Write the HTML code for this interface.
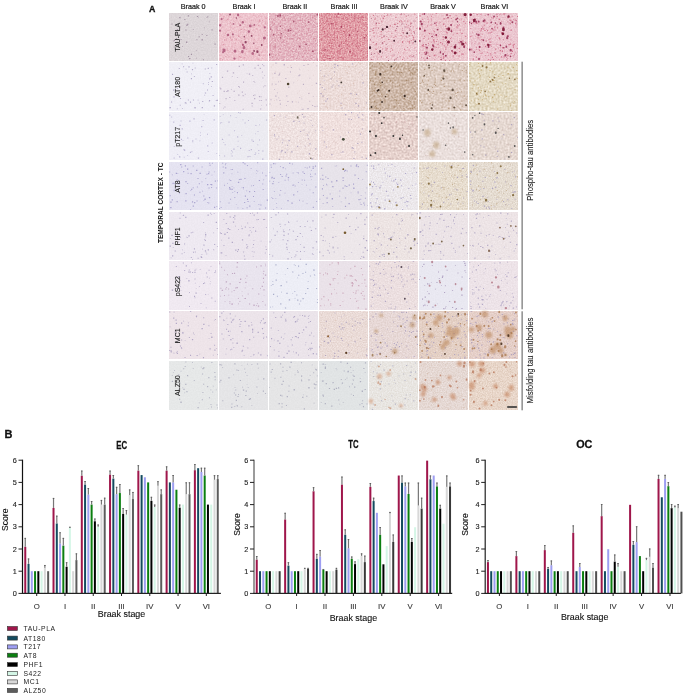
<!DOCTYPE html>
<html><head><meta charset="utf-8"><title>Figure</title>
<style>
html,body{margin:0;padding:0;background:#fff;}
body{width:685px;height:694px;overflow:hidden;}
svg{display:block;font-family:"Liberation Sans", Arial, sans-serif;}
</style></head>
<body>
<svg width="685" height="694" viewBox="0 0 685 694">
<defs><filter id="bl"><feGaussianBlur stdDeviation="0.9"/></filter><filter id="bs"><feGaussianBlur stdDeviation="0.45"/></filter><filter id="f00" x="0" y="0" width="1" height="1" color-interpolation-filters="sRGB"><feTurbulence type="fractalNoise" baseFrequency="0.7" numOctaves="2" seed="332" result="t"/><feColorMatrix in="t" type="matrix" values="0.080 0 0 0 0.460 0.080 0 0 0 0.460 0.080 0 0 0 0.460 0 0 0 0 1" result="n"/><feComposite in="SourceGraphic" in2="n" operator="arithmetic" k1="0" k2="1" k3="1" k4="-0.5"/></filter><filter id="f01" x="0" y="0" width="1" height="1" color-interpolation-filters="sRGB"><feTurbulence type="fractalNoise" baseFrequency="0.6" numOctaves="2" seed="979" result="t"/><feColorMatrix in="t" type="matrix" values="0.100 0 0 0 0.450 0.240 0 0 0 0.380 0.200 0 0 0 0.400 0 0 0 0 1" result="n"/><feComposite in="SourceGraphic" in2="n" operator="arithmetic" k1="0" k2="1" k3="1" k4="-0.5"/></filter><filter id="f02" x="0" y="0" width="1" height="1" color-interpolation-filters="sRGB"><feTurbulence type="fractalNoise" baseFrequency="0.6" numOctaves="2" seed="4" result="t"/><feColorMatrix in="t" type="matrix" values="0.180 0 0 0 0.410 0.440 0 0 0 0.280 0.340 0 0 0 0.330 0 0 0 0 1" result="n"/><feComposite in="SourceGraphic" in2="n" operator="arithmetic" k1="0" k2="1" k3="1" k4="-0.5"/></filter><filter id="f03" x="0" y="0" width="1" height="1" color-interpolation-filters="sRGB"><feTurbulence type="fractalNoise" baseFrequency="0.7" numOctaves="2" seed="636" result="t"/><feColorMatrix in="t" type="matrix" values="0.200 0 0 0 0.400 0.520 0 0 0 0.240 0.400 0 0 0 0.300 0 0 0 0 1" result="n"/><feComposite in="SourceGraphic" in2="n" operator="arithmetic" k1="0" k2="1" k3="1" k4="-0.5"/></filter><filter id="f04" x="0" y="0" width="1" height="1" color-interpolation-filters="sRGB"><feTurbulence type="fractalNoise" baseFrequency="0.7" numOctaves="2" seed="172" result="t"/><feColorMatrix in="t" type="matrix" values="0.100 0 0 0 0.450 0.240 0 0 0 0.380 0.200 0 0 0 0.400 0 0 0 0 1" result="n"/><feComposite in="SourceGraphic" in2="n" operator="arithmetic" k1="0" k2="1" k3="1" k4="-0.5"/></filter><filter id="f05" x="0" y="0" width="1" height="1" color-interpolation-filters="sRGB"><feTurbulence type="fractalNoise" baseFrequency="0.7" numOctaves="2" seed="249" result="t"/><feColorMatrix in="t" type="matrix" values="0.100 0 0 0 0.450 0.240 0 0 0 0.380 0.200 0 0 0 0.400 0 0 0 0 1" result="n"/><feComposite in="SourceGraphic" in2="n" operator="arithmetic" k1="0" k2="1" k3="1" k4="-0.5"/></filter><filter id="f06" x="0" y="0" width="1" height="1" color-interpolation-filters="sRGB"><feTurbulence type="fractalNoise" baseFrequency="0.7" numOctaves="2" seed="564" result="t"/><feColorMatrix in="t" type="matrix" values="0.100 0 0 0 0.450 0.240 0 0 0 0.380 0.200 0 0 0 0.400 0 0 0 0 1" result="n"/><feComposite in="SourceGraphic" in2="n" operator="arithmetic" k1="0" k2="1" k3="1" k4="-0.5"/></filter><filter id="f10" x="0" y="0" width="1" height="1" color-interpolation-filters="sRGB"><feTurbulence type="fractalNoise" baseFrequency="0.7" numOctaves="2" seed="679" result="t"/><feColorMatrix in="t" type="matrix" values="0.040 0 0 0 0.480 0.040 0 0 0 0.480 0.040 0 0 0 0.480 0 0 0 0 1" result="n"/><feComposite in="SourceGraphic" in2="n" operator="arithmetic" k1="0" k2="1" k3="1" k4="-0.5"/></filter><filter id="f11" x="0" y="0" width="1" height="1" color-interpolation-filters="sRGB"><feTurbulence type="fractalNoise" baseFrequency="0.7" numOctaves="2" seed="512" result="t"/><feColorMatrix in="t" type="matrix" values="0.040 0 0 0 0.480 0.040 0 0 0 0.480 0.040 0 0 0 0.480 0 0 0 0 1" result="n"/><feComposite in="SourceGraphic" in2="n" operator="arithmetic" k1="0" k2="1" k3="1" k4="-0.5"/></filter><filter id="f12" x="0" y="0" width="1" height="1" color-interpolation-filters="sRGB"><feTurbulence type="fractalNoise" baseFrequency="0.7" numOctaves="2" seed="136" result="t"/><feColorMatrix in="t" type="matrix" values="0.040 0 0 0 0.480 0.040 0 0 0 0.480 0.040 0 0 0 0.480 0 0 0 0 1" result="n"/><feComposite in="SourceGraphic" in2="n" operator="arithmetic" k1="0" k2="1" k3="1" k4="-0.5"/></filter><filter id="f13" x="0" y="0" width="1" height="1" color-interpolation-filters="sRGB"><feTurbulence type="fractalNoise" baseFrequency="0.6" numOctaves="2" seed="559" result="t"/><feColorMatrix in="t" type="matrix" values="0.140 0 0 0 0.430 0.180 0 0 0 0.410 0.200 0 0 0 0.400 0 0 0 0 1" result="n"/><feComposite in="SourceGraphic" in2="n" operator="arithmetic" k1="0" k2="1" k3="1" k4="-0.5"/></filter><filter id="f14" x="0" y="0" width="1" height="1" color-interpolation-filters="sRGB"><feTurbulence type="fractalNoise" baseFrequency="0.5" numOctaves="2" seed="369" result="t"/><feColorMatrix in="t" type="matrix" values="0.320 0 0 0 0.340 0.380 0 0 0 0.310 0.460 0 0 0 0.270 0 0 0 0 1" result="n"/><feComposite in="SourceGraphic" in2="n" operator="arithmetic" k1="0" k2="1" k3="1" k4="-0.5"/></filter><filter id="f15" x="0" y="0" width="1" height="1" color-interpolation-filters="sRGB"><feTurbulence type="fractalNoise" baseFrequency="0.5" numOctaves="2" seed="820" result="t"/><feColorMatrix in="t" type="matrix" values="0.260 0 0 0 0.370 0.300 0 0 0 0.350 0.360 0 0 0 0.320 0 0 0 0 1" result="n"/><feComposite in="SourceGraphic" in2="n" operator="arithmetic" k1="0" k2="1" k3="1" k4="-0.5"/></filter><filter id="f16" x="0" y="0" width="1" height="1" color-interpolation-filters="sRGB"><feTurbulence type="fractalNoise" baseFrequency="0.5" numOctaves="2" seed="81" result="t"/><feColorMatrix in="t" type="matrix" values="0.240 0 0 0 0.380 0.280 0 0 0 0.360 0.380 0 0 0 0.310 0 0 0 0 1" result="n"/><feComposite in="SourceGraphic" in2="n" operator="arithmetic" k1="0" k2="1" k3="1" k4="-0.5"/></filter><filter id="f20" x="0" y="0" width="1" height="1" color-interpolation-filters="sRGB"><feTurbulence type="fractalNoise" baseFrequency="0.7" numOctaves="2" seed="706" result="t"/><feColorMatrix in="t" type="matrix" values="0.040 0 0 0 0.480 0.040 0 0 0 0.480 0.040 0 0 0 0.480 0 0 0 0 1" result="n"/><feComposite in="SourceGraphic" in2="n" operator="arithmetic" k1="0" k2="1" k3="1" k4="-0.5"/></filter><filter id="f21" x="0" y="0" width="1" height="1" color-interpolation-filters="sRGB"><feTurbulence type="fractalNoise" baseFrequency="0.7" numOctaves="2" seed="314" result="t"/><feColorMatrix in="t" type="matrix" values="0.040 0 0 0 0.480 0.040 0 0 0 0.480 0.040 0 0 0 0.480 0 0 0 0 1" result="n"/><feComposite in="SourceGraphic" in2="n" operator="arithmetic" k1="0" k2="1" k3="1" k4="-0.5"/></filter><filter id="f22" x="0" y="0" width="1" height="1" color-interpolation-filters="sRGB"><feTurbulence type="fractalNoise" baseFrequency="0.6" numOctaves="2" seed="373" result="t"/><feColorMatrix in="t" type="matrix" values="0.140 0 0 0 0.430 0.180 0 0 0 0.410 0.180 0 0 0 0.410 0 0 0 0 1" result="n"/><feComposite in="SourceGraphic" in2="n" operator="arithmetic" k1="0" k2="1" k3="1" k4="-0.5"/></filter><filter id="f23" x="0" y="0" width="1" height="1" color-interpolation-filters="sRGB"><feTurbulence type="fractalNoise" baseFrequency="0.6" numOctaves="2" seed="777" result="t"/><feColorMatrix in="t" type="matrix" values="0.140 0 0 0 0.430 0.180 0 0 0 0.410 0.180 0 0 0 0.410 0 0 0 0 1" result="n"/><feComposite in="SourceGraphic" in2="n" operator="arithmetic" k1="0" k2="1" k3="1" k4="-0.5"/></filter><filter id="f24" x="0" y="0" width="1" height="1" color-interpolation-filters="sRGB"><feTurbulence type="fractalNoise" baseFrequency="0.5" numOctaves="2" seed="399" result="t"/><feColorMatrix in="t" type="matrix" values="0.280 0 0 0 0.360 0.320 0 0 0 0.340 0.320 0 0 0 0.340 0 0 0 0 1" result="n"/><feComposite in="SourceGraphic" in2="n" operator="arithmetic" k1="0" k2="1" k3="1" k4="-0.5"/></filter><filter id="f25" x="0" y="0" width="1" height="1" color-interpolation-filters="sRGB"><feTurbulence type="fractalNoise" baseFrequency="0.5" numOctaves="2" seed="261" result="t"/><feColorMatrix in="t" type="matrix" values="0.180 0 0 0 0.410 0.200 0 0 0 0.400 0.220 0 0 0 0.390 0 0 0 0 1" result="n"/><feComposite in="SourceGraphic" in2="n" operator="arithmetic" k1="0" k2="1" k3="1" k4="-0.5"/></filter><filter id="f26" x="0" y="0" width="1" height="1" color-interpolation-filters="sRGB"><feTurbulence type="fractalNoise" baseFrequency="0.5" numOctaves="2" seed="276" result="t"/><feColorMatrix in="t" type="matrix" values="0.200 0 0 0 0.400 0.220 0 0 0 0.390 0.240 0 0 0 0.380 0 0 0 0 1" result="n"/><feComposite in="SourceGraphic" in2="n" operator="arithmetic" k1="0" k2="1" k3="1" k4="-0.5"/></filter><filter id="f30" x="0" y="0" width="1" height="1" color-interpolation-filters="sRGB"><feTurbulence type="fractalNoise" baseFrequency="0.7" numOctaves="2" seed="669" result="t"/><feColorMatrix in="t" type="matrix" values="0.040 0 0 0 0.480 0.040 0 0 0 0.480 0.040 0 0 0 0.480 0 0 0 0 1" result="n"/><feComposite in="SourceGraphic" in2="n" operator="arithmetic" k1="0" k2="1" k3="1" k4="-0.5"/></filter><filter id="f31" x="0" y="0" width="1" height="1" color-interpolation-filters="sRGB"><feTurbulence type="fractalNoise" baseFrequency="0.7" numOctaves="2" seed="955" result="t"/><feColorMatrix in="t" type="matrix" values="0.040 0 0 0 0.480 0.040 0 0 0 0.480 0.040 0 0 0 0.480 0 0 0 0 1" result="n"/><feComposite in="SourceGraphic" in2="n" operator="arithmetic" k1="0" k2="1" k3="1" k4="-0.5"/></filter><filter id="f32" x="0" y="0" width="1" height="1" color-interpolation-filters="sRGB"><feTurbulence type="fractalNoise" baseFrequency="0.7" numOctaves="2" seed="119" result="t"/><feColorMatrix in="t" type="matrix" values="0.040 0 0 0 0.480 0.040 0 0 0 0.480 0.040 0 0 0 0.480 0 0 0 0 1" result="n"/><feComposite in="SourceGraphic" in2="n" operator="arithmetic" k1="0" k2="1" k3="1" k4="-0.5"/></filter><filter id="f33" x="0" y="0" width="1" height="1" color-interpolation-filters="sRGB"><feTurbulence type="fractalNoise" baseFrequency="0.7" numOctaves="2" seed="45" result="t"/><feColorMatrix in="t" type="matrix" values="0.040 0 0 0 0.480 0.040 0 0 0 0.480 0.040 0 0 0 0.480 0 0 0 0 1" result="n"/><feComposite in="SourceGraphic" in2="n" operator="arithmetic" k1="0" k2="1" k3="1" k4="-0.5"/></filter><filter id="f34" x="0" y="0" width="1" height="1" color-interpolation-filters="sRGB"><feTurbulence type="fractalNoise" baseFrequency="0.8" numOctaves="2" seed="876" result="t"/><feColorMatrix in="t" type="matrix" values="0.120 0 0 0 0.440 0.140 0 0 0 0.430 0.160 0 0 0 0.420 0 0 0 0 1" result="n"/><feComposite in="SourceGraphic" in2="n" operator="arithmetic" k1="0" k2="1" k3="1" k4="-0.5"/></filter><filter id="f35" x="0" y="0" width="1" height="1" color-interpolation-filters="sRGB"><feTurbulence type="fractalNoise" baseFrequency="0.8" numOctaves="2" seed="131" result="t"/><feColorMatrix in="t" type="matrix" values="0.160 0 0 0 0.420 0.190 0 0 0 0.405 0.240 0 0 0 0.380 0 0 0 0 1" result="n"/><feComposite in="SourceGraphic" in2="n" operator="arithmetic" k1="0" k2="1" k3="1" k4="-0.5"/></filter><filter id="f36" x="0" y="0" width="1" height="1" color-interpolation-filters="sRGB"><feTurbulence type="fractalNoise" baseFrequency="0.8" numOctaves="2" seed="799" result="t"/><feColorMatrix in="t" type="matrix" values="0.160 0 0 0 0.420 0.190 0 0 0 0.405 0.220 0 0 0 0.390 0 0 0 0 1" result="n"/><feComposite in="SourceGraphic" in2="n" operator="arithmetic" k1="0" k2="1" k3="1" k4="-0.5"/></filter><filter id="f40" x="0" y="0" width="1" height="1" color-interpolation-filters="sRGB"><feTurbulence type="fractalNoise" baseFrequency="0.7" numOctaves="2" seed="333" result="t"/><feColorMatrix in="t" type="matrix" values="0.040 0 0 0 0.480 0.040 0 0 0 0.480 0.040 0 0 0 0.480 0 0 0 0 1" result="n"/><feComposite in="SourceGraphic" in2="n" operator="arithmetic" k1="0" k2="1" k3="1" k4="-0.5"/></filter><filter id="f41" x="0" y="0" width="1" height="1" color-interpolation-filters="sRGB"><feTurbulence type="fractalNoise" baseFrequency="0.7" numOctaves="2" seed="990" result="t"/><feColorMatrix in="t" type="matrix" values="0.040 0 0 0 0.480 0.040 0 0 0 0.480 0.040 0 0 0 0.480 0 0 0 0 1" result="n"/><feComposite in="SourceGraphic" in2="n" operator="arithmetic" k1="0" k2="1" k3="1" k4="-0.5"/></filter><filter id="f42" x="0" y="0" width="1" height="1" color-interpolation-filters="sRGB"><feTurbulence type="fractalNoise" baseFrequency="0.7" numOctaves="2" seed="825" result="t"/><feColorMatrix in="t" type="matrix" values="0.040 0 0 0 0.480 0.040 0 0 0 0.480 0.040 0 0 0 0.480 0 0 0 0 1" result="n"/><feComposite in="SourceGraphic" in2="n" operator="arithmetic" k1="0" k2="1" k3="1" k4="-0.5"/></filter><filter id="f43" x="0" y="0" width="1" height="1" color-interpolation-filters="sRGB"><feTurbulence type="fractalNoise" baseFrequency="0.7" numOctaves="2" seed="270" result="t"/><feColorMatrix in="t" type="matrix" values="0.040 0 0 0 0.480 0.040 0 0 0 0.480 0.040 0 0 0 0.480 0 0 0 0 1" result="n"/><feComposite in="SourceGraphic" in2="n" operator="arithmetic" k1="0" k2="1" k3="1" k4="-0.5"/></filter><filter id="f44" x="0" y="0" width="1" height="1" color-interpolation-filters="sRGB"><feTurbulence type="fractalNoise" baseFrequency="0.7" numOctaves="2" seed="883" result="t"/><feColorMatrix in="t" type="matrix" values="0.080 0 0 0 0.460 0.100 0 0 0 0.450 0.100 0 0 0 0.450 0 0 0 0 1" result="n"/><feComposite in="SourceGraphic" in2="n" operator="arithmetic" k1="0" k2="1" k3="1" k4="-0.5"/></filter><filter id="f45" x="0" y="0" width="1" height="1" color-interpolation-filters="sRGB"><feTurbulence type="fractalNoise" baseFrequency="0.7" numOctaves="2" seed="427" result="t"/><feColorMatrix in="t" type="matrix" values="0.060 0 0 0 0.470 0.070 0 0 0 0.465 0.070 0 0 0 0.465 0 0 0 0 1" result="n"/><feComposite in="SourceGraphic" in2="n" operator="arithmetic" k1="0" k2="1" k3="1" k4="-0.5"/></filter><filter id="f46" x="0" y="0" width="1" height="1" color-interpolation-filters="sRGB"><feTurbulence type="fractalNoise" baseFrequency="0.7" numOctaves="2" seed="492" result="t"/><feColorMatrix in="t" type="matrix" values="0.080 0 0 0 0.460 0.090 0 0 0 0.455 0.090 0 0 0 0.455 0 0 0 0 1" result="n"/><feComposite in="SourceGraphic" in2="n" operator="arithmetic" k1="0" k2="1" k3="1" k4="-0.5"/></filter><filter id="f50" x="0" y="0" width="1" height="1" color-interpolation-filters="sRGB"><feTurbulence type="fractalNoise" baseFrequency="0.7" numOctaves="2" seed="714" result="t"/><feColorMatrix in="t" type="matrix" values="0.040 0 0 0 0.480 0.040 0 0 0 0.480 0.040 0 0 0 0.480 0 0 0 0 1" result="n"/><feComposite in="SourceGraphic" in2="n" operator="arithmetic" k1="0" k2="1" k3="1" k4="-0.5"/></filter><filter id="f51" x="0" y="0" width="1" height="1" color-interpolation-filters="sRGB"><feTurbulence type="fractalNoise" baseFrequency="0.7" numOctaves="2" seed="129" result="t"/><feColorMatrix in="t" type="matrix" values="0.040 0 0 0 0.480 0.040 0 0 0 0.480 0.040 0 0 0 0.480 0 0 0 0 1" result="n"/><feComposite in="SourceGraphic" in2="n" operator="arithmetic" k1="0" k2="1" k3="1" k4="-0.5"/></filter><filter id="f52" x="0" y="0" width="1" height="1" color-interpolation-filters="sRGB"><feTurbulence type="fractalNoise" baseFrequency="0.7" numOctaves="2" seed="424" result="t"/><feColorMatrix in="t" type="matrix" values="0.040 0 0 0 0.480 0.040 0 0 0 0.480 0.040 0 0 0 0.480 0 0 0 0 1" result="n"/><feComposite in="SourceGraphic" in2="n" operator="arithmetic" k1="0" k2="1" k3="1" k4="-0.5"/></filter><filter id="f53" x="0" y="0" width="1" height="1" color-interpolation-filters="sRGB"><feTurbulence type="fractalNoise" baseFrequency="0.7" numOctaves="2" seed="347" result="t"/><feColorMatrix in="t" type="matrix" values="0.040 0 0 0 0.480 0.040 0 0 0 0.480 0.040 0 0 0 0.480 0 0 0 0 1" result="n"/><feComposite in="SourceGraphic" in2="n" operator="arithmetic" k1="0" k2="1" k3="1" k4="-0.5"/></filter><filter id="f54" x="0" y="0" width="1" height="1" color-interpolation-filters="sRGB"><feTurbulence type="fractalNoise" baseFrequency="0.7" numOctaves="2" seed="409" result="t"/><feColorMatrix in="t" type="matrix" values="0.100 0 0 0 0.450 0.120 0 0 0 0.440 0.120 0 0 0 0.440 0 0 0 0 1" result="n"/><feComposite in="SourceGraphic" in2="n" operator="arithmetic" k1="0" k2="1" k3="1" k4="-0.5"/></filter><filter id="f55" x="0" y="0" width="1" height="1" color-interpolation-filters="sRGB"><feTurbulence type="fractalNoise" baseFrequency="0.7" numOctaves="2" seed="658" result="t"/><feColorMatrix in="t" type="matrix" values="0.040 0 0 0 0.480 0.040 0 0 0 0.480 0.040 0 0 0 0.480 0 0 0 0 1" result="n"/><feComposite in="SourceGraphic" in2="n" operator="arithmetic" k1="0" k2="1" k3="1" k4="-0.5"/></filter><filter id="f56" x="0" y="0" width="1" height="1" color-interpolation-filters="sRGB"><feTurbulence type="fractalNoise" baseFrequency="0.7" numOctaves="2" seed="166" result="t"/><feColorMatrix in="t" type="matrix" values="0.080 0 0 0 0.460 0.090 0 0 0 0.455 0.090 0 0 0 0.455 0 0 0 0 1" result="n"/><feComposite in="SourceGraphic" in2="n" operator="arithmetic" k1="0" k2="1" k3="1" k4="-0.5"/></filter><filter id="f60" x="0" y="0" width="1" height="1" color-interpolation-filters="sRGB"><feTurbulence type="fractalNoise" baseFrequency="0.7" numOctaves="2" seed="528" result="t"/><feColorMatrix in="t" type="matrix" values="0.040 0 0 0 0.480 0.040 0 0 0 0.480 0.040 0 0 0 0.480 0 0 0 0 1" result="n"/><feComposite in="SourceGraphic" in2="n" operator="arithmetic" k1="0" k2="1" k3="1" k4="-0.5"/></filter><filter id="f61" x="0" y="0" width="1" height="1" color-interpolation-filters="sRGB"><feTurbulence type="fractalNoise" baseFrequency="0.7" numOctaves="2" seed="888" result="t"/><feColorMatrix in="t" type="matrix" values="0.040 0 0 0 0.480 0.040 0 0 0 0.480 0.040 0 0 0 0.480 0 0 0 0 1" result="n"/><feComposite in="SourceGraphic" in2="n" operator="arithmetic" k1="0" k2="1" k3="1" k4="-0.5"/></filter><filter id="f62" x="0" y="0" width="1" height="1" color-interpolation-filters="sRGB"><feTurbulence type="fractalNoise" baseFrequency="0.7" numOctaves="2" seed="406" result="t"/><feColorMatrix in="t" type="matrix" values="0.040 0 0 0 0.480 0.040 0 0 0 0.480 0.040 0 0 0 0.480 0 0 0 0 1" result="n"/><feComposite in="SourceGraphic" in2="n" operator="arithmetic" k1="0" k2="1" k3="1" k4="-0.5"/></filter><filter id="f63" x="0" y="0" width="1" height="1" color-interpolation-filters="sRGB"><feTurbulence type="fractalNoise" baseFrequency="0.8" numOctaves="2" seed="870" result="t"/><feColorMatrix in="t" type="matrix" values="0.120 0 0 0 0.440 0.160 0 0 0 0.420 0.180 0 0 0 0.410 0 0 0 0 1" result="n"/><feComposite in="SourceGraphic" in2="n" operator="arithmetic" k1="0" k2="1" k3="1" k4="-0.5"/></filter><filter id="f64" x="0" y="0" width="1" height="1" color-interpolation-filters="sRGB"><feTurbulence type="fractalNoise" baseFrequency="0.8" numOctaves="2" seed="808" result="t"/><feColorMatrix in="t" type="matrix" values="0.120 0 0 0 0.440 0.150 0 0 0 0.425 0.180 0 0 0 0.410 0 0 0 0 1" result="n"/><feComposite in="SourceGraphic" in2="n" operator="arithmetic" k1="0" k2="1" k3="1" k4="-0.5"/></filter><filter id="f65" x="0" y="0" width="1" height="1" color-interpolation-filters="sRGB"><feTurbulence type="fractalNoise" baseFrequency="0.8" numOctaves="2" seed="987" result="t"/><feColorMatrix in="t" type="matrix" values="0.120 0 0 0 0.440 0.160 0 0 0 0.420 0.200 0 0 0 0.400 0 0 0 0 1" result="n"/><feComposite in="SourceGraphic" in2="n" operator="arithmetic" k1="0" k2="1" k3="1" k4="-0.5"/></filter><filter id="f66" x="0" y="0" width="1" height="1" color-interpolation-filters="sRGB"><feTurbulence type="fractalNoise" baseFrequency="0.8" numOctaves="2" seed="611" result="t"/><feColorMatrix in="t" type="matrix" values="0.120 0 0 0 0.440 0.160 0 0 0 0.420 0.200 0 0 0 0.400 0 0 0 0 1" result="n"/><feComposite in="SourceGraphic" in2="n" operator="arithmetic" k1="0" k2="1" k3="1" k4="-0.5"/></filter><filter id="f70" x="0" y="0" width="1" height="1" color-interpolation-filters="sRGB"><feTurbulence type="fractalNoise" baseFrequency="0.7" numOctaves="2" seed="513" result="t"/><feColorMatrix in="t" type="matrix" values="0.040 0 0 0 0.480 0.040 0 0 0 0.480 0.040 0 0 0 0.480 0 0 0 0 1" result="n"/><feComposite in="SourceGraphic" in2="n" operator="arithmetic" k1="0" k2="1" k3="1" k4="-0.5"/></filter><filter id="f71" x="0" y="0" width="1" height="1" color-interpolation-filters="sRGB"><feTurbulence type="fractalNoise" baseFrequency="0.7" numOctaves="2" seed="92" result="t"/><feColorMatrix in="t" type="matrix" values="0.040 0 0 0 0.480 0.040 0 0 0 0.480 0.040 0 0 0 0.480 0 0 0 0 1" result="n"/><feComposite in="SourceGraphic" in2="n" operator="arithmetic" k1="0" k2="1" k3="1" k4="-0.5"/></filter><filter id="f72" x="0" y="0" width="1" height="1" color-interpolation-filters="sRGB"><feTurbulence type="fractalNoise" baseFrequency="0.7" numOctaves="2" seed="631" result="t"/><feColorMatrix in="t" type="matrix" values="0.040 0 0 0 0.480 0.040 0 0 0 0.480 0.040 0 0 0 0.480 0 0 0 0 1" result="n"/><feComposite in="SourceGraphic" in2="n" operator="arithmetic" k1="0" k2="1" k3="1" k4="-0.5"/></filter><filter id="f73" x="0" y="0" width="1" height="1" color-interpolation-filters="sRGB"><feTurbulence type="fractalNoise" baseFrequency="0.7" numOctaves="2" seed="719" result="t"/><feColorMatrix in="t" type="matrix" values="0.040 0 0 0 0.480 0.040 0 0 0 0.480 0.040 0 0 0 0.480 0 0 0 0 1" result="n"/><feComposite in="SourceGraphic" in2="n" operator="arithmetic" k1="0" k2="1" k3="1" k4="-0.5"/></filter><filter id="f74" x="0" y="0" width="1" height="1" color-interpolation-filters="sRGB"><feTurbulence type="fractalNoise" baseFrequency="0.8" numOctaves="2" seed="993" result="t"/><feColorMatrix in="t" type="matrix" values="0.100 0 0 0 0.450 0.120 0 0 0 0.440 0.160 0 0 0 0.420 0 0 0 0 1" result="n"/><feComposite in="SourceGraphic" in2="n" operator="arithmetic" k1="0" k2="1" k3="1" k4="-0.5"/></filter><filter id="f75" x="0" y="0" width="1" height="1" color-interpolation-filters="sRGB"><feTurbulence type="fractalNoise" baseFrequency="0.8" numOctaves="2" seed="613" result="t"/><feColorMatrix in="t" type="matrix" values="0.120 0 0 0 0.440 0.160 0 0 0 0.420 0.200 0 0 0 0.400 0 0 0 0 1" result="n"/><feComposite in="SourceGraphic" in2="n" operator="arithmetic" k1="0" k2="1" k3="1" k4="-0.5"/></filter><filter id="f76" x="0" y="0" width="1" height="1" color-interpolation-filters="sRGB"><feTurbulence type="fractalNoise" baseFrequency="0.8" numOctaves="2" seed="813" result="t"/><feColorMatrix in="t" type="matrix" values="0.140 0 0 0 0.430 0.180 0 0 0 0.410 0.220 0 0 0 0.390 0 0 0 0 1" result="n"/><feComposite in="SourceGraphic" in2="n" operator="arithmetic" k1="0" k2="1" k3="1" k4="-0.5"/></filter></defs>
<rect x="0" y="0" width="685" height="694" fill="#ffffff"/>
<rect x="169" y="13" width="49" height="48" fill="#ddd6d9" filter="url(#f00)"/><path d="M187.8 15.3h1.3v1.3h-1.3zM173.5 40.3h1.2v1.2h-1.2zM179.3 17.0h1.2v1.2h-1.2zM180.6 38.9h1.0v1.0h-1.0zM196.3 57.8h0.7v0.7h-0.7zM196.9 15.9h1.1v1.1h-1.1zM171.4 23.4h1.1v1.1h-1.1zM175.4 32.7h1.0v1.0h-1.0zM196.4 39.3h1.0v1.0h-1.0zM173.9 39.8h1.1v1.1h-1.1zM173.7 46.6h0.8v0.8h-0.8zM198.7 36.3h1.0v1.0h-1.0zM206.3 34.9h1.0v1.0h-1.0zM186.3 24.6h1.3v1.3h-1.3zM206.6 16.9h0.8v0.8h-0.8zM192.8 29.2h0.9v0.9h-0.9zM198.2 16.4h1.0v1.0h-1.0zM176.9 29.1h1.0v1.0h-1.0zM189.1 58.0h1.3v1.3h-1.3zM195.9 50.3h0.7v0.7h-0.7zM185.3 29.4h1.2v1.2h-1.2zM207.3 16.2h1.0v1.0h-1.0zM182.0 45.9h0.8v0.8h-0.8zM204.3 27.6h0.7v0.7h-0.7zM201.7 33.9h1.0v1.0h-1.0zM211.5 29.3h1.1v1.1h-1.1zM186.0 41.6h1.3v1.3h-1.3zM179.5 26.5h1.0v1.0h-1.0zM188.0 56.0h1.1v1.1h-1.1zM177.0 31.9h1.0v1.0h-1.0zM175.6 33.3h0.9v0.9h-0.9zM202.9 59.3h1.0v1.0h-1.0zM187.2 23.8h1.1v1.1h-1.1zM176.3 44.1h0.7v0.7h-0.7zM209.1 21.6h0.7v0.7h-0.7zM176.0 38.2h0.9v0.9h-0.9zM184.3 18.9h1.1v1.1h-1.1zM214.4 43.6h1.2v1.2h-1.2zM190.9 53.8h1.1v1.1h-1.1zM201.5 39.1h1.3v1.3h-1.3z" fill="#8e7890" opacity="0.7"/><path d="M188.0 35.7h0.8v0.8h-0.8zM178.2 59.5h0.8v0.8h-0.8zM174.3 41.3h0.8v0.8h-0.8zM196.4 38.4h0.7v0.7h-0.7zM198.5 16.3h1.0v1.0h-1.0zM187.1 43.0h0.8v0.8h-0.8z" fill="#f6f2f2" opacity="0.9"/>
<rect x="219" y="13" width="49" height="48" fill="#edc4cd" filter="url(#f01)"/><path d="M236.5 18.8h0.8v0.8h-0.8zM266.5 34.8h1.2v1.2h-1.2zM223.1 17.8h0.9v0.9h-0.9zM231.8 52.1h0.8v0.8h-0.8zM220.1 58.0h0.7v0.7h-0.7zM226.0 38.5h1.0v1.0h-1.0zM244.6 59.4h0.6v0.6h-0.6zM252.3 25.2h1.2v1.2h-1.2zM227.0 49.4h0.9v0.9h-0.9zM256.4 28.5h1.0v1.0h-1.0zM258.2 59.5h0.8v0.8h-0.8zM257.5 51.3h1.2v1.2h-1.2zM229.9 37.3h1.1v1.1h-1.1zM220.4 14.3h0.8v0.8h-0.8zM231.5 45.7h0.8v0.8h-0.8zM240.3 56.8h1.3v1.3h-1.3zM264.6 30.0h1.3v1.3h-1.3zM229.9 22.3h0.8v0.8h-0.8zM249.1 55.5h0.7v0.7h-0.7zM241.9 43.6h1.2v1.2h-1.2zM223.1 43.9h1.2v1.2h-1.2zM256.4 48.1h1.2v1.2h-1.2zM227.6 50.1h0.9v0.9h-0.9zM257.6 58.8h0.8v0.8h-0.8zM238.3 57.6h0.9v0.9h-0.9zM227.1 19.0h1.1v1.1h-1.1zM262.7 51.1h0.7v0.7h-0.7zM258.9 59.4h0.7v0.7h-0.7zM235.8 38.8h1.1v1.1h-1.1zM219.7 58.9h0.7v0.7h-0.7zM244.2 56.8h1.1v1.1h-1.1zM260.9 51.9h0.9v0.9h-0.9zM231.2 26.8h0.7v0.7h-0.7zM247.3 25.3h0.8v0.8h-0.8zM225.3 55.9h0.9v0.9h-0.9zM241.1 40.5h0.8v0.8h-0.8zM239.1 55.9h1.2v1.2h-1.2zM244.6 37.6h1.0v1.0h-1.0zM240.3 21.7h0.6v0.6h-0.6zM257.7 21.2h0.6v0.6h-0.6zM253.9 39.2h0.9v0.9h-0.9zM244.0 39.2h0.8v0.8h-0.8zM224.1 39.3h1.1v1.1h-1.1zM232.4 49.5h0.8v0.8h-0.8zM246.0 48.8h1.0v1.0h-1.0zM240.2 41.6h1.2v1.2h-1.2zM243.6 45.6h1.0v1.0h-1.0zM244.6 35.5h0.9v0.9h-0.9zM252.4 54.0h1.3v1.3h-1.3zM231.4 39.2h1.3v1.3h-1.3zM259.1 19.4h1.3v1.3h-1.3zM240.4 16.4h0.7v0.7h-0.7zM222.5 44.6h0.8v0.8h-0.8zM261.9 20.2h1.1v1.1h-1.1zM250.6 19.7h1.1v1.1h-1.1zM265.2 23.3h1.2v1.2h-1.2zM238.0 35.8h1.3v1.3h-1.3zM258.7 20.5h1.3v1.3h-1.3zM243.8 29.0h0.9v0.9h-0.9zM234.4 47.1h0.7v0.7h-0.7zM245.8 33.9h0.6v0.6h-0.6zM235.0 42.6h0.6v0.6h-0.6zM222.1 59.3h1.0v1.0h-1.0zM265.5 17.9h1.2v1.2h-1.2zM220.9 49.8h0.8v0.8h-0.8zM225.2 32.9h0.8v0.8h-0.8zM258.1 25.1h1.2v1.2h-1.2zM263.4 40.0h0.7v0.7h-0.7zM223.3 15.7h1.1v1.1h-1.1zM239.4 16.4h1.1v1.1h-1.1zM249.3 50.5h1.3v1.3h-1.3zM260.4 16.2h0.7v0.7h-0.7zM240.7 28.9h1.2v1.2h-1.2zM263.5 25.6h1.0v1.0h-1.0zM244.5 24.3h0.7v0.7h-0.7zM226.8 15.4h0.7v0.7h-0.7zM234.1 27.4h0.7v0.7h-0.7zM232.9 36.4h1.1v1.1h-1.1zM235.8 13.9h0.7v0.7h-0.7zM219.7 47.6h0.8v0.8h-0.8z" fill="#d88ca0" opacity="0.8"/><path d="M226.7 34.9a1.2 1.2 0 1 0 2.5 0a1.2 1.2 0 1 0 -2.5 0zM222.5 50.4a1.5 1.5 0 1 0 2.9 0a1.5 1.5 0 1 0 -2.9 0zM241.2 51.6a1.2 1.2 0 1 0 2.3 0a1.2 1.2 0 1 0 -2.3 0zM241.8 44.9a1.1 1.1 0 1 0 2.3 0a1.1 1.1 0 1 0 -2.3 0zM233.5 51.0a1.5 1.5 0 1 0 3.0 0a1.5 1.5 0 1 0 -3.0 0zM247.5 31.6a1.3 1.3 0 1 0 2.6 0a1.3 1.3 0 1 0 -2.6 0zM220.5 19.0a1.1 1.1 0 1 0 2.2 0a1.1 1.1 0 1 0 -2.2 0zM253.4 24.9a0.9 0.9 0 1 0 1.9 0a0.9 0.9 0 1 0 -1.9 0zM222.0 52.2a1.0 1.0 0 1 0 2.0 0a1.0 1.0 0 1 0 -2.0 0zM248.9 25.9a1.4 1.4 0 1 0 2.8 0a1.4 1.4 0 1 0 -2.8 0zM231.9 34.4a1.0 1.0 0 1 0 2.1 0a1.0 1.0 0 1 0 -2.1 0zM239.2 25.3a1.0 1.0 0 1 0 2.0 0a1.0 1.0 0 1 0 -2.0 0zM262.9 38.0a1.5 1.5 0 1 0 3.0 0a1.5 1.5 0 1 0 -3.0 0zM263.8 27.4a1.0 1.0 0 1 0 2.1 0a1.0 1.0 0 1 0 -2.1 0zM219.0 30.7a1.1 1.1 0 1 0 2.2 0a1.1 1.1 0 1 0 -2.2 0zM241.6 22.3a1.2 1.2 0 1 0 2.4 0a1.2 1.2 0 1 0 -2.4 0zM219.0 25.2a1.2 1.2 0 1 0 2.4 0a1.2 1.2 0 1 0 -2.4 0zM237.1 14.9a1.0 1.0 0 1 0 1.9 0a1.0 1.0 0 1 0 -1.9 0zM232.6 23.9a0.9 0.9 0 1 0 1.8 0a0.9 0.9 0 1 0 -1.8 0zM242.7 47.6a1.3 1.3 0 1 0 2.5 0a1.3 1.3 0 1 0 -2.5 0zM251.4 53.4a1.3 1.3 0 1 0 2.6 0a1.3 1.3 0 1 0 -2.6 0zM233.3 58.6a1.1 1.1 0 1 0 2.3 0a1.1 1.1 0 1 0 -2.3 0z" fill="#a04068" opacity="0.7" filter="url(#bs)"/><path d="M253.1 43.3a0.7 0.7 0 1 0 1.5 0a0.7 0.7 0 1 0 -1.5 0zM258.5 55.1a0.7 0.7 0 1 0 1.4 0a0.7 0.7 0 1 0 -1.4 0zM253.2 51.0a0.9 0.9 0 1 0 1.8 0a0.9 0.9 0 1 0 -1.8 0zM243.5 36.8a0.7 0.7 0 1 0 1.5 0a0.7 0.7 0 1 0 -1.5 0zM256.4 51.6a1.0 1.0 0 1 0 1.9 0a1.0 1.0 0 1 0 -1.9 0zM260.8 45.0a0.9 0.9 0 1 0 1.8 0a0.9 0.9 0 1 0 -1.8 0zM229.1 14.5a0.9 0.9 0 1 0 1.8 0a0.9 0.9 0 1 0 -1.8 0zM235.6 17.9a0.7 0.7 0 1 0 1.5 0a0.7 0.7 0 1 0 -1.5 0zM244.7 42.3a1.0 1.0 0 1 0 1.9 0a1.0 1.0 0 1 0 -1.9 0zM250.7 35.9a0.9 0.9 0 1 0 1.8 0a0.9 0.9 0 1 0 -1.8 0z" fill="#7a2448" opacity="0.8"/>
<rect x="269" y="13" width="49" height="48" fill="#e4b6c1" filter="url(#f02)"/><path d="M272.4 57.0h0.8v0.8h-0.8zM273.4 37.7h1.1v1.1h-1.1zM291.7 51.0h1.0v1.0h-1.0zM280.2 48.5h1.1v1.1h-1.1zM300.4 34.8h0.7v0.7h-0.7zM272.7 55.7h1.1v1.1h-1.1zM271.3 42.9h0.7v0.7h-0.7zM298.0 28.7h0.6v0.6h-0.6zM302.3 42.2h1.0v1.0h-1.0zM292.4 36.0h0.6v0.6h-0.6zM273.8 23.2h1.2v1.2h-1.2zM303.1 26.5h0.8v0.8h-0.8zM306.0 59.9h0.8v0.8h-0.8zM284.0 17.0h0.9v0.9h-0.9zM282.9 16.6h0.8v0.8h-0.8zM316.9 59.9h0.9v0.9h-0.9zM313.2 56.9h0.8v0.8h-0.8zM273.4 48.5h0.6v0.6h-0.6zM286.4 41.5h0.7v0.7h-0.7zM282.4 18.3h0.9v0.9h-0.9zM293.0 54.4h0.8v0.8h-0.8zM276.7 57.9h0.8v0.8h-0.8zM288.5 47.2h1.0v1.0h-1.0zM287.1 18.7h0.8v0.8h-0.8zM284.7 29.0h0.7v0.7h-0.7zM314.3 22.2h0.8v0.8h-0.8zM304.9 25.0h0.5v0.5h-0.5zM287.9 54.3h0.5v0.5h-0.5zM313.8 48.9h0.6v0.6h-0.6zM282.4 15.4h1.1v1.1h-1.1zM299.5 20.0h1.0v1.0h-1.0zM289.9 27.8h1.2v1.2h-1.2zM306.7 33.1h1.0v1.0h-1.0zM305.9 32.0h0.5v0.5h-0.5zM295.5 22.5h1.1v1.1h-1.1zM314.2 32.5h0.6v0.6h-0.6zM275.7 53.9h0.9v0.9h-0.9zM312.9 38.9h0.8v0.8h-0.8zM289.1 26.3h0.6v0.6h-0.6zM304.7 43.9h0.7v0.7h-0.7zM280.5 35.8h0.8v0.8h-0.8zM274.8 43.3h1.0v1.0h-1.0zM293.3 51.5h0.6v0.6h-0.6zM290.8 28.7h0.9v0.9h-0.9zM289.5 38.7h1.0v1.0h-1.0zM277.4 39.3h0.7v0.7h-0.7zM286.8 51.3h0.7v0.7h-0.7zM270.0 54.2h0.6v0.6h-0.6zM305.0 22.9h0.8v0.8h-0.8zM305.3 36.6h0.7v0.7h-0.7zM286.3 45.3h0.9v0.9h-0.9zM307.0 53.0h0.9v0.9h-0.9zM312.4 31.2h0.6v0.6h-0.6zM289.7 27.7h1.0v1.0h-1.0zM315.4 19.0h1.1v1.1h-1.1zM305.8 51.0h0.8v0.8h-0.8zM292.4 16.4h1.2v1.2h-1.2zM313.4 37.7h1.2v1.2h-1.2zM290.6 49.9h0.8v0.8h-0.8zM276.4 59.0h0.7v0.7h-0.7zM309.0 46.2h0.6v0.6h-0.6zM311.9 17.0h1.1v1.1h-1.1zM269.1 18.9h1.0v1.0h-1.0zM270.8 46.7h0.9v0.9h-0.9zM299.0 37.7h1.2v1.2h-1.2zM305.8 17.7h0.8v0.8h-0.8zM314.6 22.1h0.7v0.7h-0.7zM307.2 13.1h0.7v0.7h-0.7zM316.9 26.1h0.9v0.9h-0.9zM309.5 24.5h0.7v0.7h-0.7zM295.3 14.4h0.9v0.9h-0.9zM300.3 15.6h0.8v0.8h-0.8zM311.8 43.7h0.6v0.6h-0.6zM280.0 33.1h0.6v0.6h-0.6zM292.8 45.9h0.8v0.8h-0.8zM286.4 31.6h1.0v1.0h-1.0zM283.2 53.1h0.5v0.5h-0.5zM293.0 22.5h0.5v0.5h-0.5zM278.3 34.8h1.0v1.0h-1.0zM312.0 18.2h0.7v0.7h-0.7zM298.3 55.2h0.9v0.9h-0.9zM312.8 15.7h0.8v0.8h-0.8zM313.3 15.6h0.9v0.9h-0.9zM297.9 32.7h0.5v0.5h-0.5zM277.8 34.1h1.0v1.0h-1.0zM284.1 18.3h1.0v1.0h-1.0zM277.0 22.0h0.6v0.6h-0.6zM294.2 35.0h1.0v1.0h-1.0zM304.0 52.7h0.7v0.7h-0.7zM290.2 18.1h1.2v1.2h-1.2zM272.9 32.9h0.6v0.6h-0.6zM295.9 48.6h1.1v1.1h-1.1zM306.1 27.6h0.8v0.8h-0.8zM273.2 46.1h1.1v1.1h-1.1zM295.2 34.1h0.6v0.6h-0.6zM304.6 35.4h0.7v0.7h-0.7zM280.9 42.4h0.9v0.9h-0.9zM287.1 34.9h0.8v0.8h-0.8zM272.0 22.2h1.1v1.1h-1.1zM298.3 30.2h0.5v0.5h-0.5zM315.0 15.1h0.7v0.7h-0.7zM302.1 56.4h1.0v1.0h-1.0zM303.8 41.2h0.7v0.7h-0.7zM314.4 16.1h1.1v1.1h-1.1zM274.1 46.6h1.1v1.1h-1.1zM306.4 50.3h0.8v0.8h-0.8zM308.0 19.2h1.1v1.1h-1.1zM269.4 56.9h0.8v0.8h-0.8zM302.4 20.2h0.7v0.7h-0.7zM310.6 34.8h0.7v0.7h-0.7zM297.6 37.0h1.0v1.0h-1.0zM276.7 32.3h0.8v0.8h-0.8zM292.1 38.6h1.0v1.0h-1.0zM289.6 18.0h0.6v0.6h-0.6zM299.3 22.9h0.6v0.6h-0.6zM316.6 58.9h0.8v0.8h-0.8zM275.4 34.8h0.6v0.6h-0.6zM280.2 38.2h1.1v1.1h-1.1zM305.4 49.6h1.0v1.0h-1.0zM282.5 25.7h0.7v0.7h-0.7z" fill="#cf8496" opacity="0.8"/><path d="M280.8 33.7a0.7 0.7 0 1 0 1.4 0a0.7 0.7 0 1 0 -1.4 0zM279.7 26.3a0.7 0.7 0 1 0 1.4 0a0.7 0.7 0 1 0 -1.4 0zM277.1 16.0a0.9 0.9 0 1 0 1.8 0a0.9 0.9 0 1 0 -1.8 0zM280.1 37.8a0.7 0.7 0 1 0 1.4 0a0.7 0.7 0 1 0 -1.4 0zM273.0 34.8a0.8 0.8 0 1 0 1.6 0a0.8 0.8 0 1 0 -1.6 0zM269.0 54.7a0.7 0.7 0 1 0 1.3 0a0.7 0.7 0 1 0 -1.3 0zM289.9 30.6a0.7 0.7 0 1 0 1.4 0a0.7 0.7 0 1 0 -1.4 0zM279.3 15.4a0.9 0.9 0 1 0 1.7 0a0.9 0.9 0 1 0 -1.7 0zM307.9 22.1a0.8 0.8 0 1 0 1.6 0a0.8 0.8 0 1 0 -1.6 0zM293.1 21.4a0.7 0.7 0 1 0 1.3 0a0.7 0.7 0 1 0 -1.3 0zM305.4 44.2a0.8 0.8 0 1 0 1.6 0a0.8 0.8 0 1 0 -1.6 0zM299.1 46.6a0.7 0.7 0 1 0 1.3 0a0.7 0.7 0 1 0 -1.3 0zM270.1 29.0a0.7 0.7 0 1 0 1.5 0a0.7 0.7 0 1 0 -1.5 0zM316.6 14.8a0.7 0.7 0 1 0 1.3 0a0.7 0.7 0 1 0 -1.3 0zM312.0 51.2a0.8 0.8 0 1 0 1.7 0a0.8 0.8 0 1 0 -1.7 0zM287.7 30.4a0.9 0.9 0 1 0 1.7 0a0.9 0.9 0 1 0 -1.7 0z" fill="#963658" opacity="0.8"/>
<rect x="319" y="13" width="49" height="48" fill="#e19ea7" filter="url(#f03)"/><path d="M328.8 50.6h0.7v0.7h-0.7zM322.0 17.8h0.9v0.9h-0.9zM345.5 43.2h0.8v0.8h-0.8zM326.9 46.0h0.6v0.6h-0.6zM332.6 27.5h0.8v0.8h-0.8zM333.9 39.5h1.3v1.3h-1.3zM339.1 53.8h0.8v0.8h-0.8zM336.4 22.2h1.3v1.3h-1.3zM328.8 13.3h1.1v1.1h-1.1zM339.2 51.4h1.2v1.2h-1.2zM361.5 34.7h0.8v0.8h-0.8zM319.7 39.1h0.6v0.6h-0.6zM362.7 17.2h1.0v1.0h-1.0zM336.8 36.7h1.0v1.0h-1.0zM332.7 37.7h0.6v0.6h-0.6zM324.2 35.9h1.2v1.2h-1.2zM365.3 22.2h1.1v1.1h-1.1zM364.6 59.2h0.6v0.6h-0.6zM321.6 56.6h0.9v0.9h-0.9zM362.6 42.3h0.8v0.8h-0.8zM326.7 49.8h1.2v1.2h-1.2zM338.5 53.1h0.7v0.7h-0.7zM327.8 23.2h1.2v1.2h-1.2zM344.0 31.1h0.8v0.8h-0.8zM331.0 47.4h0.6v0.6h-0.6zM321.0 39.3h1.2v1.2h-1.2zM320.8 52.3h1.1v1.1h-1.1zM348.0 39.1h0.6v0.6h-0.6zM333.7 32.7h1.0v1.0h-1.0zM339.4 44.0h1.0v1.0h-1.0zM340.1 14.1h0.9v0.9h-0.9zM342.5 24.1h1.0v1.0h-1.0zM356.4 34.5h1.1v1.1h-1.1zM341.9 18.1h0.6v0.6h-0.6zM339.8 17.3h0.6v0.6h-0.6zM343.6 14.9h0.9v0.9h-0.9zM322.9 47.5h1.0v1.0h-1.0zM343.5 15.5h1.1v1.1h-1.1zM337.2 57.8h0.9v0.9h-0.9zM360.5 60.2h0.6v0.6h-0.6zM358.0 22.1h1.1v1.1h-1.1zM342.5 57.7h1.3v1.3h-1.3zM326.9 49.9h1.2v1.2h-1.2zM322.1 29.4h1.2v1.2h-1.2zM326.6 55.0h1.1v1.1h-1.1zM358.4 19.8h0.7v0.7h-0.7zM363.2 22.8h0.9v0.9h-0.9zM343.4 28.1h0.7v0.7h-0.7zM327.8 20.7h0.5v0.5h-0.5zM351.5 54.9h1.2v1.2h-1.2zM357.0 18.5h0.6v0.6h-0.6zM349.6 29.9h0.9v0.9h-0.9zM345.5 40.1h1.2v1.2h-1.2zM324.0 59.5h1.2v1.2h-1.2zM337.9 50.5h1.0v1.0h-1.0zM366.8 40.3h0.7v0.7h-0.7zM355.9 33.9h0.8v0.8h-0.8zM355.0 15.3h0.6v0.6h-0.6zM331.1 42.9h1.2v1.2h-1.2zM347.0 44.0h1.3v1.3h-1.3zM319.1 14.6h0.8v0.8h-0.8zM348.8 33.5h0.6v0.6h-0.6zM362.1 19.2h0.9v0.9h-0.9zM350.6 14.1h0.7v0.7h-0.7zM336.2 18.1h0.5v0.5h-0.5zM329.8 40.6h0.8v0.8h-0.8zM328.8 42.3h1.0v1.0h-1.0zM325.5 57.1h0.9v0.9h-0.9zM326.2 17.5h0.7v0.7h-0.7zM360.8 49.8h1.0v1.0h-1.0zM331.7 13.5h0.8v0.8h-0.8zM346.0 29.5h1.0v1.0h-1.0zM340.3 57.0h1.0v1.0h-1.0zM330.9 55.4h1.1v1.1h-1.1zM344.8 32.3h0.5v0.5h-0.5zM321.8 49.8h0.7v0.7h-0.7zM345.7 57.7h0.5v0.5h-0.5zM328.7 41.8h0.6v0.6h-0.6zM349.9 51.3h0.9v0.9h-0.9zM334.0 27.2h0.6v0.6h-0.6zM362.1 50.2h0.5v0.5h-0.5zM319.3 52.6h1.1v1.1h-1.1zM341.3 47.8h1.1v1.1h-1.1zM329.9 18.0h0.9v0.9h-0.9zM320.9 28.9h0.7v0.7h-0.7zM352.3 52.6h1.1v1.1h-1.1zM331.7 39.0h1.1v1.1h-1.1zM357.0 37.7h0.8v0.8h-0.8zM350.0 58.6h0.7v0.7h-0.7zM361.5 13.7h0.7v0.7h-0.7zM330.4 48.2h0.7v0.7h-0.7zM354.6 28.3h1.3v1.3h-1.3zM334.7 24.2h1.2v1.2h-1.2zM349.1 45.4h1.2v1.2h-1.2zM366.0 35.1h1.0v1.0h-1.0zM352.4 53.2h1.2v1.2h-1.2zM353.9 39.9h0.8v0.8h-0.8zM329.2 42.4h0.7v0.7h-0.7zM363.1 19.9h0.6v0.6h-0.6zM324.2 57.1h0.5v0.5h-0.5zM325.8 14.4h0.8v0.8h-0.8zM352.6 43.1h0.5v0.5h-0.5zM354.3 16.1h1.1v1.1h-1.1zM336.5 51.4h1.0v1.0h-1.0zM361.6 16.1h1.2v1.2h-1.2zM362.7 57.2h1.2v1.2h-1.2zM329.0 18.3h0.6v0.6h-0.6zM360.1 51.5h0.5v0.5h-0.5zM358.6 42.7h1.0v1.0h-1.0zM323.8 17.6h0.7v0.7h-0.7zM328.8 28.0h1.1v1.1h-1.1zM320.0 25.1h0.8v0.8h-0.8zM353.6 30.4h0.7v0.7h-0.7zM365.5 36.8h0.8v0.8h-0.8zM348.6 14.5h1.2v1.2h-1.2zM340.0 49.5h0.8v0.8h-0.8zM353.0 38.4h0.8v0.8h-0.8zM360.7 17.3h0.7v0.7h-0.7zM327.2 13.1h1.2v1.2h-1.2zM355.8 59.3h0.7v0.7h-0.7zM342.8 36.3h0.5v0.5h-0.5zM327.8 36.2h1.1v1.1h-1.1zM359.1 25.3h0.8v0.8h-0.8zM332.5 23.0h1.3v1.3h-1.3zM342.9 18.2h1.1v1.1h-1.1zM322.9 50.0h1.0v1.0h-1.0zM356.7 42.5h1.1v1.1h-1.1zM338.3 31.6h0.8v0.8h-0.8zM323.1 54.6h1.2v1.2h-1.2zM329.0 25.5h0.5v0.5h-0.5zM342.9 30.7h1.2v1.2h-1.2zM330.2 34.6h1.2v1.2h-1.2zM355.3 48.4h0.9v0.9h-0.9zM335.7 28.3h1.0v1.0h-1.0zM359.8 44.4h0.6v0.6h-0.6zM327.1 33.6h1.1v1.1h-1.1zM346.7 18.9h1.1v1.1h-1.1zM361.6 24.2h0.9v0.9h-0.9zM333.6 46.3h0.7v0.7h-0.7zM326.4 20.3h1.2v1.2h-1.2zM334.8 37.7h0.7v0.7h-0.7zM334.9 22.0h0.6v0.6h-0.6zM353.8 17.8h1.3v1.3h-1.3zM323.9 31.0h1.3v1.3h-1.3zM356.9 47.3h1.3v1.3h-1.3zM328.4 43.1h0.8v0.8h-0.8zM329.0 31.4h0.6v0.6h-0.6zM338.3 50.6h0.5v0.5h-0.5zM343.0 42.7h1.1v1.1h-1.1zM325.8 41.5h0.9v0.9h-0.9zM354.7 55.8h0.8v0.8h-0.8zM346.6 48.3h0.8v0.8h-0.8zM330.0 47.1h0.8v0.8h-0.8zM356.0 45.8h1.2v1.2h-1.2zM351.5 43.0h1.2v1.2h-1.2zM334.1 42.6h0.9v0.9h-0.9zM339.3 50.1h0.6v0.6h-0.6zM349.2 24.7h1.1v1.1h-1.1zM340.9 42.3h0.8v0.8h-0.8zM351.5 56.9h0.8v0.8h-0.8zM350.6 49.8h0.6v0.6h-0.6zM342.6 59.0h0.8v0.8h-0.8zM345.3 20.6h0.5v0.5h-0.5zM364.0 37.3h1.1v1.1h-1.1zM346.8 38.7h0.6v0.6h-0.6zM343.5 43.0h1.1v1.1h-1.1zM344.0 32.2h1.2v1.2h-1.2zM329.0 45.0h1.3v1.3h-1.3zM355.8 18.8h0.8v0.8h-0.8zM336.0 15.6h1.3v1.3h-1.3z" fill="#c65c72" opacity="0.8"/><path d="M337.6 13.7a0.7 0.7 0 1 0 1.3 0a0.7 0.7 0 1 0 -1.3 0zM338.6 46.0a0.7 0.7 0 1 0 1.4 0a0.7 0.7 0 1 0 -1.4 0zM331.1 23.6a0.7 0.7 0 1 0 1.3 0a0.7 0.7 0 1 0 -1.3 0zM363.5 37.8a0.7 0.7 0 1 0 1.5 0a0.7 0.7 0 1 0 -1.5 0zM357.1 31.5a0.6 0.6 0 1 0 1.3 0a0.6 0.6 0 1 0 -1.3 0zM324.6 49.7a0.6 0.6 0 1 0 1.3 0a0.6 0.6 0 1 0 -1.3 0zM348.7 35.1a0.8 0.8 0 1 0 1.5 0a0.8 0.8 0 1 0 -1.5 0zM329.2 58.5a0.7 0.7 0 1 0 1.4 0a0.7 0.7 0 1 0 -1.4 0zM349.2 51.7a0.7 0.7 0 1 0 1.3 0a0.7 0.7 0 1 0 -1.3 0zM340.7 26.9a0.8 0.8 0 1 0 1.5 0a0.8 0.8 0 1 0 -1.5 0z" fill="#a03050" opacity="0.8"/><path d="M325.0 52.4h0.8v0.8h-0.8zM360.1 25.7h0.7v0.7h-0.7zM331.2 33.2h0.7v0.7h-0.7zM319.1 47.2h0.6v0.6h-0.6zM330.8 27.3h0.6v0.6h-0.6zM339.7 43.1h0.7v0.7h-0.7zM336.5 56.8h0.8v0.8h-0.8zM321.7 52.0h0.9v0.9h-0.9zM356.7 19.6h1.0v1.0h-1.0zM349.4 13.7h0.9v0.9h-0.9zM365.2 44.2h0.5v0.5h-0.5zM323.9 19.8h0.6v0.6h-0.6zM356.6 29.4h0.6v0.6h-0.6zM362.8 50.5h0.6v0.6h-0.6z" fill="#f3dce0" opacity="0.8"/>
<rect x="369" y="13" width="49" height="48" fill="#edccd2" filter="url(#f04)"/><path d="M402.0 59.0h1.0v1.0h-1.0zM412.6 39.0h0.7v0.7h-0.7zM383.3 36.2h1.0v1.0h-1.0zM372.8 52.7h0.7v0.7h-0.7zM374.6 18.6h1.0v1.0h-1.0zM408.8 35.3h0.9v0.9h-0.9zM392.3 55.6h0.9v0.9h-0.9zM380.8 20.7h1.0v1.0h-1.0zM404.3 20.5h1.0v1.0h-1.0zM402.5 36.5h0.8v0.8h-0.8zM391.5 33.1h0.8v0.8h-0.8zM401.3 21.4h1.2v1.2h-1.2zM400.2 14.0h0.8v0.8h-0.8zM404.6 60.3h0.6v0.6h-0.6zM373.5 35.7h1.1v1.1h-1.1zM375.9 23.0h1.1v1.1h-1.1zM375.1 17.5h0.8v0.8h-0.8zM385.4 49.6h1.0v1.0h-1.0zM412.9 26.4h0.9v0.9h-0.9zM381.1 15.5h0.8v0.8h-0.8zM386.1 36.3h0.8v0.8h-0.8zM416.4 54.2h0.8v0.8h-0.8zM378.8 36.2h0.8v0.8h-0.8zM378.3 46.8h0.7v0.7h-0.7zM416.0 17.1h0.7v0.7h-0.7zM388.1 38.9h1.2v1.2h-1.2zM396.6 31.8h0.8v0.8h-0.8zM371.2 51.9h0.7v0.7h-0.7zM405.9 15.8h0.9v0.9h-0.9zM395.1 30.7h0.9v0.9h-0.9zM401.5 45.6h0.7v0.7h-0.7zM373.0 14.9h1.1v1.1h-1.1zM399.0 21.2h1.0v1.0h-1.0zM410.7 32.8h1.0v1.0h-1.0zM414.0 13.6h0.7v0.7h-0.7zM375.6 27.5h1.1v1.1h-1.1zM410.4 21.7h1.0v1.0h-1.0zM370.0 39.8h0.6v0.6h-0.6zM412.9 36.4h0.9v0.9h-0.9zM408.7 49.4h0.9v0.9h-0.9zM402.5 32.1h0.9v0.9h-0.9zM401.9 41.1h0.6v0.6h-0.6zM400.5 20.3h1.2v1.2h-1.2zM395.3 16.9h1.1v1.1h-1.1zM412.1 42.5h0.9v0.9h-0.9zM369.4 44.6h0.9v0.9h-0.9zM410.0 23.2h1.2v1.2h-1.2zM391.8 26.0h0.7v0.7h-0.7zM390.7 48.0h0.9v0.9h-0.9zM386.5 48.0h1.2v1.2h-1.2zM375.9 48.7h1.0v1.0h-1.0zM395.9 36.5h0.8v0.8h-0.8zM411.7 55.9h1.0v1.0h-1.0zM370.5 15.9h0.6v0.6h-0.6zM401.9 42.0h1.1v1.1h-1.1zM384.1 41.3h0.8v0.8h-0.8zM408.9 41.5h1.2v1.2h-1.2zM414.7 47.4h0.8v0.8h-0.8zM377.0 58.5h0.9v0.9h-0.9zM415.1 20.8h0.7v0.7h-0.7zM391.9 49.5h1.1v1.1h-1.1zM382.1 48.6h0.9v0.9h-0.9zM382.5 42.4h0.8v0.8h-0.8zM407.5 41.2h1.0v1.0h-1.0zM403.7 13.7h1.1v1.1h-1.1zM409.2 40.7h0.7v0.7h-0.7zM380.8 31.1h1.2v1.2h-1.2zM406.2 24.1h0.8v0.8h-0.8zM402.1 28.2h0.9v0.9h-0.9zM376.6 56.5h0.8v0.8h-0.8zM406.5 26.5h1.1v1.1h-1.1zM412.0 60.0h0.7v0.7h-0.7zM416.1 50.7h0.7v0.7h-0.7zM406.4 36.5h0.9v0.9h-0.9zM395.0 35.8h0.9v0.9h-0.9zM406.9 47.1h0.8v0.8h-0.8zM383.8 15.7h1.2v1.2h-1.2zM403.1 56.7h0.8v0.8h-0.8zM369.5 31.1h1.0v1.0h-1.0zM394.8 29.7h0.9v0.9h-0.9zM388.3 37.7h0.6v0.6h-0.6zM409.2 28.2h0.8v0.8h-0.8zM378.7 23.0h0.9v0.9h-0.9zM408.0 26.7h0.7v0.7h-0.7zM386.2 49.7h0.9v0.9h-0.9zM380.8 56.3h1.1v1.1h-1.1zM410.7 30.5h0.9v0.9h-0.9zM372.9 27.9h0.9v0.9h-0.9zM382.6 41.8h0.6v0.6h-0.6zM378.9 54.2h0.7v0.7h-0.7zM397.2 23.1h0.9v0.9h-0.9zM382.4 17.5h1.2v1.2h-1.2zM397.5 41.7h0.9v0.9h-0.9zM409.8 29.0h0.7v0.7h-0.7zM387.1 14.3h1.2v1.2h-1.2zM386.9 46.4h0.6v0.6h-0.6zM409.7 55.2h0.9v0.9h-0.9zM399.6 56.2h1.1v1.1h-1.1zM373.3 28.0h1.0v1.0h-1.0zM373.3 56.5h0.7v0.7h-0.7zM377.8 53.0h0.9v0.9h-0.9zM380.3 47.0h0.8v0.8h-0.8zM414.5 57.5h0.7v0.7h-0.7zM395.7 14.3h0.6v0.6h-0.6zM381.3 37.0h1.2v1.2h-1.2zM405.5 35.7h1.0v1.0h-1.0zM384.4 13.3h0.7v0.7h-0.7zM405.1 40.9h0.7v0.7h-0.7zM400.4 35.2h0.9v0.9h-0.9zM387.8 30.7h0.8v0.8h-0.8zM390.3 51.1h0.8v0.8h-0.8zM411.7 34.9h1.1v1.1h-1.1zM407.2 20.4h1.1v1.1h-1.1zM372.7 42.0h1.1v1.1h-1.1zM405.1 49.7h0.8v0.8h-0.8zM413.3 31.0h1.2v1.2h-1.2zM372.6 59.1h0.6v0.6h-0.6zM380.3 18.5h0.8v0.8h-0.8zM385.0 47.7h0.8v0.8h-0.8zM390.8 55.1h0.7v0.7h-0.7zM376.2 32.7h0.9v0.9h-0.9zM370.2 40.0h0.7v0.7h-0.7zM407.8 25.3h0.8v0.8h-0.8zM391.0 35.8h0.7v0.7h-0.7zM393.8 42.9h0.7v0.7h-0.7zM413.3 39.3h1.1v1.1h-1.1zM374.7 48.4h1.1v1.1h-1.1zM389.7 25.2h1.2v1.2h-1.2zM380.5 31.4h0.7v0.7h-0.7zM376.8 52.2h0.8v0.8h-0.8zM375.9 43.0h1.2v1.2h-1.2zM393.4 37.1h0.9v0.9h-0.9zM407.0 57.5h0.9v0.9h-0.9zM386.4 14.9h0.8v0.8h-0.8zM382.3 21.5h0.8v0.8h-0.8zM394.0 23.8h1.1v1.1h-1.1zM398.0 52.2h0.7v0.7h-0.7zM404.0 48.7h1.1v1.1h-1.1zM375.6 44.7h0.7v0.7h-0.7zM378.2 27.5h1.0v1.0h-1.0zM402.5 37.6h0.6v0.6h-0.6zM412.9 37.3h1.1v1.1h-1.1zM382.6 43.2h0.8v0.8h-0.8zM373.3 32.2h1.2v1.2h-1.2zM375.4 44.2h1.1v1.1h-1.1zM396.2 59.6h0.7v0.7h-0.7zM403.0 40.2h0.6v0.6h-0.6zM386.1 56.7h1.1v1.1h-1.1zM372.4 29.7h1.2v1.2h-1.2zM409.1 56.1h0.7v0.7h-0.7zM410.6 40.0h1.1v1.1h-1.1zM383.0 18.0h1.1v1.1h-1.1zM390.4 14.2h1.0v1.0h-1.0zM375.4 24.4h1.1v1.1h-1.1zM398.9 20.9h0.7v0.7h-0.7zM395.8 58.1h0.8v0.8h-0.8zM413.8 48.0h0.6v0.6h-0.6zM409.4 43.1h0.8v0.8h-0.8zM380.5 33.9h0.9v0.9h-0.9zM373.5 21.4h0.8v0.8h-0.8zM391.4 40.7h0.8v0.8h-0.8zM374.3 18.7h1.1v1.1h-1.1zM394.9 23.7h1.1v1.1h-1.1zM401.3 34.8h0.7v0.7h-0.7zM414.7 13.9h0.8v0.8h-0.8zM402.3 41.1h1.0v1.0h-1.0zM370.7 58.7h1.0v1.0h-1.0zM386.6 32.0h0.6v0.6h-0.6zM403.3 52.5h1.1v1.1h-1.1zM416.4 28.1h0.9v0.9h-0.9z" fill="#c86078" opacity="0.75"/><path d="M396.1 28.3h0.8v0.8h-0.8zM401.9 29.7h0.7v0.7h-0.7zM400.9 13.5h0.9v0.9h-0.9zM378.1 28.4h0.6v0.6h-0.6zM401.3 23.7h0.7v0.7h-0.7zM388.2 60.1h0.8v0.8h-0.8zM371.3 59.3h0.8v0.8h-0.8zM370.9 53.7h1.0v1.0h-1.0zM413.2 42.4h0.8v0.8h-0.8zM407.8 14.7h0.9v0.9h-0.9zM374.9 13.6h0.6v0.6h-0.6zM370.9 18.3h0.7v0.7h-0.7zM377.1 15.9h0.7v0.7h-0.7zM413.2 55.4h1.0v1.0h-1.0zM397.5 57.1h0.6v0.6h-0.6zM393.7 54.8h0.8v0.8h-0.8zM396.7 25.9h1.0v1.0h-1.0zM404.6 26.5h0.9v0.9h-0.9zM402.5 23.5h0.8v0.8h-0.8zM395.5 30.3h0.8v0.8h-0.8zM383.6 35.5h1.0v1.0h-1.0zM370.5 28.7h0.9v0.9h-0.9zM395.4 58.9h0.7v0.7h-0.7zM413.6 20.7h0.8v0.8h-0.8zM384.6 28.3h1.0v1.0h-1.0zM411.4 23.2h0.7v0.7h-0.7zM370.1 39.1h0.6v0.6h-0.6zM385.8 44.0h0.8v0.8h-0.8zM409.2 29.7h0.8v0.8h-0.8zM394.1 59.6h0.9v0.9h-0.9zM414.0 32.6h0.9v0.9h-0.9zM375.8 22.5h0.9v0.9h-0.9zM382.3 52.6h0.8v0.8h-0.8zM410.4 56.7h0.6v0.6h-0.6zM381.9 42.6h1.0v1.0h-1.0zM402.9 32.5h0.9v0.9h-0.9zM388.8 39.0h0.6v0.6h-0.6zM388.2 60.0h0.6v0.6h-0.6zM410.1 26.2h0.7v0.7h-0.7zM374.3 53.2h0.8v0.8h-0.8z" fill="#8a3050" opacity="0.8"/><path d="M381.6 29.4a1.1 1.1 0 1 0 2.2 0a1.1 1.1 0 1 0 -2.2 0zM393.2 40.8a0.9 0.9 0 1 0 1.9 0a0.9 0.9 0 1 0 -1.9 0zM369.0 47.7a1.1 1.1 0 1 0 2.1 0a1.1 1.1 0 1 0 -2.1 0zM385.8 26.9a1.2 1.2 0 1 0 2.4 0a1.2 1.2 0 1 0 -2.4 0zM406.2 33.3a1.0 1.0 0 1 0 2.0 0a1.0 1.0 0 1 0 -2.0 0zM379.1 51.4a1.0 1.0 0 1 0 1.9 0a1.0 1.0 0 1 0 -1.9 0zM414.3 41.4a0.9 0.9 0 1 0 1.9 0a0.9 0.9 0 1 0 -1.9 0z" fill="#401828" opacity="0.9"/>
<rect x="419" y="13" width="49" height="48" fill="#ebc7ce" filter="url(#f05)"/><path d="M428.8 32.9h1.3v1.3h-1.3zM419.5 15.2h1.2v1.2h-1.2zM442.9 56.3h1.0v1.0h-1.0zM444.8 59.8h1.1v1.1h-1.1zM443.8 45.2h1.0v1.0h-1.0zM436.2 41.0h0.9v0.9h-0.9zM464.6 44.9h0.8v0.8h-0.8zM423.8 30.6h1.0v1.0h-1.0zM446.0 40.0h0.9v0.9h-0.9zM465.1 35.8h1.2v1.2h-1.2zM449.0 59.9h0.9v0.9h-0.9zM444.5 51.5h0.8v0.8h-0.8zM434.4 59.3h0.7v0.7h-0.7zM443.5 18.2h1.2v1.2h-1.2zM452.0 51.4h1.2v1.2h-1.2zM461.4 32.7h1.3v1.3h-1.3zM433.0 37.2h0.7v0.7h-0.7zM428.0 21.6h1.0v1.0h-1.0zM447.9 29.6h1.0v1.0h-1.0zM449.4 15.0h1.3v1.3h-1.3zM456.9 27.5h0.9v0.9h-0.9zM419.2 27.3h1.1v1.1h-1.1zM447.0 44.3h1.2v1.2h-1.2zM443.0 39.1h0.7v0.7h-0.7zM450.2 38.1h0.8v0.8h-0.8zM446.4 32.2h1.3v1.3h-1.3zM426.6 48.9h0.7v0.7h-0.7zM423.8 21.1h0.7v0.7h-0.7zM458.5 41.8h1.0v1.0h-1.0zM422.0 13.6h1.2v1.2h-1.2zM434.5 46.5h1.1v1.1h-1.1zM427.2 25.6h0.8v0.8h-0.8zM462.7 40.6h0.7v0.7h-0.7zM440.7 31.2h0.8v0.8h-0.8zM462.1 40.6h0.6v0.6h-0.6zM440.0 42.0h1.3v1.3h-1.3zM421.1 57.0h0.8v0.8h-0.8zM434.0 55.1h1.2v1.2h-1.2zM433.5 41.2h1.2v1.2h-1.2zM442.7 57.4h1.3v1.3h-1.3zM437.8 46.9h0.8v0.8h-0.8zM433.9 54.4h0.8v0.8h-0.8zM457.1 24.5h0.9v0.9h-0.9zM436.3 21.8h0.7v0.7h-0.7zM432.9 39.2h1.3v1.3h-1.3zM444.8 31.2h0.7v0.7h-0.7zM422.1 18.8h0.9v0.9h-0.9zM435.8 24.5h1.2v1.2h-1.2zM432.7 24.2h0.7v0.7h-0.7zM451.1 29.2h0.6v0.6h-0.6zM453.1 17.4h0.7v0.7h-0.7zM459.3 19.0h0.8v0.8h-0.8zM459.2 50.9h0.9v0.9h-0.9zM436.0 47.2h0.7v0.7h-0.7zM465.1 22.8h0.9v0.9h-0.9zM443.1 23.6h1.3v1.3h-1.3zM425.3 46.3h0.9v0.9h-0.9zM462.4 40.7h0.8v0.8h-0.8zM430.9 41.7h0.9v0.9h-0.9zM461.1 18.8h0.7v0.7h-0.7zM445.1 25.7h1.0v1.0h-1.0zM437.4 43.8h1.1v1.1h-1.1zM433.9 31.3h1.0v1.0h-1.0zM427.6 53.3h0.7v0.7h-0.7zM450.9 18.1h0.8v0.8h-0.8zM436.4 36.5h1.0v1.0h-1.0zM422.2 27.7h0.8v0.8h-0.8zM425.1 46.9h0.8v0.8h-0.8zM438.4 55.9h0.8v0.8h-0.8zM461.2 53.4h1.1v1.1h-1.1zM432.4 14.4h0.7v0.7h-0.7zM450.8 29.5h1.1v1.1h-1.1zM450.7 45.9h0.9v0.9h-0.9zM459.8 29.6h0.8v0.8h-0.8zM427.7 18.4h1.0v1.0h-1.0zM454.1 46.3h1.2v1.2h-1.2zM420.9 20.7h0.6v0.6h-0.6zM433.6 31.0h0.7v0.7h-0.7zM434.0 43.2h0.6v0.6h-0.6zM459.5 40.0h0.7v0.7h-0.7zM431.2 33.4h1.1v1.1h-1.1zM435.7 13.0h1.1v1.1h-1.1zM456.1 26.4h1.2v1.2h-1.2zM460.3 41.8h0.6v0.6h-0.6zM430.8 18.3h0.6v0.6h-0.6zM429.1 55.8h1.2v1.2h-1.2zM423.1 45.6h1.1v1.1h-1.1zM455.0 52.1h0.9v0.9h-0.9zM423.3 57.7h0.8v0.8h-0.8zM463.7 45.6h0.9v0.9h-0.9zM458.7 42.4h1.1v1.1h-1.1zM421.6 45.9h0.9v0.9h-0.9zM443.6 56.7h0.9v0.9h-0.9zM455.8 15.1h0.7v0.7h-0.7zM457.6 25.3h1.1v1.1h-1.1zM465.5 43.0h1.0v1.0h-1.0zM431.0 15.8h1.0v1.0h-1.0zM438.8 22.5h0.9v0.9h-0.9zM425.6 46.4h0.8v0.8h-0.8zM430.4 24.3h1.1v1.1h-1.1zM440.4 57.0h1.0v1.0h-1.0zM433.4 54.7h0.8v0.8h-0.8zM446.2 28.8h0.7v0.7h-0.7zM445.2 48.6h1.2v1.2h-1.2zM451.2 41.3h0.7v0.7h-0.7zM455.8 52.1h0.9v0.9h-0.9zM433.0 30.1h0.7v0.7h-0.7zM421.9 26.3h0.7v0.7h-0.7zM452.9 34.2h0.7v0.7h-0.7zM434.7 35.2h0.7v0.7h-0.7zM427.1 16.4h0.9v0.9h-0.9zM467.0 48.6h0.6v0.6h-0.6zM453.7 59.4h0.7v0.7h-0.7zM424.2 36.0h1.0v1.0h-1.0zM428.1 38.6h0.9v0.9h-0.9zM463.5 43.5h0.6v0.6h-0.6zM463.9 43.6h1.0v1.0h-1.0zM430.9 19.5h0.8v0.8h-0.8zM456.5 52.8h0.6v0.6h-0.6zM428.0 43.1h0.8v0.8h-0.8zM463.3 20.9h1.2v1.2h-1.2zM458.7 47.8h1.1v1.1h-1.1zM427.9 51.9h0.8v0.8h-0.8zM436.8 39.0h0.8v0.8h-0.8zM459.0 24.3h0.9v0.9h-0.9zM446.4 42.8h0.6v0.6h-0.6zM452.7 55.4h1.2v1.2h-1.2zM442.6 36.3h1.3v1.3h-1.3zM433.5 40.5h0.7v0.7h-0.7zM452.3 20.7h0.7v0.7h-0.7zM465.6 17.2h0.9v0.9h-0.9zM440.3 22.0h0.6v0.6h-0.6zM419.1 52.4h1.1v1.1h-1.1zM456.6 32.9h1.2v1.2h-1.2zM450.9 37.3h0.8v0.8h-0.8zM435.3 33.7h0.9v0.9h-0.9zM458.6 55.4h1.1v1.1h-1.1zM433.3 34.0h0.7v0.7h-0.7zM435.7 22.2h1.0v1.0h-1.0zM434.6 34.8h0.7v0.7h-0.7zM462.4 53.4h1.3v1.3h-1.3zM464.9 42.0h1.3v1.3h-1.3zM421.9 44.7h1.2v1.2h-1.2zM433.3 39.8h1.0v1.0h-1.0zM441.9 43.3h1.3v1.3h-1.3zM435.5 54.8h0.8v0.8h-0.8zM428.1 45.2h0.6v0.6h-0.6zM423.1 44.1h0.9v0.9h-0.9zM447.0 32.6h0.9v0.9h-0.9zM446.1 31.6h1.0v1.0h-1.0zM427.7 55.1h0.7v0.7h-0.7zM424.4 53.5h1.0v1.0h-1.0zM423.6 38.1h0.8v0.8h-0.8zM442.6 39.2h0.8v0.8h-0.8zM446.6 18.3h0.8v0.8h-0.8zM447.3 16.8h1.0v1.0h-1.0zM422.5 33.7h0.9v0.9h-0.9zM445.3 46.4h1.2v1.2h-1.2zM424.5 59.4h1.1v1.1h-1.1zM423.9 51.9h1.1v1.1h-1.1z" fill="#c85a78" opacity="0.75"/><path d="M426.4 58.1a0.8 0.8 0 1 0 1.7 0a0.8 0.8 0 1 0 -1.7 0zM455.2 19.4a0.9 0.9 0 1 0 1.8 0a0.9 0.9 0 1 0 -1.8 0zM420.8 24.1a1.0 1.0 0 1 0 1.9 0a1.0 1.0 0 1 0 -1.9 0zM419.0 40.9a0.8 0.8 0 1 0 1.7 0a0.8 0.8 0 1 0 -1.7 0zM432.6 46.3a0.8 0.8 0 1 0 1.5 0a0.8 0.8 0 1 0 -1.5 0zM460.7 42.1a0.8 0.8 0 1 0 1.7 0a0.8 0.8 0 1 0 -1.7 0zM444.8 55.7a1.0 1.0 0 1 0 2.0 0a1.0 1.0 0 1 0 -2.0 0zM426.0 47.7a1.0 1.0 0 1 0 2.0 0a1.0 1.0 0 1 0 -2.0 0zM454.8 45.0a0.8 0.8 0 1 0 1.6 0a0.8 0.8 0 1 0 -1.6 0zM423.9 30.4a1.0 1.0 0 1 0 2.0 0a1.0 1.0 0 1 0 -2.0 0zM463.2 46.7a1.0 1.0 0 1 0 1.9 0a1.0 1.0 0 1 0 -1.9 0zM447.4 17.7a0.7 0.7 0 1 0 1.4 0a0.7 0.7 0 1 0 -1.4 0zM456.5 18.3a0.9 0.9 0 1 0 1.8 0a0.9 0.9 0 1 0 -1.8 0zM450.1 24.9a1.0 1.0 0 1 0 2.0 0a1.0 1.0 0 1 0 -2.0 0zM439.7 52.4a0.8 0.8 0 1 0 1.5 0a0.8 0.8 0 1 0 -1.5 0zM423.5 14.0a0.9 0.9 0 1 0 1.8 0a0.9 0.9 0 1 0 -1.8 0zM456.8 21.7a0.7 0.7 0 1 0 1.5 0a0.7 0.7 0 1 0 -1.5 0zM432.0 45.2a0.9 0.9 0 1 0 1.8 0a0.9 0.9 0 1 0 -1.8 0zM425.1 54.1a0.8 0.8 0 1 0 1.7 0a0.8 0.8 0 1 0 -1.7 0zM451.1 50.8a0.9 0.9 0 1 0 1.8 0a0.9 0.9 0 1 0 -1.8 0zM419.0 28.9a1.0 1.0 0 1 0 2.1 0a1.0 1.0 0 1 0 -2.1 0zM442.4 54.1a0.8 0.8 0 1 0 1.5 0a0.8 0.8 0 1 0 -1.5 0zM419.7 21.5a1.0 1.0 0 1 0 2.0 0a1.0 1.0 0 1 0 -2.0 0zM450.4 31.3a1.0 1.0 0 1 0 2.0 0a1.0 1.0 0 1 0 -2.0 0zM425.7 52.6a0.9 0.9 0 1 0 1.7 0a0.9 0.9 0 1 0 -1.7 0zM460.0 41.7a0.8 0.8 0 1 0 1.7 0a0.8 0.8 0 1 0 -1.7 0zM434.1 23.2a0.7 0.7 0 1 0 1.5 0a0.7 0.7 0 1 0 -1.5 0zM446.0 15.0a1.0 1.0 0 1 0 2.0 0a1.0 1.0 0 1 0 -2.0 0zM435.6 35.0a0.8 0.8 0 1 0 1.5 0a0.8 0.8 0 1 0 -1.5 0zM436.6 29.6a0.9 0.9 0 1 0 1.8 0a0.9 0.9 0 1 0 -1.8 0zM446.2 28.8a0.7 0.7 0 1 0 1.4 0a0.7 0.7 0 1 0 -1.4 0zM440.4 59.5a0.7 0.7 0 1 0 1.4 0a0.7 0.7 0 1 0 -1.4 0zM425.3 44.6a0.7 0.7 0 1 0 1.4 0a0.7 0.7 0 1 0 -1.4 0zM431.3 36.5a0.8 0.8 0 1 0 1.6 0a0.8 0.8 0 1 0 -1.6 0z" fill="#902048" opacity="0.8" filter="url(#bs)"/><path d="M444.6 37.4a1.2 1.2 0 1 0 2.5 0a1.2 1.2 0 1 0 -2.5 0zM463.5 14.6a1.6 1.6 0 1 0 3.2 0a1.6 1.6 0 1 0 -3.2 0zM453.7 53.0a1.4 1.4 0 1 0 2.8 0a1.4 1.4 0 1 0 -2.8 0zM447.0 42.0a1.5 1.5 0 1 0 3.0 0a1.5 1.5 0 1 0 -3.0 0zM431.0 49.6a1.3 1.3 0 1 0 2.6 0a1.3 1.3 0 1 0 -2.6 0zM461.1 44.0a1.5 1.5 0 1 0 3.1 0a1.5 1.5 0 1 0 -3.1 0zM453.7 47.1a1.3 1.3 0 1 0 2.5 0a1.3 1.3 0 1 0 -2.5 0zM447.4 29.1a1.4 1.4 0 1 0 2.7 0a1.4 1.4 0 1 0 -2.7 0z" fill="#7a1030" opacity="0.9"/>
<rect x="469" y="13" width="49" height="48" fill="#ebc7d0" filter="url(#f06)"/><path d="M485.0 46.0h1.1v1.1h-1.1zM511.4 49.7h1.1v1.1h-1.1zM512.0 51.1h1.0v1.0h-1.0zM476.2 22.6h1.3v1.3h-1.3zM501.1 31.9h1.2v1.2h-1.2zM506.2 56.8h0.9v0.9h-0.9zM475.9 46.8h1.0v1.0h-1.0zM496.6 44.1h0.8v0.8h-0.8zM472.5 21.9h1.3v1.3h-1.3zM496.9 27.2h1.2v1.2h-1.2zM491.5 58.8h0.8v0.8h-0.8zM503.6 56.3h1.1v1.1h-1.1zM484.3 21.2h1.2v1.2h-1.2zM495.1 48.5h1.2v1.2h-1.2zM480.4 13.9h1.0v1.0h-1.0zM490.7 55.3h0.6v0.6h-0.6zM493.2 17.7h0.8v0.8h-0.8zM471.7 19.1h0.8v0.8h-0.8zM472.6 51.7h0.6v0.6h-0.6zM503.5 13.2h1.0v1.0h-1.0zM500.0 13.7h0.8v0.8h-0.8zM470.3 28.2h0.8v0.8h-0.8zM470.3 35.8h1.2v1.2h-1.2zM507.4 21.2h1.0v1.0h-1.0zM507.1 17.1h1.2v1.2h-1.2zM506.2 59.4h1.0v1.0h-1.0zM514.2 54.2h0.9v0.9h-0.9zM484.3 44.0h0.6v0.6h-0.6zM489.0 46.5h0.8v0.8h-0.8zM476.5 13.9h1.2v1.2h-1.2zM494.5 52.7h0.7v0.7h-0.7zM486.4 29.2h0.9v0.9h-0.9zM510.5 20.2h1.1v1.1h-1.1zM496.4 23.7h1.3v1.3h-1.3zM508.0 35.4h1.0v1.0h-1.0zM500.3 43.9h0.6v0.6h-0.6zM502.9 39.3h1.0v1.0h-1.0zM494.5 25.9h0.9v0.9h-0.9zM495.9 17.7h0.8v0.8h-0.8zM515.7 20.1h1.2v1.2h-1.2zM488.2 59.0h1.0v1.0h-1.0zM498.8 18.7h1.3v1.3h-1.3zM478.8 49.6h1.0v1.0h-1.0zM498.2 47.8h0.8v0.8h-0.8zM510.6 53.0h1.2v1.2h-1.2zM494.3 29.4h1.1v1.1h-1.1zM490.2 53.3h1.1v1.1h-1.1zM513.0 55.6h0.7v0.7h-0.7zM479.2 50.2h0.9v0.9h-0.9zM500.9 13.7h0.6v0.6h-0.6zM512.7 44.6h1.2v1.2h-1.2zM480.0 30.7h0.8v0.8h-0.8zM486.9 43.7h1.2v1.2h-1.2zM470.5 14.0h1.2v1.2h-1.2zM480.6 29.6h1.1v1.1h-1.1zM489.5 26.1h0.8v0.8h-0.8zM492.8 58.9h1.2v1.2h-1.2zM491.8 56.7h1.2v1.2h-1.2zM514.7 19.4h1.1v1.1h-1.1zM473.3 13.2h0.8v0.8h-0.8zM480.9 28.0h1.2v1.2h-1.2zM514.9 23.0h1.0v1.0h-1.0zM506.8 53.3h0.6v0.6h-0.6zM471.2 49.3h1.1v1.1h-1.1zM489.9 19.6h0.9v0.9h-0.9zM501.7 50.6h1.3v1.3h-1.3zM513.1 19.3h0.7v0.7h-0.7zM493.2 29.6h0.8v0.8h-0.8zM491.2 31.6h1.1v1.1h-1.1zM499.9 44.3h0.9v0.9h-0.9zM485.2 55.2h0.9v0.9h-0.9zM478.7 42.5h1.0v1.0h-1.0zM475.5 41.2h0.6v0.6h-0.6zM502.5 47.2h1.0v1.0h-1.0zM512.2 16.1h0.6v0.6h-0.6zM515.3 58.9h0.7v0.7h-0.7zM469.1 23.5h1.0v1.0h-1.0zM499.4 38.7h1.0v1.0h-1.0zM494.3 52.2h1.3v1.3h-1.3zM472.7 58.4h1.3v1.3h-1.3zM515.5 23.5h1.2v1.2h-1.2zM503.0 13.7h0.7v0.7h-0.7zM515.6 22.3h0.8v0.8h-0.8zM507.2 58.1h0.6v0.6h-0.6zM484.7 15.0h0.8v0.8h-0.8zM482.6 28.6h0.9v0.9h-0.9zM516.8 48.1h0.9v0.9h-0.9zM489.3 38.5h0.8v0.8h-0.8zM476.3 48.9h0.9v0.9h-0.9zM507.4 55.0h1.2v1.2h-1.2zM480.5 36.5h1.0v1.0h-1.0zM502.1 47.1h1.3v1.3h-1.3zM508.4 44.0h1.3v1.3h-1.3zM499.0 14.6h0.7v0.7h-0.7zM488.4 39.2h1.1v1.1h-1.1zM490.2 44.3h1.1v1.1h-1.1zM496.8 35.3h0.9v0.9h-0.9zM491.6 29.1h1.1v1.1h-1.1zM487.2 51.8h1.0v1.0h-1.0zM510.6 29.6h1.2v1.2h-1.2zM516.2 25.6h0.6v0.6h-0.6zM508.6 16.4h1.1v1.1h-1.1zM500.8 56.3h1.2v1.2h-1.2zM481.6 52.4h1.1v1.1h-1.1zM485.6 40.6h1.2v1.2h-1.2zM517.0 16.1h1.0v1.0h-1.0zM486.4 22.6h1.1v1.1h-1.1zM486.7 44.9h0.7v0.7h-0.7zM501.0 21.4h0.7v0.7h-0.7zM509.9 43.5h1.3v1.3h-1.3zM484.4 29.9h1.2v1.2h-1.2zM489.5 32.2h1.2v1.2h-1.2zM487.0 30.1h1.1v1.1h-1.1zM494.1 27.2h1.1v1.1h-1.1zM482.2 26.6h1.1v1.1h-1.1zM474.4 42.9h0.9v0.9h-0.9zM477.4 37.3h1.1v1.1h-1.1zM475.3 36.2h0.6v0.6h-0.6zM498.9 37.6h1.1v1.1h-1.1zM481.1 39.1h1.2v1.2h-1.2zM481.6 41.0h0.6v0.6h-0.6zM495.2 56.3h0.8v0.8h-0.8zM481.8 33.7h0.8v0.8h-0.8zM492.7 17.2h1.0v1.0h-1.0zM515.3 26.7h0.7v0.7h-0.7zM513.0 46.6h1.1v1.1h-1.1zM471.0 48.5h0.9v0.9h-0.9zM489.6 41.4h1.3v1.3h-1.3zM480.5 53.1h0.8v0.8h-0.8zM498.9 59.3h0.7v0.7h-0.7zM496.7 16.0h1.2v1.2h-1.2zM510.5 16.8h0.7v0.7h-0.7zM487.9 32.5h0.9v0.9h-0.9zM499.7 50.0h1.3v1.3h-1.3zM496.2 57.3h0.7v0.7h-0.7zM489.9 59.7h1.1v1.1h-1.1zM472.1 31.8h0.7v0.7h-0.7zM505.4 13.4h0.7v0.7h-0.7zM478.7 38.6h0.8v0.8h-0.8zM483.0 28.4h1.2v1.2h-1.2zM491.1 17.2h0.9v0.9h-0.9zM496.3 13.7h1.2v1.2h-1.2zM509.8 23.1h0.9v0.9h-0.9zM508.6 22.4h0.9v0.9h-0.9zM510.6 39.0h0.8v0.8h-0.8zM509.4 19.6h1.1v1.1h-1.1zM471.4 42.5h0.9v0.9h-0.9zM478.2 59.3h0.8v0.8h-0.8zM495.0 37.6h0.7v0.7h-0.7zM487.5 44.4h0.7v0.7h-0.7zM488.0 54.8h0.8v0.8h-0.8zM483.7 24.7h1.1v1.1h-1.1zM490.0 38.4h0.9v0.9h-0.9zM475.3 22.8h0.8v0.8h-0.8zM513.7 43.8h1.1v1.1h-1.1zM475.8 56.6h1.1v1.1h-1.1zM491.0 46.3h0.8v0.8h-0.8zM504.0 13.4h1.1v1.1h-1.1zM515.0 52.0h0.6v0.6h-0.6zM479.6 33.8h0.6v0.6h-0.6z" fill="#c85a78" opacity="0.75"/><path d="M478.3 58.8a0.8 0.8 0 1 0 1.5 0a0.8 0.8 0 1 0 -1.5 0zM487.5 47.0a0.9 0.9 0 1 0 1.8 0a0.9 0.9 0 1 0 -1.8 0zM478.0 21.5a0.8 0.8 0 1 0 1.5 0a0.8 0.8 0 1 0 -1.5 0zM473.9 19.4a1.0 1.0 0 1 0 2.0 0a1.0 1.0 0 1 0 -2.0 0zM506.7 36.2a1.0 1.0 0 1 0 2.0 0a1.0 1.0 0 1 0 -2.0 0zM503.1 47.8a0.7 0.7 0 1 0 1.4 0a0.7 0.7 0 1 0 -1.4 0zM478.9 46.9a0.8 0.8 0 1 0 1.5 0a0.8 0.8 0 1 0 -1.5 0zM506.3 37.9a1.0 1.0 0 1 0 1.9 0a1.0 1.0 0 1 0 -1.9 0zM505.6 46.7a0.8 0.8 0 1 0 1.5 0a0.8 0.8 0 1 0 -1.5 0zM490.4 22.4a0.9 0.9 0 1 0 1.8 0a0.9 0.9 0 1 0 -1.8 0zM470.7 23.5a0.7 0.7 0 1 0 1.5 0a0.7 0.7 0 1 0 -1.5 0zM501.6 33.6a1.0 1.0 0 1 0 2.0 0a1.0 1.0 0 1 0 -2.0 0zM509.7 56.3a0.8 0.8 0 1 0 1.7 0a0.8 0.8 0 1 0 -1.7 0zM476.0 34.0a0.7 0.7 0 1 0 1.5 0a0.7 0.7 0 1 0 -1.5 0zM509.7 50.2a1.0 1.0 0 1 0 1.9 0a1.0 1.0 0 1 0 -1.9 0zM502.4 27.5a0.9 0.9 0 1 0 1.9 0a0.9 0.9 0 1 0 -1.9 0zM494.6 23.1a0.8 0.8 0 1 0 1.6 0a0.8 0.8 0 1 0 -1.6 0zM499.6 23.7a1.0 1.0 0 1 0 2.1 0a1.0 1.0 0 1 0 -2.1 0zM483.5 20.3a1.0 1.0 0 1 0 2.1 0a1.0 1.0 0 1 0 -2.1 0zM499.6 45.6a0.8 0.8 0 1 0 1.6 0a0.8 0.8 0 1 0 -1.6 0zM475.4 21.7a0.8 0.8 0 1 0 1.5 0a0.8 0.8 0 1 0 -1.5 0zM487.4 14.8a0.8 0.8 0 1 0 1.6 0a0.8 0.8 0 1 0 -1.6 0zM499.7 22.9a0.8 0.8 0 1 0 1.6 0a0.8 0.8 0 1 0 -1.6 0zM493.1 16.4a0.9 0.9 0 1 0 1.9 0a0.9 0.9 0 1 0 -1.9 0zM469.0 49.6a0.9 0.9 0 1 0 1.7 0a0.9 0.9 0 1 0 -1.7 0zM511.4 22.3a1.0 1.0 0 1 0 2.0 0a1.0 1.0 0 1 0 -2.0 0zM482.7 40.4a0.8 0.8 0 1 0 1.6 0a0.8 0.8 0 1 0 -1.6 0zM477.6 35.0a1.0 1.0 0 1 0 1.9 0a1.0 1.0 0 1 0 -1.9 0zM504.5 55.2a1.0 1.0 0 1 0 1.9 0a1.0 1.0 0 1 0 -1.9 0zM482.4 40.1a0.9 0.9 0 1 0 1.8 0a0.9 0.9 0 1 0 -1.8 0zM469.0 22.2a0.7 0.7 0 1 0 1.5 0a0.7 0.7 0 1 0 -1.5 0zM482.7 21.1a0.8 0.8 0 1 0 1.5 0a0.8 0.8 0 1 0 -1.5 0zM491.2 28.5a0.8 0.8 0 1 0 1.6 0a0.8 0.8 0 1 0 -1.6 0zM473.4 52.1a0.8 0.8 0 1 0 1.7 0a0.8 0.8 0 1 0 -1.7 0z" fill="#902048" opacity="0.8" filter="url(#bs)"/><path d="M501.5 33.8a1.4 1.4 0 1 0 2.8 0a1.4 1.4 0 1 0 -2.8 0zM472.9 20.4a1.4 1.4 0 1 0 2.7 0a1.4 1.4 0 1 0 -2.7 0zM469.5 14.8a1.2 1.2 0 1 0 2.4 0a1.2 1.2 0 1 0 -2.4 0zM487.1 45.1a1.3 1.3 0 1 0 2.6 0a1.3 1.3 0 1 0 -2.6 0zM507.3 16.5a1.2 1.2 0 1 0 2.4 0a1.2 1.2 0 1 0 -2.4 0zM502.1 29.5a1.4 1.4 0 1 0 2.7 0a1.4 1.4 0 1 0 -2.7 0z" fill="#7a1030" opacity="0.9"/>
<rect x="169" y="62" width="49" height="49" fill="#f0eff6" filter="url(#f10)"/><path d="M184.8 102.2h1.3v1.3h-1.3zM191.9 69.1h1.2v1.2h-1.2zM211.4 67.6h0.8v0.8h-0.8zM194.7 67.6h1.0v1.0h-1.0zM176.9 87.7h1.0v1.0h-1.0zM186.6 71.5h1.0v1.0h-1.0zM178.8 68.1h0.9v0.9h-0.9zM211.0 86.2h0.8v0.8h-0.8zM169.7 107.1h1.2v1.2h-1.2zM207.0 89.4h1.0v1.0h-1.0zM180.0 97.9h1.1v1.1h-1.1zM181.7 63.5h0.8v0.8h-0.8zM193.9 76.0h0.9v0.9h-0.9zM173.0 89.6h1.2v1.2h-1.2zM197.7 99.8h0.8v0.8h-0.8zM172.0 73.8h1.1v1.1h-1.1zM216.1 64.0h1.1v1.1h-1.1zM202.2 101.0h1.1v1.1h-1.1zM208.0 84.2h0.9v0.9h-0.9zM169.5 106.9h1.3v1.3h-1.3zM188.6 66.2h0.9v0.9h-0.9zM204.3 94.7h0.8v0.8h-0.8zM185.6 68.8h0.8v0.8h-0.8zM179.6 78.0h0.8v0.8h-0.8zM216.6 99.8h1.3v1.3h-1.3zM192.9 99.4h1.0v1.0h-1.0zM204.9 92.4h1.2v1.2h-1.2zM199.1 102.7h0.8v0.8h-0.8zM173.4 96.3h1.2v1.2h-1.2zM176.8 108.4h0.9v0.9h-0.9zM204.7 68.5h1.1v1.1h-1.1zM213.8 105.3h1.2v1.2h-1.2zM208.8 100.4h1.1v1.1h-1.1zM189.9 101.6h1.1v1.1h-1.1zM210.7 76.3h1.2v1.2h-1.2zM194.4 107.1h1.3v1.3h-1.3zM215.7 100.0h0.8v0.8h-0.8zM209.4 73.2h0.9v0.9h-0.9zM191.1 73.4h0.8v0.8h-0.8zM212.6 94.9h1.0v1.0h-1.0zM187.8 99.5h1.1v1.1h-1.1zM201.7 107.0h1.2v1.2h-1.2zM188.4 66.2h1.2v1.2h-1.2zM209.1 78.3h1.1v1.1h-1.1zM209.1 100.0h1.1v1.1h-1.1zM192.6 62.8h0.7v0.7h-0.7zM208.2 82.2h0.8v0.8h-0.8zM190.9 78.1h1.1v1.1h-1.1zM186.0 102.7h0.8v0.8h-0.8zM183.0 66.2h1.1v1.1h-1.1zM202.8 83.3h0.9v0.9h-0.9zM207.7 67.8h1.1v1.1h-1.1zM171.0 101.4h1.1v1.1h-1.1zM182.1 108.2h0.8v0.8h-0.8zM179.8 104.8h0.9v0.9h-0.9zM211.8 80.9h1.1v1.1h-1.1z" fill="#9a8fb8" opacity="0.7"/>
<rect x="219" y="62" width="49" height="49" fill="#eee8ee" filter="url(#f11)"/><path d="M261.2 100.0h0.9v0.9h-0.9zM260.1 108.4h1.1v1.1h-1.1zM219.4 103.0h0.9v0.9h-0.9zM230.9 89.3h0.8v0.8h-0.8zM254.3 94.4h1.1v1.1h-1.1zM254.0 97.9h1.3v1.3h-1.3zM225.5 98.1h1.1v1.1h-1.1zM239.0 86.8h0.9v0.9h-0.9zM231.8 76.2h0.9v0.9h-0.9zM253.1 95.0h0.9v0.9h-0.9zM257.6 64.8h1.3v1.3h-1.3zM242.6 95.1h1.1v1.1h-1.1zM261.3 104.9h0.7v0.7h-0.7zM237.2 77.0h0.8v0.8h-0.8zM226.3 91.1h1.0v1.0h-1.0zM264.5 85.2h1.0v1.0h-1.0zM264.2 75.1h0.7v0.7h-0.7zM263.2 86.5h0.8v0.8h-0.8zM227.3 90.1h1.3v1.3h-1.3zM248.9 73.5h1.3v1.3h-1.3zM220.2 88.2h1.2v1.2h-1.2zM223.1 107.7h0.9v0.9h-0.9zM242.6 108.7h1.1v1.1h-1.1zM262.4 77.6h0.9v0.9h-0.9zM242.7 64.3h1.2v1.2h-1.2zM261.9 71.6h1.0v1.0h-1.0zM221.9 76.7h1.2v1.2h-1.2zM251.7 105.6h1.0v1.0h-1.0zM265.6 99.3h1.1v1.1h-1.1zM252.3 75.1h0.9v0.9h-0.9zM241.7 91.6h1.2v1.2h-1.2zM238.2 94.5h1.3v1.3h-1.3zM234.4 100.1h0.9v0.9h-0.9zM224.4 106.5h1.0v1.0h-1.0zM243.0 81.6h1.1v1.1h-1.1zM262.0 64.1h0.8v0.8h-0.8zM244.8 93.8h0.9v0.9h-0.9zM238.7 65.7h1.2v1.2h-1.2zM253.5 81.0h0.9v0.9h-0.9zM259.7 67.8h1.2v1.2h-1.2zM219.6 87.6h1.0v1.0h-1.0zM233.6 90.8h1.1v1.1h-1.1zM266.1 104.6h0.9v0.9h-0.9zM223.6 90.8h1.2v1.2h-1.2zM258.9 96.0h1.2v1.2h-1.2zM226.9 70.4h1.3v1.3h-1.3zM254.5 67.6h1.1v1.1h-1.1zM259.4 100.0h0.9v0.9h-0.9zM238.1 85.9h1.2v1.2h-1.2zM260.6 96.3h0.9v0.9h-0.9zM254.5 81.9h0.8v0.8h-0.8zM232.8 72.2h1.3v1.3h-1.3zM263.3 65.2h1.1v1.1h-1.1zM246.7 73.4h0.7v0.7h-0.7zM229.3 97.0h1.0v1.0h-1.0zM251.5 102.8h1.2v1.2h-1.2z" fill="#a898b8" opacity="0.7"/>
<rect x="269" y="62" width="49" height="49" fill="#f0e4e5" filter="url(#f12)"/><path d="M301.4 98.4h0.8v0.8h-0.8zM312.1 105.1h1.0v1.0h-1.0zM308.3 93.0h1.1v1.1h-1.1zM275.3 95.6h1.2v1.2h-1.2zM298.3 75.2h1.1v1.1h-1.1zM298.1 101.8h0.7v0.7h-0.7zM279.3 72.8h0.9v0.9h-0.9zM301.6 109.0h0.8v0.8h-0.8zM286.2 95.4h1.2v1.2h-1.2zM309.5 77.7h0.7v0.7h-0.7zM299.4 68.7h0.7v0.7h-0.7zM271.8 83.5h0.9v0.9h-0.9zM307.7 63.9h1.0v1.0h-1.0zM274.3 72.7h1.2v1.2h-1.2zM285.3 77.9h1.1v1.1h-1.1zM279.4 100.1h1.0v1.0h-1.0zM309.4 101.0h0.8v0.8h-0.8zM270.5 99.3h1.0v1.0h-1.0zM293.4 82.5h0.7v0.7h-0.7zM299.4 97.0h0.7v0.7h-0.7zM288.2 86.6h1.1v1.1h-1.1zM279.8 103.6h1.1v1.1h-1.1zM307.4 107.9h1.3v1.3h-1.3zM316.4 65.4h0.9v0.9h-0.9zM275.4 83.8h1.0v1.0h-1.0zM302.9 83.8h1.1v1.1h-1.1zM278.1 81.4h0.9v0.9h-0.9zM278.3 97.4h0.9v0.9h-0.9zM290.0 71.5h1.0v1.0h-1.0zM278.4 74.7h1.1v1.1h-1.1zM302.6 108.7h1.0v1.0h-1.0zM314.4 106.0h1.1v1.1h-1.1zM303.4 65.0h1.1v1.1h-1.1zM269.6 103.6h0.8v0.8h-0.8zM299.2 74.6h1.1v1.1h-1.1zM276.9 92.4h0.9v0.9h-0.9zM283.6 64.1h1.3v1.3h-1.3zM286.1 105.3h0.8v0.8h-0.8zM290.8 66.9h1.2v1.2h-1.2zM276.4 99.5h0.8v0.8h-0.8zM316.6 105.8h1.0v1.0h-1.0zM291.8 101.3h1.2v1.2h-1.2zM274.2 89.2h0.8v0.8h-0.8zM279.0 74.1h1.0v1.0h-1.0zM312.9 96.3h0.7v0.7h-0.7zM315.8 82.8h1.3v1.3h-1.3zM287.4 100.9h1.1v1.1h-1.1zM275.4 62.6h1.2v1.2h-1.2z" fill="#a898b8" opacity="0.7"/><path d="M297.3 80.3h0.6v0.6h-0.6zM309.3 100.1h0.5v0.5h-0.5zM271.1 104.9h0.7v0.7h-0.7zM272.4 77.6h0.8v0.8h-0.8zM311.7 85.3h0.8v0.8h-0.8zM278.9 73.7h0.8v0.8h-0.8zM287.4 67.0h1.0v1.0h-1.0zM275.1 71.6h0.8v0.8h-0.8zM297.3 92.7h0.7v0.7h-0.7zM290.2 65.3h0.9v0.9h-0.9zM271.6 84.7h0.9v0.9h-0.9zM301.5 96.5h0.7v0.7h-0.7zM300.4 95.5h0.6v0.6h-0.6zM275.8 105.9h0.7v0.7h-0.7zM272.0 73.5h0.8v0.8h-0.8zM280.0 80.8h1.0v1.0h-1.0zM308.6 92.5h0.9v0.9h-0.9zM270.8 66.5h0.9v0.9h-0.9zM307.5 63.8h1.0v1.0h-1.0zM280.7 107.1h0.5v0.5h-0.5zM301.5 107.0h0.6v0.6h-0.6zM313.3 74.7h0.8v0.8h-0.8zM269.9 98.7h0.6v0.6h-0.6zM316.1 96.4h0.6v0.6h-0.6zM308.1 69.9h0.6v0.6h-0.6zM274.1 100.0h0.8v0.8h-0.8zM313.0 62.1h0.9v0.9h-0.9zM295.7 101.5h0.9v0.9h-0.9zM298.9 90.7h0.8v0.8h-0.8zM272.7 64.6h0.9v0.9h-0.9z" fill="#dcc4c4" opacity="0.8"/>
<rect x="319" y="62" width="49" height="49" fill="#ecdcd9" filter="url(#f13)"/><path d="M341.0 94.3h0.9v0.9h-0.9zM329.0 71.0h0.8v0.8h-0.8zM359.4 72.1h0.8v0.8h-0.8zM354.4 94.3h0.9v0.9h-0.9zM348.4 66.1h1.1v1.1h-1.1zM351.7 66.2h0.8v0.8h-0.8zM361.6 109.6h0.6v0.6h-0.6zM332.3 77.0h0.6v0.6h-0.6zM342.9 89.8h0.7v0.7h-0.7zM328.3 65.8h0.7v0.7h-0.7zM352.1 99.2h0.5v0.5h-0.5zM337.6 109.6h0.6v0.6h-0.6zM346.5 72.1h1.1v1.1h-1.1zM355.1 65.8h1.0v1.0h-1.0zM321.9 97.4h0.5v0.5h-0.5zM325.5 105.8h0.9v0.9h-0.9zM321.6 91.7h1.0v1.0h-1.0zM331.3 68.5h0.7v0.7h-0.7zM359.6 63.4h1.0v1.0h-1.0zM326.8 69.9h0.7v0.7h-0.7zM350.4 84.7h1.1v1.1h-1.1zM355.3 98.1h0.9v0.9h-0.9zM357.8 62.6h0.7v0.7h-0.7zM335.4 88.2h0.8v0.8h-0.8zM358.4 62.1h0.7v0.7h-0.7zM330.5 78.5h1.0v1.0h-1.0zM326.8 63.7h0.5v0.5h-0.5zM339.4 78.2h1.0v1.0h-1.0zM324.9 84.2h0.5v0.5h-0.5zM321.6 94.1h0.6v0.6h-0.6zM363.4 107.0h0.6v0.6h-0.6zM356.4 92.4h0.8v0.8h-0.8zM329.5 98.3h0.9v0.9h-0.9zM353.3 82.7h1.0v1.0h-1.0zM364.9 91.6h0.6v0.6h-0.6zM327.0 107.6h0.9v0.9h-0.9zM337.9 78.5h0.7v0.7h-0.7zM323.4 103.5h1.1v1.1h-1.1zM348.7 93.6h0.9v0.9h-0.9zM325.8 65.3h0.9v0.9h-0.9zM338.0 65.8h0.5v0.5h-0.5zM344.7 65.5h0.9v0.9h-0.9zM346.0 97.0h0.5v0.5h-0.5zM343.5 104.2h0.9v0.9h-0.9zM340.6 105.1h1.1v1.1h-1.1zM338.1 95.7h0.7v0.7h-0.7zM366.9 104.5h0.6v0.6h-0.6zM341.1 77.5h1.0v1.0h-1.0zM337.8 100.0h0.6v0.6h-0.6zM329.1 79.0h0.6v0.6h-0.6zM349.2 102.8h0.7v0.7h-0.7zM323.3 99.9h0.5v0.5h-0.5zM334.0 74.7h0.9v0.9h-0.9zM342.3 102.6h0.5v0.5h-0.5zM331.3 66.3h0.5v0.5h-0.5zM322.0 76.2h0.9v0.9h-0.9zM364.0 107.2h0.7v0.7h-0.7zM345.2 70.5h0.7v0.7h-0.7zM354.6 79.9h0.7v0.7h-0.7zM351.1 104.2h0.6v0.6h-0.6z" fill="#d2b2a2" opacity="0.8"/><path d="M326.9 98.3h1.2v1.2h-1.2zM320.4 93.0h1.3v1.3h-1.3zM355.4 102.8h1.2v1.2h-1.2zM362.0 74.7h0.8v0.8h-0.8zM323.8 80.2h0.7v0.7h-0.7zM332.6 84.7h0.9v0.9h-0.9zM324.3 88.7h1.0v1.0h-1.0zM338.4 85.3h1.0v1.0h-1.0zM362.4 82.3h1.3v1.3h-1.3zM328.2 74.8h0.7v0.7h-0.7zM330.5 78.3h1.0v1.0h-1.0zM343.6 85.4h0.7v0.7h-0.7zM348.4 110.2h0.8v0.8h-0.8zM337.0 64.9h1.3v1.3h-1.3zM321.7 87.1h1.0v1.0h-1.0zM334.2 66.9h1.0v1.0h-1.0zM341.5 107.4h1.0v1.0h-1.0zM325.3 100.6h1.2v1.2h-1.2zM323.7 75.4h1.1v1.1h-1.1zM322.3 95.6h1.2v1.2h-1.2zM331.4 86.5h1.0v1.0h-1.0zM357.9 105.3h1.1v1.1h-1.1zM351.9 63.5h1.1v1.1h-1.1zM356.0 93.8h1.1v1.1h-1.1zM336.6 80.7h0.8v0.8h-0.8zM334.4 64.0h1.2v1.2h-1.2zM350.4 93.1h1.2v1.2h-1.2zM319.7 84.0h1.1v1.1h-1.1zM340.5 102.7h1.1v1.1h-1.1zM365.9 102.4h0.9v0.9h-0.9zM334.1 71.6h0.9v0.9h-0.9zM320.2 70.0h0.7v0.7h-0.7z" fill="#9a8fb8" opacity="0.7"/>
<rect x="369" y="62" width="49" height="49" fill="#cfb9aa" filter="url(#f14)"/><path d="M380.1 84.8h1.3v1.3h-1.3zM414.6 85.7h0.9v0.9h-0.9zM398.6 72.3h1.3v1.3h-1.3zM378.7 109.8h1.2v1.2h-1.2zM379.9 108.3h0.9v0.9h-0.9zM388.6 78.6h0.8v0.8h-0.8zM370.1 79.9h1.0v1.0h-1.0zM409.1 62.0h0.6v0.6h-0.6zM381.4 83.8h1.0v1.0h-1.0zM403.2 68.6h0.9v0.9h-0.9zM374.8 108.4h0.7v0.7h-0.7zM375.6 87.3h0.6v0.6h-0.6zM411.6 64.7h1.0v1.0h-1.0zM377.1 90.3h0.7v0.7h-0.7zM388.7 104.8h0.9v0.9h-0.9zM410.3 107.9h1.0v1.0h-1.0zM414.5 81.7h0.7v0.7h-0.7zM413.3 67.0h0.5v0.5h-0.5zM383.0 76.0h0.5v0.5h-0.5zM410.5 82.0h1.3v1.3h-1.3zM409.8 100.8h0.9v0.9h-0.9zM393.6 67.6h1.0v1.0h-1.0zM400.8 90.3h0.7v0.7h-0.7zM412.0 108.1h1.1v1.1h-1.1zM372.7 105.4h0.7v0.7h-0.7zM377.7 95.3h1.0v1.0h-1.0zM380.4 79.7h0.7v0.7h-0.7zM401.6 65.5h0.9v0.9h-0.9zM398.9 84.6h1.1v1.1h-1.1zM407.4 62.5h1.0v1.0h-1.0zM401.6 96.1h0.9v0.9h-0.9zM377.6 108.0h1.0v1.0h-1.0zM380.1 82.6h1.1v1.1h-1.1zM378.9 81.5h1.3v1.3h-1.3zM412.0 73.1h1.3v1.3h-1.3zM386.2 93.8h1.1v1.1h-1.1zM375.1 72.7h1.1v1.1h-1.1zM381.9 63.7h0.7v0.7h-0.7zM388.7 82.4h0.6v0.6h-0.6zM397.2 107.6h0.6v0.6h-0.6zM386.1 95.8h1.0v1.0h-1.0zM377.4 85.2h0.8v0.8h-0.8zM401.8 69.8h0.5v0.5h-0.5zM415.4 99.0h0.8v0.8h-0.8zM399.7 92.4h1.2v1.2h-1.2zM415.3 71.4h1.1v1.1h-1.1zM383.4 74.2h1.1v1.1h-1.1zM397.8 102.6h1.2v1.2h-1.2zM397.1 71.5h1.2v1.2h-1.2zM394.9 97.2h0.5v0.5h-0.5zM372.4 62.2h0.7v0.7h-0.7zM402.7 62.2h0.6v0.6h-0.6zM381.8 96.4h0.7v0.7h-0.7zM369.9 67.4h1.3v1.3h-1.3zM415.3 69.1h1.2v1.2h-1.2zM394.2 77.4h0.8v0.8h-0.8zM392.1 74.5h0.8v0.8h-0.8zM373.1 69.9h0.5v0.5h-0.5zM399.2 95.7h0.6v0.6h-0.6zM407.2 97.2h0.7v0.7h-0.7zM392.7 71.1h0.8v0.8h-0.8zM395.8 64.4h1.2v1.2h-1.2zM402.5 80.6h0.6v0.6h-0.6zM380.0 100.2h1.1v1.1h-1.1zM373.5 90.1h1.1v1.1h-1.1zM403.2 100.9h0.7v0.7h-0.7zM380.1 66.5h1.1v1.1h-1.1zM396.1 68.6h1.0v1.0h-1.0zM397.2 67.2h0.7v0.7h-0.7zM380.6 74.4h1.0v1.0h-1.0zM394.7 96.9h0.8v0.8h-0.8zM404.1 72.7h0.5v0.5h-0.5zM399.9 95.4h0.7v0.7h-0.7zM412.3 71.8h1.0v1.0h-1.0zM401.0 74.6h0.7v0.7h-0.7zM379.9 99.3h0.6v0.6h-0.6zM403.3 107.9h1.2v1.2h-1.2zM383.8 77.1h1.1v1.1h-1.1zM371.7 91.2h1.1v1.1h-1.1zM371.4 86.9h0.6v0.6h-0.6zM414.1 104.4h0.6v0.6h-0.6zM378.5 67.8h0.9v0.9h-0.9zM394.1 79.5h0.9v0.9h-0.9zM394.4 99.2h1.1v1.1h-1.1zM372.4 80.7h0.6v0.6h-0.6zM381.2 94.2h0.9v0.9h-0.9zM384.4 85.0h0.7v0.7h-0.7zM405.9 79.8h1.1v1.1h-1.1zM413.7 107.0h0.9v0.9h-0.9zM374.0 83.9h1.0v1.0h-1.0zM382.4 63.8h1.0v1.0h-1.0zM412.4 68.2h1.3v1.3h-1.3zM398.8 76.4h0.9v0.9h-0.9zM405.4 99.3h0.6v0.6h-0.6zM373.1 81.0h0.8v0.8h-0.8zM415.7 64.5h0.6v0.6h-0.6zM406.1 68.5h0.7v0.7h-0.7zM372.4 69.9h0.6v0.6h-0.6zM409.1 70.1h0.9v0.9h-0.9zM406.0 82.6h0.6v0.6h-0.6zM374.9 73.7h0.8v0.8h-0.8zM374.6 74.4h1.3v1.3h-1.3zM411.7 105.3h1.1v1.1h-1.1zM415.0 91.1h0.9v0.9h-0.9zM391.5 96.6h0.7v0.7h-0.7zM375.2 71.3h1.1v1.1h-1.1zM374.1 100.8h1.3v1.3h-1.3zM381.0 74.3h0.8v0.8h-0.8zM416.7 69.1h0.9v0.9h-0.9zM384.4 70.3h1.2v1.2h-1.2zM385.4 71.0h1.1v1.1h-1.1zM408.6 103.6h0.8v0.8h-0.8zM369.5 98.7h1.0v1.0h-1.0zM412.2 107.7h1.0v1.0h-1.0zM409.9 101.5h0.8v0.8h-0.8zM386.7 80.1h0.7v0.7h-0.7zM387.2 67.3h0.8v0.8h-0.8zM412.9 81.8h0.7v0.7h-0.7zM411.6 98.3h1.0v1.0h-1.0zM413.4 100.8h0.7v0.7h-0.7zM403.7 98.0h1.3v1.3h-1.3zM381.1 93.4h1.2v1.2h-1.2zM409.5 68.4h0.8v0.8h-0.8zM385.2 101.4h0.9v0.9h-0.9zM409.7 102.9h0.8v0.8h-0.8zM375.6 106.8h1.2v1.2h-1.2zM401.4 93.3h1.1v1.1h-1.1zM411.2 88.5h0.5v0.5h-0.5zM385.3 99.7h0.9v0.9h-0.9zM410.6 72.3h1.1v1.1h-1.1zM381.0 66.8h0.8v0.8h-0.8zM370.3 100.4h0.8v0.8h-0.8zM372.4 65.3h0.7v0.7h-0.7zM378.5 84.1h1.1v1.1h-1.1zM407.7 108.0h0.8v0.8h-0.8zM399.5 105.2h0.7v0.7h-0.7zM412.3 97.3h0.9v0.9h-0.9zM411.2 89.7h0.7v0.7h-0.7zM397.4 102.1h0.6v0.6h-0.6zM392.3 82.0h0.9v0.9h-0.9zM400.8 71.9h1.2v1.2h-1.2zM386.5 108.2h0.8v0.8h-0.8zM375.0 105.8h1.1v1.1h-1.1zM397.6 83.0h0.5v0.5h-0.5zM389.6 66.4h1.1v1.1h-1.1zM408.4 99.9h0.9v0.9h-0.9zM379.7 97.9h0.8v0.8h-0.8zM379.5 104.3h1.1v1.1h-1.1zM389.7 80.2h1.3v1.3h-1.3zM413.6 71.7h1.1v1.1h-1.1zM384.9 97.3h0.7v0.7h-0.7zM395.4 86.2h0.6v0.6h-0.6zM375.9 107.9h1.0v1.0h-1.0zM395.8 99.9h1.3v1.3h-1.3zM413.0 88.7h0.6v0.6h-0.6zM410.6 79.3h1.1v1.1h-1.1zM378.9 63.1h1.2v1.2h-1.2zM412.2 105.3h0.9v0.9h-0.9zM393.4 106.5h1.3v1.3h-1.3zM375.9 92.3h0.9v0.9h-0.9z" fill="#a48464" opacity="0.8"/><path d="M388.2 90.7a1.0 1.0 0 1 0 2.0 0a1.0 1.0 0 1 0 -2.0 0zM381.5 82.2a0.8 0.8 0 1 0 1.6 0a0.8 0.8 0 1 0 -1.6 0zM390.5 66.4a0.9 0.9 0 1 0 1.8 0a0.9 0.9 0 1 0 -1.8 0zM384.7 96.6a0.7 0.7 0 1 0 1.4 0a0.7 0.7 0 1 0 -1.4 0zM379.3 74.2a1.0 1.0 0 1 0 1.9 0a1.0 1.0 0 1 0 -1.9 0zM376.5 90.8a0.9 0.9 0 1 0 1.8 0a0.9 0.9 0 1 0 -1.8 0zM377.6 89.9a1.0 1.0 0 1 0 2.0 0a1.0 1.0 0 1 0 -2.0 0zM403.8 96.0a1.0 1.0 0 1 0 1.9 0a1.0 1.0 0 1 0 -1.9 0zM381.1 102.0a0.9 0.9 0 1 0 1.9 0a0.9 0.9 0 1 0 -1.9 0zM370.5 106.9a1.0 1.0 0 1 0 2.0 0a1.0 1.0 0 1 0 -2.0 0z" fill="#2e2018" opacity="0.9"/><path d="M373.2 65.4h0.8v0.8h-0.8zM401.5 68.8h1.1v1.1h-1.1zM399.8 110.1h0.8v0.8h-0.8zM406.0 73.8h0.7v0.7h-0.7zM376.8 81.8h0.6v0.6h-0.6zM383.6 69.8h0.9v0.9h-0.9zM373.1 71.3h0.7v0.7h-0.7zM393.4 70.9h0.7v0.7h-0.7zM390.2 108.9h0.8v0.8h-0.8zM414.5 84.7h0.8v0.8h-0.8zM397.6 69.0h0.6v0.6h-0.6zM372.5 95.9h0.6v0.6h-0.6zM388.3 78.9h1.2v1.2h-1.2zM386.0 95.3h0.8v0.8h-0.8zM376.3 103.7h0.8v0.8h-0.8zM369.3 102.9h0.9v0.9h-0.9zM386.0 92.2h1.0v1.0h-1.0zM388.2 82.7h1.1v1.1h-1.1zM395.8 94.0h0.7v0.7h-0.7zM414.6 69.0h1.0v1.0h-1.0zM410.1 100.2h0.8v0.8h-0.8zM401.6 78.4h0.9v0.9h-0.9zM395.3 81.3h1.2v1.2h-1.2zM374.6 105.4h0.6v0.6h-0.6z" fill="#e2d6d2" opacity="0.8"/>
<rect x="419" y="62" width="49" height="49" fill="#decdc3" filter="url(#f15)"/><path d="M448.5 100.6h1.2v1.2h-1.2zM432.2 87.1h0.8v0.8h-0.8zM445.6 100.4h0.5v0.5h-0.5zM464.3 67.6h0.7v0.7h-0.7zM448.5 89.3h0.7v0.7h-0.7zM419.8 100.3h1.1v1.1h-1.1zM458.3 92.4h0.5v0.5h-0.5zM462.2 76.0h0.5v0.5h-0.5zM464.2 80.2h0.8v0.8h-0.8zM429.2 97.7h0.6v0.6h-0.6zM434.1 72.6h0.6v0.6h-0.6zM424.9 108.8h0.8v0.8h-0.8zM424.1 68.9h1.1v1.1h-1.1zM465.8 99.2h0.9v0.9h-0.9zM459.5 63.9h0.6v0.6h-0.6zM454.2 82.3h0.8v0.8h-0.8zM453.1 70.6h0.9v0.9h-0.9zM433.6 66.1h0.6v0.6h-0.6zM420.9 77.9h0.6v0.6h-0.6zM427.1 84.2h1.0v1.0h-1.0zM428.6 79.3h0.6v0.6h-0.6zM428.5 67.8h1.2v1.2h-1.2zM434.6 81.6h1.1v1.1h-1.1zM442.3 63.2h0.8v0.8h-0.8zM462.2 70.0h1.0v1.0h-1.0zM457.0 92.0h1.1v1.1h-1.1zM440.4 91.9h1.0v1.0h-1.0zM456.5 88.2h1.1v1.1h-1.1zM419.7 83.0h1.1v1.1h-1.1zM449.7 94.0h0.5v0.5h-0.5zM426.1 64.3h0.9v0.9h-0.9zM443.8 85.8h1.1v1.1h-1.1zM426.5 93.0h1.0v1.0h-1.0zM463.4 95.8h0.9v0.9h-0.9zM459.4 79.3h1.2v1.2h-1.2zM428.1 80.3h1.0v1.0h-1.0zM435.0 85.0h1.0v1.0h-1.0zM466.1 69.8h0.9v0.9h-0.9zM428.1 109.6h1.1v1.1h-1.1zM451.1 91.7h0.6v0.6h-0.6zM447.1 77.8h0.5v0.5h-0.5zM445.9 100.5h0.9v0.9h-0.9zM446.7 88.4h0.7v0.7h-0.7zM460.1 109.3h1.2v1.2h-1.2zM458.9 64.2h0.8v0.8h-0.8zM423.0 82.0h0.8v0.8h-0.8zM443.5 96.0h0.7v0.7h-0.7zM447.6 68.5h0.5v0.5h-0.5zM461.3 91.2h0.8v0.8h-0.8zM461.5 101.0h0.8v0.8h-0.8zM440.7 79.8h0.6v0.6h-0.6zM459.4 76.5h0.5v0.5h-0.5zM431.5 99.9h0.5v0.5h-0.5zM443.6 86.2h0.6v0.6h-0.6zM456.0 95.3h0.9v0.9h-0.9zM432.3 92.9h1.0v1.0h-1.0zM452.0 95.7h0.7v0.7h-0.7zM421.2 102.0h1.2v1.2h-1.2zM433.1 90.9h1.1v1.1h-1.1zM454.3 106.9h1.1v1.1h-1.1zM460.1 103.4h0.7v0.7h-0.7zM443.5 83.5h0.7v0.7h-0.7zM423.0 100.4h0.5v0.5h-0.5zM429.3 90.8h1.1v1.1h-1.1zM422.9 75.9h1.1v1.1h-1.1zM448.2 107.8h1.1v1.1h-1.1zM455.4 93.0h1.0v1.0h-1.0zM431.5 69.9h1.1v1.1h-1.1zM429.7 103.0h1.1v1.1h-1.1zM431.5 64.9h0.7v0.7h-0.7zM467.2 76.6h0.6v0.6h-0.6zM422.0 80.3h1.2v1.2h-1.2zM465.5 72.2h0.9v0.9h-0.9zM441.6 77.1h0.8v0.8h-0.8zM437.6 93.6h0.5v0.5h-0.5zM444.5 71.4h0.8v0.8h-0.8zM444.2 67.8h0.7v0.7h-0.7zM461.9 106.2h0.7v0.7h-0.7zM441.5 106.7h1.1v1.1h-1.1zM423.8 85.9h0.9v0.9h-0.9zM434.7 78.4h1.2v1.2h-1.2zM437.4 67.4h0.6v0.6h-0.6zM442.8 75.5h1.2v1.2h-1.2zM446.9 70.6h0.7v0.7h-0.7zM434.2 84.0h1.0v1.0h-1.0zM440.8 79.7h1.2v1.2h-1.2zM464.0 95.4h1.0v1.0h-1.0zM463.8 71.5h0.8v0.8h-0.8zM450.8 70.4h1.2v1.2h-1.2zM428.2 76.2h0.6v0.6h-0.6z" fill="#b09070" opacity="0.8"/><path d="M451.6 89.9a1.1 1.1 0 1 0 2.1 0a1.1 1.1 0 1 0 -2.1 0zM428.1 65.4a0.9 0.9 0 1 0 1.8 0a0.9 0.9 0 1 0 -1.8 0zM449.6 97.9a1.0 1.0 0 1 0 1.9 0a1.0 1.0 0 1 0 -1.9 0zM423.5 75.8a0.8 0.8 0 1 0 1.6 0a0.8 0.8 0 1 0 -1.6 0zM427.5 89.9a0.8 0.8 0 1 0 1.5 0a0.8 0.8 0 1 0 -1.5 0zM430.6 108.3a1.0 1.0 0 1 0 2.1 0a1.0 1.0 0 1 0 -2.1 0zM431.8 105.1a0.7 0.7 0 1 0 1.5 0a0.7 0.7 0 1 0 -1.5 0zM442.4 78.6a1.0 1.0 0 1 0 2.1 0a1.0 1.0 0 1 0 -2.1 0zM443.2 70.6a1.1 1.1 0 1 0 2.1 0a1.1 1.1 0 1 0 -2.1 0zM465.1 105.2a1.0 1.0 0 1 0 2.0 0a1.0 1.0 0 1 0 -2.0 0zM428.3 67.8a0.8 0.8 0 1 0 1.6 0a0.8 0.8 0 1 0 -1.6 0zM453.2 107.5a1.0 1.0 0 1 0 2.0 0a1.0 1.0 0 1 0 -2.0 0z" fill="#504030" opacity="0.85"/><path d="M437.5 109.8h0.8v0.8h-0.8zM447.9 95.8h0.5v0.5h-0.5zM459.1 105.1h0.7v0.7h-0.7zM439.6 104.0h0.8v0.8h-0.8zM420.3 64.6h0.5v0.5h-0.5zM444.7 80.6h0.7v0.7h-0.7zM436.7 68.4h0.7v0.7h-0.7zM436.8 88.1h1.0v1.0h-1.0zM426.3 67.3h0.6v0.6h-0.6zM425.0 76.9h0.9v0.9h-0.9zM423.6 85.9h0.8v0.8h-0.8zM455.2 97.1h0.7v0.7h-0.7zM425.8 106.8h0.6v0.6h-0.6zM462.4 79.3h0.5v0.5h-0.5zM459.2 90.3h0.9v0.9h-0.9zM442.0 64.0h0.7v0.7h-0.7zM466.7 64.4h1.0v1.0h-1.0zM430.5 63.8h1.0v1.0h-1.0zM428.5 74.5h1.0v1.0h-1.0zM455.3 78.3h0.9v0.9h-0.9z" fill="#eee6e2" opacity="0.8"/>
<rect x="469" y="62" width="49" height="49" fill="#e3d9c3" filter="url(#f16)"/><path d="M483.9 86.7h0.8v0.8h-0.8zM480.7 69.4h1.2v1.2h-1.2zM484.7 105.9h0.7v0.7h-0.7zM489.6 70.0h1.0v1.0h-1.0zM474.9 103.1h0.5v0.5h-0.5zM476.5 92.0h1.0v1.0h-1.0zM493.6 78.3h0.5v0.5h-0.5zM505.0 96.7h0.6v0.6h-0.6zM477.1 94.2h0.9v0.9h-0.9zM500.9 66.4h0.8v0.8h-0.8zM469.2 72.7h1.1v1.1h-1.1zM478.6 66.2h0.8v0.8h-0.8zM516.7 78.1h1.0v1.0h-1.0zM501.4 72.8h0.7v0.7h-0.7zM502.2 82.8h0.8v0.8h-0.8zM472.4 88.3h0.6v0.6h-0.6zM513.0 66.8h1.2v1.2h-1.2zM492.5 71.3h0.9v0.9h-0.9zM492.8 100.8h1.0v1.0h-1.0zM514.1 101.3h0.7v0.7h-0.7zM475.8 85.3h0.8v0.8h-0.8zM502.2 95.8h0.6v0.6h-0.6zM516.0 64.2h0.9v0.9h-0.9zM507.4 67.4h1.0v1.0h-1.0zM471.6 90.1h0.7v0.7h-0.7zM485.7 95.4h1.0v1.0h-1.0zM503.4 75.4h0.8v0.8h-0.8zM489.9 62.2h1.2v1.2h-1.2zM504.2 103.9h0.6v0.6h-0.6zM476.5 103.9h0.9v0.9h-0.9zM474.5 80.3h1.0v1.0h-1.0zM469.2 64.0h1.0v1.0h-1.0zM511.2 110.1h0.7v0.7h-0.7zM512.9 99.9h0.7v0.7h-0.7zM497.2 108.4h1.1v1.1h-1.1zM514.5 89.2h1.0v1.0h-1.0zM494.1 85.4h0.6v0.6h-0.6zM487.0 86.6h0.7v0.7h-0.7zM479.7 75.3h0.9v0.9h-0.9zM493.3 82.2h0.9v0.9h-0.9zM477.9 87.5h1.0v1.0h-1.0zM506.2 96.0h0.7v0.7h-0.7zM493.8 73.9h1.0v1.0h-1.0zM493.4 80.0h1.1v1.1h-1.1zM488.4 96.2h0.7v0.7h-0.7zM492.1 97.0h1.1v1.1h-1.1zM490.9 79.3h0.6v0.6h-0.6zM486.4 98.4h0.7v0.7h-0.7zM479.0 73.2h1.0v1.0h-1.0zM500.4 94.4h1.0v1.0h-1.0zM502.3 75.1h0.9v0.9h-0.9zM486.5 63.6h0.5v0.5h-0.5zM494.1 94.1h1.2v1.2h-1.2zM507.5 73.0h1.2v1.2h-1.2zM474.2 100.4h0.7v0.7h-0.7zM492.4 79.7h1.0v1.0h-1.0zM492.5 96.4h0.7v0.7h-0.7zM509.6 103.5h1.1v1.1h-1.1zM489.3 77.1h0.8v0.8h-0.8zM477.8 69.5h1.2v1.2h-1.2zM513.5 103.2h0.7v0.7h-0.7zM510.1 105.0h0.7v0.7h-0.7zM478.3 99.2h0.8v0.8h-0.8zM474.8 105.5h0.8v0.8h-0.8zM488.2 90.7h0.8v0.8h-0.8zM470.0 80.8h0.7v0.7h-0.7zM469.5 79.9h0.8v0.8h-0.8zM485.0 94.6h1.0v1.0h-1.0zM478.1 63.0h0.9v0.9h-0.9zM498.3 76.1h1.0v1.0h-1.0zM510.4 106.0h0.6v0.6h-0.6zM497.3 89.8h0.7v0.7h-0.7zM470.8 77.7h0.7v0.7h-0.7zM497.9 86.5h1.0v1.0h-1.0zM479.3 77.1h0.6v0.6h-0.6zM486.5 105.5h0.8v0.8h-0.8zM516.8 73.6h0.6v0.6h-0.6zM480.7 90.1h1.1v1.1h-1.1zM470.8 100.4h0.8v0.8h-0.8zM481.9 99.2h1.1v1.1h-1.1zM516.5 64.6h0.8v0.8h-0.8zM480.0 92.1h0.8v0.8h-0.8zM509.4 88.3h1.0v1.0h-1.0zM507.6 67.0h0.8v0.8h-0.8zM505.4 83.3h0.7v0.7h-0.7zM473.3 84.1h1.2v1.2h-1.2zM469.1 66.5h0.6v0.6h-0.6zM486.9 83.0h0.6v0.6h-0.6zM482.9 95.8h0.9v0.9h-0.9zM516.3 70.1h0.9v0.9h-0.9z" fill="#c0a060" opacity="0.8"/><path d="M491.7 79.8a0.9 0.9 0 1 0 1.8 0a0.9 0.9 0 1 0 -1.8 0zM478.0 103.8a1.0 1.0 0 1 0 2.0 0a1.0 1.0 0 1 0 -2.0 0zM484.3 91.5a0.8 0.8 0 1 0 1.7 0a0.8 0.8 0 1 0 -1.7 0zM481.7 66.0a0.9 0.9 0 1 0 1.8 0a0.9 0.9 0 1 0 -1.8 0zM485.5 67.4a1.0 1.0 0 1 0 2.1 0a1.0 1.0 0 1 0 -2.1 0zM493.5 77.6a0.9 0.9 0 1 0 1.9 0a0.9 0.9 0 1 0 -1.9 0zM508.7 78.2a0.8 0.8 0 1 0 1.6 0a0.8 0.8 0 1 0 -1.6 0zM514.0 79.3a0.8 0.8 0 1 0 1.7 0a0.8 0.8 0 1 0 -1.7 0zM475.9 93.7a0.8 0.8 0 1 0 1.7 0a0.8 0.8 0 1 0 -1.7 0zM489.4 81.4a0.9 0.9 0 1 0 1.9 0a0.9 0.9 0 1 0 -1.9 0z" fill="#806030" opacity="0.85"/><path d="M507.2 84.1h0.6v0.6h-0.6zM487.0 97.3h0.9v0.9h-0.9zM479.7 108.6h0.5v0.5h-0.5zM501.5 85.9h0.8v0.8h-0.8zM478.5 70.3h0.7v0.7h-0.7zM502.4 74.5h0.8v0.8h-0.8zM475.6 91.5h0.8v0.8h-0.8zM493.7 77.2h0.6v0.6h-0.6zM475.5 85.3h0.8v0.8h-0.8zM475.5 76.9h0.8v0.8h-0.8zM495.3 91.7h0.8v0.8h-0.8zM496.5 72.7h0.9v0.9h-0.9zM509.1 89.4h0.7v0.7h-0.7zM486.5 83.6h0.9v0.9h-0.9zM508.5 93.3h1.0v1.0h-1.0zM498.6 63.6h0.6v0.6h-0.6zM515.7 97.0h1.0v1.0h-1.0zM509.9 70.6h0.6v0.6h-0.6zM494.0 62.8h0.9v0.9h-0.9zM490.1 101.9h0.9v0.9h-0.9z" fill="#f0ece2" opacity="0.8"/>
<rect x="169" y="112" width="49" height="48" fill="#efeef6" filter="url(#f20)"/><path d="M180.5 120.6h1.0v1.0h-1.0zM199.5 140.4h0.9v0.9h-0.9zM187.0 155.0h0.8v0.8h-0.8zM203.7 114.4h0.7v0.7h-0.7zM201.2 126.1h1.1v1.1h-1.1zM173.2 121.6h1.1v1.1h-1.1zM197.8 157.4h1.3v1.3h-1.3zM169.3 114.8h1.0v1.0h-1.0zM183.8 156.7h0.9v0.9h-0.9zM192.2 140.2h1.1v1.1h-1.1zM187.2 137.4h1.2v1.2h-1.2zM207.8 151.0h0.9v0.9h-0.9zM179.5 124.7h1.3v1.3h-1.3zM193.4 118.2h1.3v1.3h-1.3zM171.2 116.5h0.9v0.9h-0.9zM207.0 133.7h1.0v1.0h-1.0zM192.3 141.4h0.9v0.9h-0.9zM207.1 145.2h1.2v1.2h-1.2zM176.7 135.4h0.9v0.9h-0.9zM213.6 119.3h1.2v1.2h-1.2zM189.3 120.6h1.2v1.2h-1.2zM179.0 156.3h1.3v1.3h-1.3zM180.9 138.8h1.1v1.1h-1.1zM181.6 128.3h1.2v1.2h-1.2zM182.6 140.0h0.8v0.8h-0.8zM184.1 149.8h1.2v1.2h-1.2zM183.5 149.1h1.2v1.2h-1.2zM195.6 138.6h0.8v0.8h-0.8zM202.5 119.9h1.2v1.2h-1.2zM173.6 157.5h1.1v1.1h-1.1zM191.4 151.3h1.0v1.0h-1.0zM189.9 151.7h1.1v1.1h-1.1zM177.3 154.3h0.8v0.8h-0.8zM200.0 132.4h0.9v0.9h-0.9zM173.8 146.0h0.9v0.9h-0.9zM176.7 139.4h1.2v1.2h-1.2zM200.1 134.9h0.8v0.8h-0.8zM216.3 153.2h0.8v0.8h-0.8zM211.7 142.4h1.0v1.0h-1.0zM190.0 152.2h0.8v0.8h-0.8z" fill="#a8a0c8" opacity="0.7"/>
<rect x="219" y="112" width="49" height="48" fill="#ecebf1" filter="url(#f21)"/><path d="M247.5 156.1h1.1v1.1h-1.1zM235.7 116.9h0.8v0.8h-0.8zM265.9 119.4h1.2v1.2h-1.2zM231.1 150.3h0.9v0.9h-0.9zM221.9 138.8h1.2v1.2h-1.2zM228.4 121.6h1.2v1.2h-1.2zM259.1 124.4h0.9v0.9h-0.9zM219.0 155.3h0.8v0.8h-0.8zM230.7 153.4h0.8v0.8h-0.8zM255.2 152.6h0.9v0.9h-0.9zM255.2 133.4h0.8v0.8h-0.8zM220.1 122.6h1.0v1.0h-1.0zM234.1 130.3h0.9v0.9h-0.9zM244.6 122.5h1.1v1.1h-1.1zM248.7 150.0h1.0v1.0h-1.0zM251.4 139.4h1.1v1.1h-1.1zM255.4 124.9h1.0v1.0h-1.0zM262.3 150.4h1.2v1.2h-1.2zM221.4 122.2h0.8v0.8h-0.8zM262.1 158.5h1.3v1.3h-1.3zM224.7 144.2h1.0v1.0h-1.0zM239.6 112.4h1.2v1.2h-1.2zM242.5 119.4h0.9v0.9h-0.9zM258.4 153.3h0.8v0.8h-0.8zM249.5 155.9h1.0v1.0h-1.0zM238.0 112.1h0.8v0.8h-0.8zM237.4 145.9h0.9v0.9h-0.9zM230.1 115.2h1.0v1.0h-1.0zM222.8 114.0h0.7v0.7h-0.7zM257.3 144.4h0.9v0.9h-0.9zM223.4 142.3h0.8v0.8h-0.8zM233.3 148.4h1.3v1.3h-1.3zM252.7 140.8h1.2v1.2h-1.2zM254.5 154.0h1.1v1.1h-1.1zM241.4 135.0h0.8v0.8h-0.8zM224.1 155.5h1.0v1.0h-1.0zM228.6 134.6h0.9v0.9h-0.9zM237.1 136.3h1.1v1.1h-1.1zM259.0 139.5h1.0v1.0h-1.0zM231.6 155.4h1.1v1.1h-1.1zM237.8 140.8h0.8v0.8h-0.8zM248.0 120.1h0.9v0.9h-0.9zM232.2 151.6h0.8v0.8h-0.8zM219.8 115.9h0.8v0.8h-0.8zM250.8 149.1h1.1v1.1h-1.1zM240.0 147.7h1.2v1.2h-1.2zM257.6 131.1h0.8v0.8h-0.8zM258.3 150.1h1.0v1.0h-1.0z" fill="#a8a0c8" opacity="0.7"/>
<rect x="269" y="112" width="49" height="48" fill="#efe2e1" filter="url(#f22)"/><path d="M291.8 112.7h0.8v0.8h-0.8zM279.7 115.8h0.8v0.8h-0.8zM278.4 136.5h0.8v0.8h-0.8zM308.6 131.7h0.8v0.8h-0.8zM280.6 151.6h0.9v0.9h-0.9zM304.8 116.6h0.7v0.7h-0.7zM288.5 139.9h1.3v1.3h-1.3zM273.8 115.0h1.2v1.2h-1.2zM297.1 145.8h1.1v1.1h-1.1zM292.9 120.8h0.9v0.9h-0.9zM282.5 139.5h1.0v1.0h-1.0zM282.2 142.3h0.9v0.9h-0.9zM307.7 135.4h0.8v0.8h-0.8zM274.5 136.0h0.8v0.8h-0.8zM303.5 129.6h1.0v1.0h-1.0zM311.9 124.9h0.9v0.9h-0.9zM311.6 158.3h1.3v1.3h-1.3zM281.3 150.1h1.3v1.3h-1.3zM278.8 158.8h1.1v1.1h-1.1zM307.8 138.2h1.1v1.1h-1.1zM310.7 120.3h0.7v0.7h-0.7zM298.7 121.1h0.9v0.9h-0.9zM303.3 116.5h1.0v1.0h-1.0zM274.0 134.3h1.1v1.1h-1.1zM301.9 114.0h1.1v1.1h-1.1zM315.3 130.5h0.8v0.8h-0.8zM287.0 144.8h1.0v1.0h-1.0zM300.1 130.9h1.1v1.1h-1.1zM293.7 120.8h1.0v1.0h-1.0zM315.1 148.3h1.3v1.3h-1.3zM291.2 151.2h1.3v1.3h-1.3zM304.8 145.7h0.8v0.8h-0.8zM308.8 153.1h1.3v1.3h-1.3zM306.9 134.4h0.9v0.9h-0.9zM286.7 149.6h0.9v0.9h-0.9zM309.4 143.3h1.2v1.2h-1.2zM276.5 138.8h0.8v0.8h-0.8zM285.2 116.8h0.8v0.8h-0.8zM303.6 122.6h0.8v0.8h-0.8zM284.7 151.7h1.2v1.2h-1.2z" fill="#9a8fb8" opacity="0.7"/><path d="M281.9 130.7h0.7v0.7h-0.7zM290.1 130.0h0.5v0.5h-0.5zM310.8 129.8h0.5v0.5h-0.5zM315.6 122.9h0.5v0.5h-0.5zM270.2 116.7h0.6v0.6h-0.6zM297.0 135.8h0.9v0.9h-0.9zM282.9 158.0h0.6v0.6h-0.6zM316.8 154.0h0.7v0.7h-0.7zM310.1 113.0h0.6v0.6h-0.6zM308.0 144.8h0.9v0.9h-0.9zM308.2 119.3h0.8v0.8h-0.8zM281.8 130.9h0.8v0.8h-0.8zM303.3 139.2h0.6v0.6h-0.6zM299.2 140.2h0.9v0.9h-0.9zM308.0 138.7h1.0v1.0h-1.0zM313.8 129.6h0.7v0.7h-0.7zM285.1 145.5h0.6v0.6h-0.6zM300.0 143.2h1.0v1.0h-1.0zM306.4 132.9h1.0v1.0h-1.0zM305.7 127.0h0.7v0.7h-0.7zM299.0 150.4h0.6v0.6h-0.6zM302.1 154.3h0.6v0.6h-0.6zM275.6 135.4h0.6v0.6h-0.6zM314.9 159.2h0.7v0.7h-0.7zM307.3 141.9h0.7v0.7h-0.7zM316.0 120.3h0.6v0.6h-0.6zM290.9 112.8h0.5v0.5h-0.5zM288.9 157.1h0.7v0.7h-0.7zM310.0 148.9h0.7v0.7h-0.7zM280.5 126.4h0.8v0.8h-0.8zM288.1 142.5h0.7v0.7h-0.7zM284.6 140.7h0.8v0.8h-0.8zM278.7 127.8h1.0v1.0h-1.0zM273.5 114.6h0.5v0.5h-0.5zM309.4 145.0h0.7v0.7h-0.7zM309.2 139.5h1.0v1.0h-1.0zM269.6 130.1h0.8v0.8h-0.8zM299.0 115.1h0.6v0.6h-0.6zM287.1 135.2h0.8v0.8h-0.8zM273.9 146.6h0.7v0.7h-0.7z" fill="#dcc0c0" opacity="0.8"/><path d="M296.8 117.4a0.9 0.9 0 1 0 1.7 0a0.9 0.9 0 1 0 -1.7 0zM310.0 158.3a0.8 0.8 0 1 0 1.6 0a0.8 0.8 0 1 0 -1.6 0z" fill="#504838" opacity="0.8"/>
<rect x="319" y="112" width="49" height="48" fill="#f0e0de" filter="url(#f23)"/><path d="M348.1 131.8h0.9v0.9h-0.9zM351.0 112.1h1.1v1.1h-1.1zM362.1 128.5h1.0v1.0h-1.0zM324.0 141.6h1.0v1.0h-1.0zM321.5 126.4h1.1v1.1h-1.1zM358.8 130.8h0.8v0.8h-0.8zM357.2 142.9h1.2v1.2h-1.2zM361.4 141.8h1.0v1.0h-1.0zM326.0 146.4h1.0v1.0h-1.0zM362.4 114.1h0.9v0.9h-0.9zM351.1 119.0h0.9v0.9h-0.9zM352.6 147.9h1.1v1.1h-1.1zM362.8 119.8h0.8v0.8h-0.8zM354.3 151.5h0.9v0.9h-0.9zM353.4 157.9h1.1v1.1h-1.1zM348.4 118.6h1.2v1.2h-1.2zM358.2 116.7h1.2v1.2h-1.2zM361.6 156.8h1.0v1.0h-1.0zM340.6 151.9h0.8v0.8h-0.8zM332.8 129.3h1.3v1.3h-1.3zM357.2 114.5h1.0v1.0h-1.0zM359.4 112.0h0.8v0.8h-0.8zM351.6 147.0h1.2v1.2h-1.2zM322.4 129.9h0.9v0.9h-0.9zM344.9 113.9h1.3v1.3h-1.3zM359.8 133.5h1.2v1.2h-1.2zM342.3 151.2h1.2v1.2h-1.2zM361.8 119.3h0.8v0.8h-0.8zM362.4 114.6h0.9v0.9h-0.9zM331.3 154.0h1.2v1.2h-1.2zM340.1 136.6h0.8v0.8h-0.8zM365.8 157.8h1.2v1.2h-1.2z" fill="#9a8fb8" opacity="0.7"/><path d="M328.0 145.5h0.6v0.6h-0.6zM326.0 144.0h0.7v0.7h-0.7zM357.9 140.6h0.7v0.7h-0.7zM348.8 129.6h0.6v0.6h-0.6zM352.6 113.0h0.6v0.6h-0.6zM328.7 126.4h0.9v0.9h-0.9zM334.7 147.2h0.5v0.5h-0.5zM351.6 149.9h1.0v1.0h-1.0zM340.4 116.4h0.8v0.8h-0.8zM327.7 121.8h0.7v0.7h-0.7zM319.3 154.7h1.0v1.0h-1.0zM325.1 133.5h0.7v0.7h-0.7zM364.7 141.7h0.5v0.5h-0.5zM338.2 121.5h0.6v0.6h-0.6zM340.0 128.4h0.8v0.8h-0.8zM336.5 152.2h0.7v0.7h-0.7zM322.2 131.7h0.9v0.9h-0.9zM324.7 132.7h0.6v0.6h-0.6zM328.1 153.4h0.7v0.7h-0.7zM333.6 141.3h0.9v0.9h-0.9zM324.8 115.0h0.5v0.5h-0.5zM339.6 135.4h0.7v0.7h-0.7zM330.2 145.2h0.7v0.7h-0.7zM343.6 121.0h0.8v0.8h-0.8zM361.7 151.7h0.5v0.5h-0.5zM335.5 142.2h1.0v1.0h-1.0zM353.9 116.0h0.8v0.8h-0.8zM326.5 131.4h0.7v0.7h-0.7zM334.7 151.4h0.6v0.6h-0.6zM361.1 148.7h0.6v0.6h-0.6zM348.5 141.3h0.8v0.8h-0.8zM331.3 135.7h0.6v0.6h-0.6zM353.4 149.9h0.5v0.5h-0.5zM344.9 135.5h0.6v0.6h-0.6zM361.0 132.1h0.9v0.9h-0.9zM367.3 146.6h0.5v0.5h-0.5zM351.9 116.4h0.8v0.8h-0.8zM366.8 126.6h0.8v0.8h-0.8zM337.0 143.4h0.6v0.6h-0.6zM340.9 132.4h0.8v0.8h-0.8z" fill="#dcc0bc" opacity="0.8"/>
<rect x="369" y="112" width="49" height="48" fill="#e6d2cd" filter="url(#f24)"/><path d="M372.3 136.6h0.6v0.6h-0.6zM390.5 158.3h0.9v0.9h-0.9zM385.9 131.7h0.8v0.8h-0.8zM414.4 140.0h0.6v0.6h-0.6zM389.5 123.8h0.9v0.9h-0.9zM392.8 133.1h0.7v0.7h-0.7zM395.9 121.7h1.2v1.2h-1.2zM376.7 128.4h0.5v0.5h-0.5zM411.6 123.1h1.0v1.0h-1.0zM390.2 137.2h1.0v1.0h-1.0zM371.0 115.1h0.9v0.9h-0.9zM402.1 129.9h1.0v1.0h-1.0zM408.2 126.1h1.1v1.1h-1.1zM395.8 143.1h0.5v0.5h-0.5zM371.1 135.1h0.7v0.7h-0.7zM404.7 141.7h0.5v0.5h-0.5zM390.5 123.0h0.7v0.7h-0.7zM377.8 150.6h0.6v0.6h-0.6zM403.5 128.4h0.8v0.8h-0.8zM397.6 142.7h1.1v1.1h-1.1zM396.1 121.0h0.8v0.8h-0.8zM401.1 136.9h1.2v1.2h-1.2zM373.8 127.7h0.9v0.9h-0.9zM409.8 112.6h0.7v0.7h-0.7zM410.9 148.9h0.8v0.8h-0.8zM383.5 122.9h1.0v1.0h-1.0zM383.3 146.0h1.0v1.0h-1.0zM405.7 139.1h0.7v0.7h-0.7zM416.2 129.8h1.1v1.1h-1.1zM369.5 153.1h1.2v1.2h-1.2zM395.4 130.4h0.5v0.5h-0.5zM384.1 121.8h1.0v1.0h-1.0zM395.4 147.5h1.0v1.0h-1.0zM370.8 148.4h0.8v0.8h-0.8zM391.8 112.0h0.7v0.7h-0.7zM401.2 148.2h0.7v0.7h-0.7zM390.3 146.5h0.9v0.9h-0.9zM378.9 137.2h1.0v1.0h-1.0zM404.0 121.3h0.9v0.9h-0.9zM385.6 116.5h0.7v0.7h-0.7zM404.2 139.3h0.7v0.7h-0.7zM404.4 117.5h0.6v0.6h-0.6zM376.1 116.5h1.0v1.0h-1.0zM393.9 124.8h0.7v0.7h-0.7zM413.9 125.3h1.1v1.1h-1.1zM402.4 138.4h1.0v1.0h-1.0zM414.9 157.3h0.7v0.7h-0.7zM385.0 127.2h0.5v0.5h-0.5zM389.8 154.5h0.6v0.6h-0.6zM409.5 126.7h0.5v0.5h-0.5zM412.6 124.9h0.5v0.5h-0.5zM374.6 129.4h0.6v0.6h-0.6zM377.7 123.9h0.6v0.6h-0.6zM390.5 126.4h0.9v0.9h-0.9zM406.3 146.1h0.9v0.9h-0.9zM413.3 149.4h0.7v0.7h-0.7zM391.9 127.5h0.9v0.9h-0.9zM411.9 140.8h0.6v0.6h-0.6zM413.8 154.1h0.6v0.6h-0.6zM403.0 123.3h0.5v0.5h-0.5zM409.1 128.5h0.9v0.9h-0.9zM401.0 121.1h0.8v0.8h-0.8zM389.4 158.2h0.9v0.9h-0.9zM403.4 114.0h0.6v0.6h-0.6zM374.7 119.0h0.7v0.7h-0.7zM377.4 149.5h0.9v0.9h-0.9zM399.2 152.8h0.6v0.6h-0.6zM379.5 148.3h0.6v0.6h-0.6zM413.9 127.9h0.8v0.8h-0.8zM415.2 128.2h0.8v0.8h-0.8zM411.6 121.4h1.2v1.2h-1.2zM414.3 117.5h0.9v0.9h-0.9zM406.1 147.1h1.1v1.1h-1.1zM373.8 157.1h0.9v0.9h-0.9zM406.9 146.3h0.6v0.6h-0.6zM402.1 131.4h0.7v0.7h-0.7zM371.1 155.8h1.0v1.0h-1.0zM407.7 134.3h0.8v0.8h-0.8zM383.4 137.6h1.1v1.1h-1.1zM392.7 115.8h0.5v0.5h-0.5zM401.4 131.9h1.1v1.1h-1.1zM414.3 156.8h1.2v1.2h-1.2zM403.1 146.5h0.6v0.6h-0.6zM369.8 155.5h0.9v0.9h-0.9zM397.7 150.4h0.8v0.8h-0.8zM370.4 155.7h0.7v0.7h-0.7zM371.0 118.5h0.7v0.7h-0.7zM404.4 121.8h1.2v1.2h-1.2zM412.4 143.5h0.6v0.6h-0.6zM375.3 131.5h0.9v0.9h-0.9z" fill="#cfaeae" opacity="0.8"/><path d="M369.0 131.5a1.0 1.0 0 1 0 2.1 0a1.0 1.0 0 1 0 -2.1 0zM416.3 116.9a0.7 0.7 0 1 0 1.4 0a0.7 0.7 0 1 0 -1.4 0zM408.0 146.0a1.0 1.0 0 1 0 2.1 0a1.0 1.0 0 1 0 -2.1 0zM401.8 135.3a0.7 0.7 0 1 0 1.4 0a0.7 0.7 0 1 0 -1.4 0zM375.1 136.0a0.9 0.9 0 1 0 1.7 0a0.9 0.9 0 1 0 -1.7 0zM374.3 152.9a1.0 1.0 0 1 0 2.0 0a1.0 1.0 0 1 0 -2.0 0zM380.9 123.2a0.8 0.8 0 1 0 1.7 0a0.8 0.8 0 1 0 -1.7 0zM399.1 138.7a0.9 0.9 0 1 0 1.7 0a0.9 0.9 0 1 0 -1.7 0zM392.3 135.9a1.0 1.0 0 1 0 2.0 0a1.0 1.0 0 1 0 -2.0 0zM378.2 113.0a1.0 1.0 0 1 0 2.1 0a1.0 1.0 0 1 0 -2.1 0zM383.2 117.8a0.8 0.8 0 1 0 1.6 0a0.8 0.8 0 1 0 -1.6 0zM369.8 155.2a0.8 0.8 0 1 0 1.7 0a0.8 0.8 0 1 0 -1.7 0z" fill="#262626" opacity="0.9"/><path d="M411.3 144.9h0.8v0.8h-0.8zM405.4 126.2h1.0v1.0h-1.0zM378.9 138.1h1.0v1.0h-1.0zM406.3 119.9h0.9v0.9h-0.9zM408.8 150.0h0.7v0.7h-0.7zM374.7 121.8h1.2v1.2h-1.2zM404.0 147.4h0.6v0.6h-0.6zM406.5 136.3h1.0v1.0h-1.0zM413.3 142.5h0.9v0.9h-0.9zM397.3 135.2h1.0v1.0h-1.0zM396.5 118.1h1.0v1.0h-1.0zM389.3 132.4h0.8v0.8h-0.8zM386.4 130.4h0.9v0.9h-0.9zM386.9 157.9h0.8v0.8h-0.8zM369.8 146.2h0.6v0.6h-0.6zM390.6 139.9h0.8v0.8h-0.8zM380.5 112.7h0.8v0.8h-0.8zM414.0 125.4h1.1v1.1h-1.1zM384.6 114.8h0.8v0.8h-0.8zM409.0 123.3h1.1v1.1h-1.1z" fill="#f4ecec" opacity="0.8"/>
<rect x="419" y="112" width="49" height="48" fill="#eadfdc" filter="url(#f25)"/><path d="M461.0 154.5h1.0v1.0h-1.0zM424.6 120.8h0.8v0.8h-0.8zM456.9 129.2h1.0v1.0h-1.0zM458.5 145.4h0.7v0.7h-0.7zM462.9 157.5h1.0v1.0h-1.0zM429.4 146.2h0.8v0.8h-0.8zM447.0 149.2h0.8v0.8h-0.8zM455.7 118.1h1.1v1.1h-1.1zM419.4 131.3h0.9v0.9h-0.9zM453.6 159.2h0.8v0.8h-0.8zM440.2 122.2h0.9v0.9h-0.9zM423.3 140.7h1.0v1.0h-1.0zM453.9 136.3h1.0v1.0h-1.0zM453.8 115.1h1.1v1.1h-1.1zM419.9 123.8h1.0v1.0h-1.0zM427.4 135.5h1.1v1.1h-1.1zM440.5 127.1h1.0v1.0h-1.0zM460.8 137.4h0.6v0.6h-0.6zM466.5 124.7h0.6v0.6h-0.6zM451.8 133.0h1.0v1.0h-1.0zM433.1 145.0h0.9v0.9h-0.9zM448.4 139.8h0.6v0.6h-0.6zM461.3 146.3h0.8v0.8h-0.8zM458.6 126.5h0.6v0.6h-0.6zM466.1 119.3h1.0v1.0h-1.0zM421.3 151.1h0.7v0.7h-0.7zM427.5 155.2h0.9v0.9h-0.9zM429.0 158.4h0.7v0.7h-0.7zM425.2 154.9h1.0v1.0h-1.0zM458.2 136.1h1.1v1.1h-1.1zM425.6 142.4h0.9v0.9h-0.9zM455.9 124.4h1.1v1.1h-1.1zM455.0 120.8h0.9v0.9h-0.9zM423.4 117.1h1.1v1.1h-1.1zM443.1 140.3h0.7v0.7h-0.7zM458.5 148.9h1.1v1.1h-1.1zM452.5 114.6h0.9v0.9h-0.9zM446.2 143.0h0.9v0.9h-0.9zM420.1 138.7h0.8v0.8h-0.8zM422.7 141.6h1.0v1.0h-1.0z" fill="#d2bcb6" opacity="0.8"/><path d="M424.2 132.7a3.2 3.2 0 1 0 6.3 0a3.2 3.2 0 1 0 -6.3 0zM451.6 131.5a2.8 2.8 0 1 0 5.7 0a2.8 2.8 0 1 0 -5.7 0zM429.1 153.9a3.1 3.1 0 1 0 6.3 0a3.1 3.1 0 1 0 -6.3 0zM433.2 145.1a3.1 3.1 0 1 0 6.1 0a3.1 3.1 0 1 0 -6.1 0z" fill="#b89a70" opacity="0.5" filter="url(#bl)"/><path d="M444.8 145.3a0.8 0.8 0 1 0 1.6 0a0.8 0.8 0 1 0 -1.6 0zM463.9 152.1a0.8 0.8 0 1 0 1.6 0a0.8 0.8 0 1 0 -1.6 0zM452.4 127.3a0.8 0.8 0 1 0 1.5 0a0.8 0.8 0 1 0 -1.5 0zM447.8 123.1a0.7 0.7 0 1 0 1.3 0a0.7 0.7 0 1 0 -1.3 0zM422.3 130.0a0.8 0.8 0 1 0 1.6 0a0.8 0.8 0 1 0 -1.6 0zM449.7 128.0a0.7 0.7 0 1 0 1.5 0a0.7 0.7 0 1 0 -1.5 0z" fill="#404040" opacity="0.8"/>
<rect x="469" y="112" width="49" height="48" fill="#e6d9d2" filter="url(#f26)"/><path d="M477.0 141.8h0.6v0.6h-0.6zM493.6 120.5h0.9v0.9h-0.9zM474.3 120.2h1.0v1.0h-1.0zM493.8 134.6h0.6v0.6h-0.6zM504.0 154.2h0.8v0.8h-0.8zM471.0 151.2h0.8v0.8h-0.8zM484.4 118.8h0.5v0.5h-0.5zM506.6 118.1h0.9v0.9h-0.9zM510.1 144.6h0.7v0.7h-0.7zM502.2 149.7h0.6v0.6h-0.6zM476.5 143.1h0.7v0.7h-0.7zM475.5 119.8h0.7v0.7h-0.7zM475.1 130.2h0.7v0.7h-0.7zM495.6 131.0h0.8v0.8h-0.8zM473.2 127.5h1.0v1.0h-1.0zM510.4 155.2h1.1v1.1h-1.1zM494.7 149.0h1.0v1.0h-1.0zM474.7 124.0h0.8v0.8h-0.8zM511.4 127.3h0.6v0.6h-0.6zM495.0 116.8h0.7v0.7h-0.7zM507.2 149.5h0.9v0.9h-0.9zM484.2 118.8h1.0v1.0h-1.0zM502.3 129.5h1.0v1.0h-1.0zM476.4 151.3h0.7v0.7h-0.7zM508.2 128.0h0.8v0.8h-0.8zM493.8 147.3h0.7v0.7h-0.7zM485.9 144.6h1.0v1.0h-1.0zM510.6 147.9h0.7v0.7h-0.7zM486.5 124.9h0.8v0.8h-0.8zM507.4 126.3h1.0v1.0h-1.0zM478.5 157.8h0.6v0.6h-0.6zM508.3 137.1h0.5v0.5h-0.5zM495.0 131.4h0.8v0.8h-0.8zM473.3 155.4h0.8v0.8h-0.8zM475.7 143.9h0.6v0.6h-0.6zM507.8 144.6h0.9v0.9h-0.9zM471.5 112.5h1.1v1.1h-1.1zM506.7 119.2h0.6v0.6h-0.6zM506.1 119.4h0.8v0.8h-0.8zM512.4 147.3h0.8v0.8h-0.8zM492.1 125.1h0.7v0.7h-0.7zM506.5 143.9h1.1v1.1h-1.1zM504.4 135.0h0.7v0.7h-0.7zM486.5 153.5h1.0v1.0h-1.0zM490.7 138.5h0.9v0.9h-0.9zM494.4 157.1h1.0v1.0h-1.0zM512.5 145.9h0.5v0.5h-0.5zM510.0 119.0h0.8v0.8h-0.8zM503.5 150.9h0.7v0.7h-0.7zM517.0 142.7h0.7v0.7h-0.7z" fill="#d2bcb6" opacity="0.8"/><path d="M474.3 115.6a0.6 0.6 0 1 0 1.2 0a0.6 0.6 0 1 0 -1.2 0zM483.7 124.3a0.8 0.8 0 1 0 1.5 0a0.8 0.8 0 1 0 -1.5 0zM472.0 154.8a0.7 0.7 0 1 0 1.5 0a0.7 0.7 0 1 0 -1.5 0zM494.9 132.8a0.9 0.9 0 1 0 1.7 0a0.9 0.9 0 1 0 -1.7 0zM497.4 128.4a0.7 0.7 0 1 0 1.4 0a0.7 0.7 0 1 0 -1.4 0zM513.8 146.0a0.9 0.9 0 1 0 1.8 0a0.9 0.9 0 1 0 -1.8 0zM471.8 117.8a0.8 0.8 0 1 0 1.7 0a0.8 0.8 0 1 0 -1.7 0zM474.4 131.9a0.7 0.7 0 1 0 1.4 0a0.7 0.7 0 1 0 -1.4 0zM508.0 156.9a0.9 0.9 0 1 0 1.8 0a0.9 0.9 0 1 0 -1.8 0zM479.0 113.1a0.7 0.7 0 1 0 1.3 0a0.7 0.7 0 1 0 -1.3 0z" fill="#404040" opacity="0.85"/><path d="M471.7 136.9h0.9v0.9h-0.9zM501.4 138.4h0.9v0.9h-0.9zM483.4 146.5h1.1v1.1h-1.1zM503.2 134.1h1.1v1.1h-1.1zM482.7 113.9h1.0v1.0h-1.0zM498.6 120.8h1.0v1.0h-1.0zM511.0 151.9h1.2v1.2h-1.2zM492.3 120.2h1.2v1.2h-1.2zM504.5 158.4h0.9v0.9h-0.9zM469.3 128.7h0.8v0.8h-0.8zM497.7 117.3h0.9v0.9h-0.9zM485.2 154.5h1.2v1.2h-1.2zM483.7 120.3h0.9v0.9h-0.9zM497.1 150.6h1.3v1.3h-1.3zM495.2 146.6h0.7v0.7h-0.7zM513.7 116.9h1.3v1.3h-1.3zM517.0 137.2h0.9v0.9h-0.9zM481.1 113.2h1.3v1.3h-1.3zM481.6 138.2h1.3v1.3h-1.3zM496.8 156.0h0.9v0.9h-0.9zM510.9 124.0h1.3v1.3h-1.3zM469.9 131.5h1.2v1.2h-1.2zM481.2 129.2h1.3v1.3h-1.3zM480.3 145.3h1.0v1.0h-1.0z" fill="#9a8fb8" opacity="0.7"/>
<rect x="169" y="162" width="49" height="48" fill="#e5e3f1" filter="url(#f30)"/><path d="M197.5 177.9h1.0v1.0h-1.0zM181.2 166.6h1.0v1.0h-1.0zM204.4 198.6h1.3v1.3h-1.3zM190.5 173.0h1.2v1.2h-1.2zM203.5 200.2h0.8v0.8h-0.8zM185.2 200.3h1.3v1.3h-1.3zM206.5 173.8h1.0v1.0h-1.0zM196.5 200.4h1.1v1.1h-1.1zM216.3 187.6h0.8v0.8h-0.8zM171.7 199.3h1.2v1.2h-1.2zM185.4 181.1h1.2v1.2h-1.2zM183.1 171.0h1.2v1.2h-1.2zM208.5 187.5h1.1v1.1h-1.1zM190.4 190.0h0.8v0.8h-0.8zM203.3 195.5h1.1v1.1h-1.1zM170.3 201.5h1.3v1.3h-1.3zM171.9 174.4h0.9v0.9h-0.9zM174.1 183.3h0.8v0.8h-0.8zM199.5 172.7h1.3v1.3h-1.3zM173.8 189.6h0.8v0.8h-0.8zM190.0 209.0h0.8v0.8h-0.8zM207.0 184.0h1.3v1.3h-1.3zM187.3 183.1h0.8v0.8h-0.8zM201.6 166.5h1.0v1.0h-1.0zM192.7 165.4h1.0v1.0h-1.0zM207.3 202.2h0.8v0.8h-0.8zM201.6 181.5h0.8v0.8h-0.8zM187.0 168.4h1.3v1.3h-1.3zM192.7 205.5h1.2v1.2h-1.2zM173.6 190.3h0.9v0.9h-0.9zM176.6 179.4h1.2v1.2h-1.2zM208.1 173.1h1.1v1.1h-1.1zM208.3 202.4h1.0v1.0h-1.0zM192.7 187.3h1.0v1.0h-1.0zM175.8 172.7h1.2v1.2h-1.2zM184.8 165.3h1.2v1.2h-1.2zM177.7 183.8h0.8v0.8h-0.8zM211.0 183.9h1.3v1.3h-1.3zM196.9 186.5h0.9v0.9h-0.9zM216.4 206.3h0.8v0.8h-0.8zM205.4 178.3h0.8v0.8h-0.8zM179.1 192.6h0.9v0.9h-0.9zM213.9 171.5h0.8v0.8h-0.8zM214.0 206.7h1.2v1.2h-1.2zM209.5 164.7h1.1v1.1h-1.1zM169.7 195.2h1.1v1.1h-1.1zM170.2 206.9h1.3v1.3h-1.3zM208.9 196.9h1.3v1.3h-1.3zM209.3 162.8h0.9v0.9h-0.9zM198.8 183.2h1.1v1.1h-1.1zM176.6 201.1h1.1v1.1h-1.1zM191.2 188.8h1.1v1.1h-1.1zM210.3 183.9h1.2v1.2h-1.2zM211.9 162.8h0.9v0.9h-0.9zM172.5 182.7h1.2v1.2h-1.2zM194.1 202.1h1.2v1.2h-1.2zM191.9 201.2h1.2v1.2h-1.2zM211.6 174.7h0.8v0.8h-0.8zM211.2 187.0h0.9v0.9h-0.9zM214.8 180.6h1.1v1.1h-1.1zM202.1 190.7h0.8v0.8h-0.8zM193.9 194.5h1.1v1.1h-1.1zM196.1 169.7h1.3v1.3h-1.3zM199.4 191.8h1.0v1.0h-1.0zM177.5 173.0h0.7v0.7h-0.7zM217.1 180.5h0.8v0.8h-0.8zM185.5 193.1h1.2v1.2h-1.2zM208.6 171.4h1.0v1.0h-1.0zM169.3 171.5h0.9v0.9h-0.9zM178.8 183.0h1.3v1.3h-1.3zM180.1 163.9h1.3v1.3h-1.3zM187.7 172.8h0.9v0.9h-0.9z" fill="#9088c0" opacity="0.7"/>
<rect x="219" y="162" width="49" height="48" fill="#e4e2ef" filter="url(#f31)"/><path d="M222.7 166.6h1.0v1.0h-1.0zM224.9 164.3h0.9v0.9h-0.9zM254.0 190.9h1.1v1.1h-1.1zM253.8 201.0h0.8v0.8h-0.8zM229.9 188.5h1.1v1.1h-1.1zM231.9 169.0h0.9v0.9h-0.9zM249.2 205.6h1.2v1.2h-1.2zM231.7 186.0h0.8v0.8h-0.8zM233.6 187.5h0.7v0.7h-0.7zM262.7 189.1h1.0v1.0h-1.0zM247.0 198.8h1.1v1.1h-1.1zM219.0 208.2h0.9v0.9h-0.9zM225.1 167.2h1.2v1.2h-1.2zM250.7 168.2h0.8v0.8h-0.8zM242.9 162.3h0.7v0.7h-0.7zM237.4 171.7h0.9v0.9h-0.9zM231.6 173.5h0.7v0.7h-0.7zM238.9 179.0h0.9v0.9h-0.9zM219.9 201.4h0.9v0.9h-0.9zM242.6 162.1h1.1v1.1h-1.1zM262.4 183.6h0.8v0.8h-0.8zM258.5 204.1h0.8v0.8h-0.8zM243.2 188.5h0.8v0.8h-0.8zM234.4 191.2h0.8v0.8h-0.8zM249.1 191.1h1.1v1.1h-1.1zM222.3 162.8h0.9v0.9h-0.9zM260.3 204.4h1.2v1.2h-1.2zM256.1 170.1h0.7v0.7h-0.7zM228.6 202.5h0.9v0.9h-0.9zM258.8 179.9h1.2v1.2h-1.2zM231.4 188.8h1.3v1.3h-1.3zM230.2 179.9h1.1v1.1h-1.1zM257.4 170.7h0.8v0.8h-0.8zM232.4 192.2h0.8v0.8h-0.8zM244.1 202.0h1.1v1.1h-1.1zM229.0 187.0h1.2v1.2h-1.2zM230.7 168.9h0.8v0.8h-0.8zM235.9 203.9h0.7v0.7h-0.7zM223.2 172.3h1.1v1.1h-1.1zM244.4 163.3h1.1v1.1h-1.1zM246.3 190.4h0.8v0.8h-0.8zM256.3 173.4h0.7v0.7h-0.7zM244.4 178.0h1.1v1.1h-1.1zM237.9 181.8h1.3v1.3h-1.3zM259.3 208.4h1.0v1.0h-1.0zM244.8 195.6h1.2v1.2h-1.2zM265.0 207.5h1.1v1.1h-1.1zM229.4 188.6h1.2v1.2h-1.2zM230.1 198.8h1.0v1.0h-1.0zM253.2 185.1h0.8v0.8h-0.8zM253.0 196.1h1.0v1.0h-1.0zM266.7 199.4h1.3v1.3h-1.3zM251.2 185.4h0.9v0.9h-0.9zM240.3 178.7h1.3v1.3h-1.3zM241.7 187.2h0.7v0.7h-0.7zM224.1 184.8h0.9v0.9h-0.9zM227.3 183.0h0.7v0.7h-0.7zM243.0 187.0h0.9v0.9h-0.9zM225.4 162.9h0.9v0.9h-0.9zM265.5 175.2h1.0v1.0h-1.0zM234.4 197.0h0.9v0.9h-0.9zM257.2 162.2h1.0v1.0h-1.0zM228.9 179.4h0.8v0.8h-0.8zM237.5 207.4h0.9v0.9h-0.9zM246.6 207.3h1.0v1.0h-1.0zM247.5 200.9h1.1v1.1h-1.1zM220.7 207.1h0.9v0.9h-0.9zM246.9 165.1h1.0v1.0h-1.0zM236.9 192.1h1.1v1.1h-1.1zM263.2 179.4h0.9v0.9h-0.9zM262.0 172.5h0.9v0.9h-0.9zM242.4 208.2h0.9v0.9h-0.9z" fill="#9088c0" opacity="0.7"/>
<rect x="269" y="162" width="49" height="48" fill="#e5e3ee" filter="url(#f32)"/><path d="M291.4 202.5h1.3v1.3h-1.3zM293.1 194.2h1.3v1.3h-1.3zM272.4 198.1h0.9v0.9h-0.9zM292.7 172.6h0.8v0.8h-0.8zM311.3 179.4h0.7v0.7h-0.7zM312.6 167.9h1.2v1.2h-1.2zM302.4 171.4h1.2v1.2h-1.2zM297.9 172.6h1.0v1.0h-1.0zM269.3 180.7h0.9v0.9h-0.9zM303.8 173.0h1.1v1.1h-1.1zM282.6 167.0h1.2v1.2h-1.2zM310.0 173.8h0.9v0.9h-0.9zM312.7 192.2h1.1v1.1h-1.1zM312.8 206.8h1.1v1.1h-1.1zM269.5 171.9h0.8v0.8h-0.8zM285.5 175.4h1.2v1.2h-1.2zM271.5 176.8h1.3v1.3h-1.3zM280.1 174.0h1.0v1.0h-1.0zM306.6 203.2h0.8v0.8h-0.8zM280.9 208.0h0.8v0.8h-0.8zM310.9 169.9h0.8v0.8h-0.8zM284.6 179.8h0.9v0.9h-0.9zM276.4 207.0h0.8v0.8h-0.8zM306.1 184.7h0.9v0.9h-0.9zM273.0 209.0h0.7v0.7h-0.7zM304.7 166.9h0.8v0.8h-0.8zM284.6 192.8h0.8v0.8h-0.8zM315.2 186.4h1.2v1.2h-1.2zM302.6 200.7h0.8v0.8h-0.8zM293.5 184.4h0.8v0.8h-0.8zM309.0 166.4h1.1v1.1h-1.1zM273.1 180.9h0.9v0.9h-0.9zM280.3 190.0h0.9v0.9h-0.9zM271.3 177.6h1.0v1.0h-1.0zM299.1 199.8h0.9v0.9h-0.9zM314.7 173.4h1.2v1.2h-1.2zM279.3 194.5h1.0v1.0h-1.0zM275.5 198.3h0.7v0.7h-0.7zM314.9 165.6h1.1v1.1h-1.1zM296.7 171.9h0.8v0.8h-0.8zM273.5 177.7h1.3v1.3h-1.3zM316.3 201.1h0.8v0.8h-0.8zM278.4 181.9h0.8v0.8h-0.8zM270.8 166.7h1.0v1.0h-1.0zM271.4 196.9h0.8v0.8h-0.8zM304.2 179.8h0.9v0.9h-0.9zM291.9 163.5h0.9v0.9h-0.9zM272.3 183.1h1.2v1.2h-1.2zM301.7 183.9h0.7v0.7h-0.7zM298.0 181.9h0.9v0.9h-0.9zM309.6 189.5h0.7v0.7h-0.7zM276.3 203.1h0.7v0.7h-0.7zM294.7 185.5h0.9v0.9h-0.9zM312.6 166.3h1.2v1.2h-1.2zM275.3 163.4h0.8v0.8h-0.8zM287.4 200.0h1.2v1.2h-1.2zM284.9 168.4h0.8v0.8h-0.8zM301.7 179.5h0.9v0.9h-0.9zM297.2 191.3h0.9v0.9h-0.9zM311.7 176.2h0.7v0.7h-0.7zM281.6 176.0h1.1v1.1h-1.1zM280.0 166.2h0.9v0.9h-0.9zM306.7 167.5h1.0v1.0h-1.0zM310.2 176.2h1.0v1.0h-1.0zM292.4 184.7h1.1v1.1h-1.1zM289.2 162.8h1.1v1.1h-1.1zM270.5 164.5h0.9v0.9h-0.9zM287.8 177.0h1.3v1.3h-1.3zM273.1 162.9h1.3v1.3h-1.3zM286.2 173.7h1.0v1.0h-1.0zM287.9 179.6h0.8v0.8h-0.8zM273.9 191.2h0.9v0.9h-0.9z" fill="#9088c0" opacity="0.7"/>
<rect x="319" y="162" width="49" height="48" fill="#e7e3ea" filter="url(#f33)"/><path d="M340.8 201.5h0.7v0.7h-0.7zM321.1 167.8h1.1v1.1h-1.1zM345.0 169.7h1.2v1.2h-1.2zM363.3 202.6h1.1v1.1h-1.1zM357.7 166.1h1.1v1.1h-1.1zM357.9 178.1h1.0v1.0h-1.0zM360.7 195.3h0.8v0.8h-0.8zM322.1 188.4h0.7v0.7h-0.7zM348.5 202.9h1.3v1.3h-1.3zM346.8 170.6h0.8v0.8h-0.8zM326.2 183.8h0.9v0.9h-0.9zM350.7 192.6h0.7v0.7h-0.7zM355.7 165.5h1.2v1.2h-1.2zM344.9 205.8h1.2v1.2h-1.2zM322.9 195.1h1.0v1.0h-1.0zM366.4 187.4h0.8v0.8h-0.8zM342.5 177.3h1.2v1.2h-1.2zM353.0 183.6h1.1v1.1h-1.1zM339.2 195.7h0.9v0.9h-0.9zM326.6 184.8h0.8v0.8h-0.8zM322.2 174.7h1.1v1.1h-1.1zM331.7 198.1h1.3v1.3h-1.3zM323.1 184.9h0.9v0.9h-0.9zM356.1 164.2h1.2v1.2h-1.2zM348.7 184.6h1.1v1.1h-1.1zM344.0 170.6h1.1v1.1h-1.1zM325.2 176.5h1.1v1.1h-1.1zM346.2 185.9h1.2v1.2h-1.2zM342.6 180.0h1.1v1.1h-1.1zM320.1 178.5h1.0v1.0h-1.0zM367.1 204.9h0.7v0.7h-0.7zM326.6 202.1h1.1v1.1h-1.1zM357.7 192.7h0.9v0.9h-0.9zM354.5 174.6h1.1v1.1h-1.1zM344.9 197.4h1.2v1.2h-1.2zM331.2 181.2h1.2v1.2h-1.2zM322.7 203.2h0.9v0.9h-0.9zM342.5 187.6h1.1v1.1h-1.1zM322.3 178.7h1.2v1.2h-1.2zM344.6 185.3h1.1v1.1h-1.1zM329.7 193.6h0.9v0.9h-0.9zM364.1 204.5h0.9v0.9h-0.9zM332.2 186.0h1.3v1.3h-1.3zM336.3 165.5h0.8v0.8h-0.8zM364.9 197.8h1.0v1.0h-1.0zM332.3 205.9h0.9v0.9h-0.9zM359.8 202.5h0.7v0.7h-0.7zM364.9 192.5h0.7v0.7h-0.7zM339.4 190.6h0.9v0.9h-0.9zM360.6 204.1h1.0v1.0h-1.0zM319.4 198.7h0.9v0.9h-0.9zM350.4 165.5h1.1v1.1h-1.1zM362.4 179.2h0.7v0.7h-0.7zM365.7 171.2h1.0v1.0h-1.0zM321.9 188.3h1.1v1.1h-1.1zM326.5 197.6h1.1v1.1h-1.1zM358.4 198.9h1.3v1.3h-1.3zM353.2 187.6h1.3v1.3h-1.3zM357.5 191.4h1.2v1.2h-1.2zM327.5 177.9h1.1v1.1h-1.1zM360.3 198.8h0.9v0.9h-0.9zM366.8 164.8h0.9v0.9h-0.9zM334.8 165.7h0.7v0.7h-0.7zM336.1 180.1h1.3v1.3h-1.3z" fill="#9088c0" opacity="0.7"/>
<rect x="369" y="162" width="49" height="48" fill="#ece8eb" filter="url(#f34)"/><path d="M379.2 204.0h0.7v0.7h-0.7zM408.3 188.0h1.0v1.0h-1.0zM402.1 208.9h1.1v1.1h-1.1zM394.5 166.0h0.8v0.8h-0.8zM371.1 181.2h0.9v0.9h-0.9zM409.9 194.9h1.2v1.2h-1.2zM395.2 201.9h1.3v1.3h-1.3zM374.2 183.8h1.0v1.0h-1.0zM384.6 199.6h1.1v1.1h-1.1zM371.9 186.0h1.2v1.2h-1.2zM406.4 205.3h1.1v1.1h-1.1zM385.7 178.4h0.8v0.8h-0.8zM377.7 205.9h1.2v1.2h-1.2zM379.3 187.1h1.3v1.3h-1.3zM412.2 185.2h0.8v0.8h-0.8zM384.8 172.5h1.1v1.1h-1.1zM386.0 190.9h1.1v1.1h-1.1zM389.1 175.8h1.3v1.3h-1.3zM385.8 190.8h1.0v1.0h-1.0zM405.0 172.9h1.2v1.2h-1.2zM407.2 201.0h1.2v1.2h-1.2zM402.6 197.1h1.0v1.0h-1.0zM373.0 165.4h1.2v1.2h-1.2zM410.6 198.0h1.0v1.0h-1.0zM404.5 201.9h1.0v1.0h-1.0zM413.8 167.5h1.0v1.0h-1.0zM388.3 165.0h0.7v0.7h-0.7zM383.9 208.4h1.2v1.2h-1.2zM370.0 202.3h1.3v1.3h-1.3zM411.7 173.2h0.7v0.7h-0.7zM415.5 183.5h0.9v0.9h-0.9zM389.9 202.4h0.8v0.8h-0.8zM387.1 175.5h0.8v0.8h-0.8zM384.1 168.5h0.9v0.9h-0.9zM401.0 185.2h1.0v1.0h-1.0zM382.5 182.2h0.8v0.8h-0.8zM405.8 200.8h1.0v1.0h-1.0zM371.0 165.5h1.1v1.1h-1.1zM376.5 198.0h1.2v1.2h-1.2zM376.5 206.1h0.7v0.7h-0.7zM400.2 179.6h1.2v1.2h-1.2zM378.3 164.3h1.0v1.0h-1.0zM375.7 186.1h0.8v0.8h-0.8zM394.9 178.8h1.3v1.3h-1.3zM384.4 208.1h1.0v1.0h-1.0zM370.8 194.4h1.1v1.1h-1.1zM387.5 195.3h1.0v1.0h-1.0zM371.1 206.0h1.2v1.2h-1.2zM400.5 197.7h1.2v1.2h-1.2zM371.6 193.2h1.3v1.3h-1.3zM375.4 202.3h1.0v1.0h-1.0zM393.1 180.2h1.3v1.3h-1.3zM379.6 207.2h1.2v1.2h-1.2zM396.0 182.6h0.8v0.8h-0.8zM388.7 199.3h0.8v0.8h-0.8zM415.9 172.0h1.2v1.2h-1.2zM373.0 167.7h1.3v1.3h-1.3zM397.0 183.7h1.2v1.2h-1.2zM391.0 180.5h0.7v0.7h-0.7zM373.0 182.1h1.0v1.0h-1.0zM391.5 164.1h1.0v1.0h-1.0zM393.1 189.6h0.9v0.9h-0.9zM380.4 185.2h1.0v1.0h-1.0zM374.7 168.9h0.7v0.7h-0.7z" fill="#9890c0" opacity="0.7"/><path d="M369.0 184.6a1.0 1.0 0 1 0 2.0 0a1.0 1.0 0 1 0 -2.0 0zM395.7 205.3a1.0 1.0 0 1 0 2.1 0a1.0 1.0 0 1 0 -2.1 0zM388.7 201.2a0.9 0.9 0 1 0 1.8 0a0.9 0.9 0 1 0 -1.8 0zM378.2 207.5a1.0 1.0 0 1 0 2.1 0a1.0 1.0 0 1 0 -2.1 0zM397.0 186.8a0.9 0.9 0 1 0 1.8 0a0.9 0.9 0 1 0 -1.8 0z" fill="#8a7040" opacity="0.85"/>
<rect x="419" y="162" width="49" height="48" fill="#e7ddcf" filter="url(#f35)"/><path d="M461.7 172.7h0.6v0.6h-0.6zM455.5 194.1h0.6v0.6h-0.6zM447.7 188.1h0.8v0.8h-0.8zM443.3 187.3h1.2v1.2h-1.2zM438.8 194.6h0.8v0.8h-0.8zM452.5 206.0h0.6v0.6h-0.6zM445.0 178.6h1.0v1.0h-1.0zM423.5 187.6h0.6v0.6h-0.6zM460.5 170.6h1.1v1.1h-1.1zM457.7 184.5h1.0v1.0h-1.0zM427.9 177.7h1.1v1.1h-1.1zM454.0 183.2h0.9v0.9h-0.9zM460.9 180.5h0.7v0.7h-0.7zM429.8 184.8h0.8v0.8h-0.8zM436.4 193.1h1.0v1.0h-1.0zM419.6 207.4h0.8v0.8h-0.8zM445.4 207.4h0.7v0.7h-0.7zM422.1 171.7h0.6v0.6h-0.6zM460.2 186.5h0.6v0.6h-0.6zM432.2 186.3h0.5v0.5h-0.5zM433.8 204.9h0.6v0.6h-0.6zM430.2 190.2h0.8v0.8h-0.8zM444.2 192.7h0.6v0.6h-0.6zM445.6 176.7h0.6v0.6h-0.6zM448.5 204.7h1.0v1.0h-1.0zM427.8 170.7h0.9v0.9h-0.9zM457.9 164.9h1.0v1.0h-1.0zM432.6 184.1h0.8v0.8h-0.8zM445.8 196.9h1.1v1.1h-1.1zM432.3 191.1h1.0v1.0h-1.0zM441.9 187.1h0.8v0.8h-0.8zM427.1 201.4h1.0v1.0h-1.0zM434.1 202.2h0.6v0.6h-0.6zM436.5 206.6h1.2v1.2h-1.2zM465.3 171.5h0.5v0.5h-0.5zM455.9 169.7h0.5v0.5h-0.5zM419.3 167.8h1.0v1.0h-1.0zM423.1 184.3h0.8v0.8h-0.8zM454.6 185.3h0.7v0.7h-0.7zM459.3 170.0h1.2v1.2h-1.2zM461.8 188.5h1.1v1.1h-1.1zM427.2 177.1h0.9v0.9h-0.9zM428.5 191.1h0.7v0.7h-0.7zM456.1 189.1h0.7v0.7h-0.7zM423.2 201.7h1.1v1.1h-1.1zM449.4 173.2h0.9v0.9h-0.9zM438.5 195.9h1.0v1.0h-1.0zM425.7 176.2h0.9v0.9h-0.9zM419.8 191.7h1.0v1.0h-1.0zM453.4 177.5h0.9v0.9h-0.9zM442.0 197.3h0.8v0.8h-0.8zM443.7 174.3h0.6v0.6h-0.6zM431.5 171.7h0.9v0.9h-0.9zM462.3 179.2h0.7v0.7h-0.7zM454.2 174.6h1.1v1.1h-1.1zM419.4 205.9h0.9v0.9h-0.9zM424.4 186.4h0.9v0.9h-0.9zM451.3 175.6h0.8v0.8h-0.8zM448.8 165.4h1.1v1.1h-1.1zM461.4 176.3h1.1v1.1h-1.1zM460.3 203.5h1.0v1.0h-1.0zM459.5 173.8h0.5v0.5h-0.5zM451.9 183.9h1.1v1.1h-1.1zM457.5 208.6h1.1v1.1h-1.1zM446.4 196.4h1.2v1.2h-1.2zM438.2 185.5h1.0v1.0h-1.0zM429.4 174.3h0.9v0.9h-0.9zM459.5 194.7h1.1v1.1h-1.1zM443.5 188.9h1.0v1.0h-1.0zM419.4 182.9h1.0v1.0h-1.0z" fill="#c2aa8a" opacity="0.8"/><path d="M427.7 183.7a1.1 1.1 0 1 0 2.2 0a1.1 1.1 0 1 0 -2.2 0zM430.4 200.7a0.8 0.8 0 1 0 1.6 0a0.8 0.8 0 1 0 -1.6 0zM456.5 199.5a0.8 0.8 0 1 0 1.6 0a0.8 0.8 0 1 0 -1.6 0zM430.1 205.3a1.1 1.1 0 1 0 2.1 0a1.1 1.1 0 1 0 -2.1 0zM439.6 206.5a0.9 0.9 0 1 0 1.8 0a0.9 0.9 0 1 0 -1.8 0zM450.5 167.2a1.0 1.0 0 1 0 1.9 0a1.0 1.0 0 1 0 -1.9 0z" fill="#7a6030" opacity="0.85"/><path d="M431.8 167.0h0.7v0.7h-0.7zM430.9 206.8h1.2v1.2h-1.2zM428.2 195.3h1.1v1.1h-1.1zM444.4 165.6h0.9v0.9h-0.9zM456.6 189.2h1.2v1.2h-1.2zM435.3 168.0h1.1v1.1h-1.1zM454.6 188.5h0.9v0.9h-0.9zM430.6 184.4h0.8v0.8h-0.8zM421.2 183.3h0.7v0.7h-0.7zM461.9 168.1h0.8v0.8h-0.8zM457.0 176.8h1.1v1.1h-1.1zM466.6 191.0h1.0v1.0h-1.0zM465.9 174.2h0.9v0.9h-0.9zM433.8 181.7h1.3v1.3h-1.3zM450.4 203.6h0.9v0.9h-0.9zM427.7 208.4h1.1v1.1h-1.1zM443.2 201.8h1.1v1.1h-1.1zM447.8 199.1h0.8v0.8h-0.8zM451.2 164.9h1.2v1.2h-1.2zM431.9 190.6h1.0v1.0h-1.0zM440.9 187.3h0.9v0.9h-0.9zM461.7 175.2h1.1v1.1h-1.1zM427.9 167.3h0.9v0.9h-0.9zM462.9 167.9h1.2v1.2h-1.2zM462.5 202.7h0.9v0.9h-0.9zM466.4 176.2h1.3v1.3h-1.3zM431.0 185.7h0.7v0.7h-0.7zM431.2 184.4h0.7v0.7h-0.7zM426.4 167.8h1.1v1.1h-1.1zM423.4 167.8h0.9v0.9h-0.9zM457.6 203.5h0.8v0.8h-0.8zM457.8 201.9h0.7v0.7h-0.7zM433.4 200.5h1.1v1.1h-1.1zM421.2 207.1h0.7v0.7h-0.7zM463.1 197.6h0.8v0.8h-0.8zM423.6 192.6h0.7v0.7h-0.7zM451.1 193.7h0.8v0.8h-0.8zM442.0 172.0h0.8v0.8h-0.8zM449.1 194.3h1.2v1.2h-1.2zM421.9 203.6h1.1v1.1h-1.1z" fill="#9a8fb8" opacity="0.7"/>
<rect x="469" y="162" width="49" height="48" fill="#e5dcd1" filter="url(#f36)"/><path d="M478.9 189.9h1.2v1.2h-1.2zM495.5 174.4h1.0v1.0h-1.0zM507.9 183.7h0.7v0.7h-0.7zM501.0 200.7h0.8v0.8h-0.8zM494.6 195.4h0.6v0.6h-0.6zM472.0 204.5h1.0v1.0h-1.0zM490.9 162.3h1.2v1.2h-1.2zM471.1 182.4h0.5v0.5h-0.5zM488.7 175.5h1.0v1.0h-1.0zM515.4 184.0h0.7v0.7h-0.7zM484.0 187.3h0.7v0.7h-0.7zM484.3 198.3h0.9v0.9h-0.9zM509.2 186.7h0.7v0.7h-0.7zM510.1 194.9h0.6v0.6h-0.6zM497.9 182.7h0.8v0.8h-0.8zM505.7 181.6h0.8v0.8h-0.8zM493.2 179.0h0.8v0.8h-0.8zM475.7 164.6h1.1v1.1h-1.1zM513.1 193.5h0.7v0.7h-0.7zM503.3 193.0h0.8v0.8h-0.8zM484.4 162.3h0.7v0.7h-0.7zM509.2 171.9h0.7v0.7h-0.7zM505.2 204.3h1.0v1.0h-1.0zM488.6 162.1h0.7v0.7h-0.7zM470.0 172.8h1.1v1.1h-1.1zM510.9 192.1h0.6v0.6h-0.6zM498.7 192.3h1.0v1.0h-1.0zM479.9 199.0h1.0v1.0h-1.0zM476.5 173.7h1.2v1.2h-1.2zM510.1 196.3h0.6v0.6h-0.6zM510.2 163.8h0.6v0.6h-0.6zM473.2 169.2h1.2v1.2h-1.2zM501.2 166.1h0.5v0.5h-0.5zM483.5 201.8h0.9v0.9h-0.9zM482.9 204.2h0.5v0.5h-0.5zM470.8 187.8h1.0v1.0h-1.0zM504.7 208.0h0.6v0.6h-0.6zM502.2 199.9h0.8v0.8h-0.8zM474.5 167.9h1.0v1.0h-1.0zM497.4 196.3h1.0v1.0h-1.0zM495.1 206.0h0.6v0.6h-0.6zM481.3 184.5h0.5v0.5h-0.5zM490.9 169.7h0.8v0.8h-0.8zM496.1 203.3h1.1v1.1h-1.1zM489.2 208.5h0.6v0.6h-0.6zM491.0 208.6h1.0v1.0h-1.0zM478.0 185.2h1.2v1.2h-1.2zM508.0 163.4h0.6v0.6h-0.6zM507.2 172.1h1.1v1.1h-1.1zM479.8 186.2h1.0v1.0h-1.0zM479.5 166.7h0.6v0.6h-0.6zM490.7 205.0h1.1v1.1h-1.1zM492.9 166.4h1.0v1.0h-1.0zM470.5 170.6h1.1v1.1h-1.1zM483.6 168.8h1.1v1.1h-1.1zM497.0 190.1h0.9v0.9h-0.9zM475.9 188.8h1.1v1.1h-1.1zM514.1 174.6h0.6v0.6h-0.6zM505.9 190.1h1.0v1.0h-1.0zM516.8 176.3h1.2v1.2h-1.2z" fill="#c2aa8a" opacity="0.8"/><path d="M515.3 176.0h0.9v0.9h-0.9zM515.3 177.0h0.7v0.7h-0.7zM482.5 195.8h1.2v1.2h-1.2zM508.5 204.4h0.7v0.7h-0.7zM512.5 191.8h1.1v1.1h-1.1zM495.1 186.7h1.2v1.2h-1.2zM477.5 202.9h1.2v1.2h-1.2zM485.9 208.2h0.8v0.8h-0.8zM487.4 196.7h0.8v0.8h-0.8zM472.8 164.9h1.2v1.2h-1.2zM514.0 170.8h0.8v0.8h-0.8zM496.4 177.1h1.3v1.3h-1.3zM494.0 171.0h0.8v0.8h-0.8zM471.0 189.3h0.8v0.8h-0.8zM507.2 199.2h1.1v1.1h-1.1zM472.8 189.7h1.1v1.1h-1.1zM470.3 180.4h1.0v1.0h-1.0zM493.8 206.0h0.8v0.8h-0.8zM470.2 184.1h0.9v0.9h-0.9zM483.3 187.9h1.1v1.1h-1.1zM488.0 201.0h0.7v0.7h-0.7zM474.1 200.6h0.8v0.8h-0.8zM482.4 180.7h1.0v1.0h-1.0zM471.8 196.6h0.7v0.7h-0.7zM480.1 188.7h0.8v0.8h-0.8zM483.8 205.4h1.3v1.3h-1.3zM511.3 208.1h0.8v0.8h-0.8zM485.9 207.0h0.8v0.8h-0.8zM472.2 190.3h1.3v1.3h-1.3zM470.4 170.8h1.2v1.2h-1.2zM484.7 177.0h1.1v1.1h-1.1zM469.6 180.7h0.7v0.7h-0.7zM489.1 208.2h1.0v1.0h-1.0zM479.4 170.8h0.9v0.9h-0.9zM505.2 204.4h0.9v0.9h-0.9zM514.3 191.1h1.3v1.3h-1.3zM496.5 198.9h0.8v0.8h-0.8zM491.8 187.7h1.3v1.3h-1.3zM503.1 201.0h1.0v1.0h-1.0zM510.4 185.0h1.2v1.2h-1.2zM512.2 171.7h0.7v0.7h-0.7zM488.2 206.5h1.2v1.2h-1.2zM504.4 169.0h0.9v0.9h-0.9zM494.2 181.6h1.2v1.2h-1.2zM476.0 201.4h1.0v1.0h-1.0zM514.7 198.8h0.9v0.9h-0.9zM505.3 181.5h0.9v0.9h-0.9zM470.8 172.0h0.9v0.9h-0.9z" fill="#9890c0" opacity="0.7"/><path d="M499.7 166.2a1.0 1.0 0 1 0 2.0 0a1.0 1.0 0 1 0 -2.0 0zM512.0 195.2a1.1 1.1 0 1 0 2.2 0a1.1 1.1 0 1 0 -2.2 0zM485.1 200.1a1.1 1.1 0 1 0 2.1 0a1.1 1.1 0 1 0 -2.1 0zM496.4 173.0a0.9 0.9 0 1 0 1.8 0a0.9 0.9 0 1 0 -1.8 0z" fill="#7a6030" opacity="0.85"/>
<rect x="169" y="212" width="49" height="48" fill="#eee9f1" filter="url(#f40)"/><path d="M169.6 245.4h1.3v1.3h-1.3zM192.3 231.8h1.0v1.0h-1.0zM186.0 236.8h0.7v0.7h-0.7zM216.8 228.0h0.9v0.9h-0.9zM207.7 249.2h1.2v1.2h-1.2zM193.0 251.7h1.0v1.0h-1.0zM179.8 212.6h0.8v0.8h-0.8zM190.8 256.9h1.0v1.0h-1.0zM188.4 235.2h1.3v1.3h-1.3zM205.3 236.5h0.8v0.8h-0.8zM211.3 214.0h0.8v0.8h-0.8zM192.0 259.0h0.8v0.8h-0.8zM181.9 249.4h0.8v0.8h-0.8zM213.7 212.9h0.9v0.9h-0.9zM183.9 252.0h0.8v0.8h-0.8zM201.5 253.9h0.8v0.8h-0.8zM207.5 214.4h1.3v1.3h-1.3zM179.5 217.7h1.0v1.0h-1.0zM204.4 239.1h0.8v0.8h-0.8zM182.8 215.1h0.8v0.8h-0.8zM205.0 234.1h1.3v1.3h-1.3zM215.7 221.7h1.3v1.3h-1.3zM178.2 241.6h0.9v0.9h-0.9zM193.9 248.3h1.1v1.1h-1.1zM184.1 243.4h1.0v1.0h-1.0zM171.4 234.7h1.3v1.3h-1.3zM205.0 232.4h0.8v0.8h-0.8zM201.0 256.9h1.2v1.2h-1.2zM197.6 257.7h1.0v1.0h-1.0zM185.2 216.8h1.2v1.2h-1.2zM172.0 255.2h1.3v1.3h-1.3zM200.6 256.3h1.3v1.3h-1.3zM204.8 240.0h1.1v1.1h-1.1zM172.8 247.0h0.8v0.8h-0.8zM175.0 238.3h1.0v1.0h-1.0zM181.6 253.3h0.9v0.9h-0.9zM204.9 250.3h1.1v1.1h-1.1zM190.7 232.3h1.0v1.0h-1.0zM206.4 253.6h0.9v0.9h-0.9zM203.2 222.1h0.9v0.9h-0.9zM202.1 248.7h0.7v0.7h-0.7zM216.9 245.9h0.9v0.9h-0.9zM205.6 251.7h0.9v0.9h-0.9zM213.0 232.5h0.8v0.8h-0.8zM187.2 236.9h0.9v0.9h-0.9zM183.1 214.8h1.0v1.0h-1.0zM203.4 244.6h1.1v1.1h-1.1zM210.2 212.8h0.9v0.9h-0.9zM169.9 238.2h0.8v0.8h-0.8zM179.9 236.7h1.0v1.0h-1.0zM170.7 257.5h0.7v0.7h-0.7zM172.3 242.7h1.2v1.2h-1.2zM194.8 251.5h1.0v1.0h-1.0zM214.1 244.0h1.1v1.1h-1.1zM174.6 250.4h1.2v1.2h-1.2zM213.3 249.3h0.9v0.9h-0.9z" fill="#9a8fb8" opacity="0.7"/>
<rect x="219" y="212" width="49" height="48" fill="#ece5ed" filter="url(#f41)"/><path d="M253.6 214.6h1.1v1.1h-1.1zM249.5 227.1h0.8v0.8h-0.8zM220.6 252.3h1.1v1.1h-1.1zM252.8 226.9h1.0v1.0h-1.0zM252.1 212.7h0.9v0.9h-0.9zM249.8 230.0h0.8v0.8h-0.8zM255.0 230.5h1.2v1.2h-1.2zM241.6 228.1h1.1v1.1h-1.1zM223.5 219.1h0.8v0.8h-0.8zM231.7 241.8h1.3v1.3h-1.3zM232.9 221.6h1.2v1.2h-1.2zM234.2 215.2h1.2v1.2h-1.2zM264.1 218.9h1.1v1.1h-1.1zM225.6 255.3h0.8v0.8h-0.8zM234.4 218.6h0.9v0.9h-0.9zM251.2 231.7h0.9v0.9h-0.9zM244.7 226.6h1.1v1.1h-1.1zM249.9 213.0h0.9v0.9h-0.9zM248.5 235.3h1.0v1.0h-1.0zM247.3 246.1h0.8v0.8h-0.8zM224.3 233.6h1.3v1.3h-1.3zM235.0 225.8h0.8v0.8h-0.8zM248.8 234.3h0.9v0.9h-0.9zM221.2 239.8h0.7v0.7h-0.7zM238.0 229.3h0.8v0.8h-0.8zM243.2 251.5h0.9v0.9h-0.9zM244.3 258.7h1.1v1.1h-1.1zM219.9 232.4h1.1v1.1h-1.1zM225.8 222.9h1.0v1.0h-1.0zM253.0 244.1h1.0v1.0h-1.0zM252.8 256.3h0.7v0.7h-0.7zM226.3 213.0h1.0v1.0h-1.0zM263.1 219.1h0.9v0.9h-0.9zM221.0 252.3h1.3v1.3h-1.3zM233.1 217.0h1.1v1.1h-1.1zM265.9 226.9h0.9v0.9h-0.9zM223.5 245.0h0.9v0.9h-0.9zM247.3 222.5h0.9v0.9h-0.9zM237.8 249.0h1.2v1.2h-1.2zM253.5 239.9h0.8v0.8h-0.8zM257.8 219.1h1.0v1.0h-1.0zM229.6 216.4h1.2v1.2h-1.2zM253.7 251.5h0.9v0.9h-0.9zM237.0 251.1h0.9v0.9h-0.9zM265.5 246.4h0.8v0.8h-0.8zM227.6 228.0h1.3v1.3h-1.3zM256.4 219.3h0.9v0.9h-0.9zM241.1 225.7h0.7v0.7h-0.7zM256.9 212.4h1.1v1.1h-1.1zM235.2 249.6h1.2v1.2h-1.2zM246.4 244.5h0.8v0.8h-0.8zM226.7 231.9h1.2v1.2h-1.2zM246.4 244.0h0.9v0.9h-0.9zM241.9 239.3h1.2v1.2h-1.2zM251.8 250.9h0.8v0.8h-0.8zM252.6 247.2h0.7v0.7h-0.7zM264.9 252.6h0.8v0.8h-0.8zM246.3 247.3h1.2v1.2h-1.2zM243.9 255.6h0.9v0.9h-0.9zM229.2 228.9h1.2v1.2h-1.2zM221.1 233.1h0.9v0.9h-0.9zM228.3 237.6h1.1v1.1h-1.1zM260.7 240.7h0.8v0.8h-0.8zM265.8 249.0h1.0v1.0h-1.0z" fill="#9a8fb8" opacity="0.7"/>
<rect x="269" y="212" width="49" height="48" fill="#ece9f0" filter="url(#f42)"/><path d="M316.1 241.5h1.0v1.0h-1.0zM312.3 220.3h1.3v1.3h-1.3zM287.2 240.0h1.2v1.2h-1.2zM304.5 226.1h1.0v1.0h-1.0zM286.7 248.7h1.1v1.1h-1.1zM299.9 258.8h1.0v1.0h-1.0zM269.2 254.2h0.9v0.9h-0.9zM300.0 251.0h1.0v1.0h-1.0zM287.4 258.2h1.2v1.2h-1.2zM303.9 251.2h0.9v0.9h-0.9zM289.2 229.3h0.9v0.9h-0.9zM288.8 251.9h0.9v0.9h-0.9zM316.7 249.4h0.7v0.7h-0.7zM299.8 226.1h1.0v1.0h-1.0zM310.8 229.9h1.2v1.2h-1.2zM279.5 223.8h1.0v1.0h-1.0zM299.7 232.9h1.2v1.2h-1.2zM277.9 212.2h1.1v1.1h-1.1zM296.7 220.7h0.9v0.9h-0.9zM284.6 224.3h1.0v1.0h-1.0zM286.3 246.8h1.1v1.1h-1.1zM287.0 213.5h1.1v1.1h-1.1zM295.4 239.1h1.2v1.2h-1.2zM295.3 254.5h1.1v1.1h-1.1zM315.8 241.1h0.7v0.7h-0.7zM312.6 254.1h0.9v0.9h-0.9zM269.5 241.3h1.1v1.1h-1.1zM296.6 251.1h0.9v0.9h-0.9zM309.7 226.7h0.8v0.8h-0.8zM270.8 217.0h0.9v0.9h-0.9zM294.5 256.3h0.9v0.9h-0.9zM282.9 229.6h0.8v0.8h-0.8zM286.0 243.4h1.1v1.1h-1.1zM271.1 239.4h0.8v0.8h-0.8zM275.4 214.3h1.1v1.1h-1.1zM272.1 255.4h1.1v1.1h-1.1zM276.7 231.2h1.1v1.1h-1.1zM273.2 228.6h0.7v0.7h-0.7zM312.5 247.2h1.2v1.2h-1.2zM297.0 236.0h1.1v1.1h-1.1zM292.8 230.7h1.1v1.1h-1.1zM283.4 231.0h1.2v1.2h-1.2zM315.2 228.2h1.1v1.1h-1.1zM288.3 221.9h1.0v1.0h-1.0zM307.0 220.8h0.9v0.9h-0.9zM282.6 239.2h1.0v1.0h-1.0zM274.5 234.8h1.2v1.2h-1.2zM300.2 244.0h0.8v0.8h-0.8zM280.1 226.3h0.8v0.8h-0.8zM311.9 253.2h0.9v0.9h-0.9zM287.8 233.4h1.2v1.2h-1.2zM291.2 256.9h0.8v0.8h-0.8zM288.0 221.2h0.8v0.8h-0.8zM283.4 234.8h1.2v1.2h-1.2zM302.3 236.3h0.7v0.7h-0.7zM303.5 246.8h1.2v1.2h-1.2z" fill="#9a8fb8" opacity="0.7"/>
<rect x="319" y="212" width="49" height="48" fill="#ede7ea" filter="url(#f43)"/><path d="M332.6 246.6h1.0v1.0h-1.0zM364.3 223.7h1.3v1.3h-1.3zM362.7 256.4h1.2v1.2h-1.2zM322.5 239.9h1.2v1.2h-1.2zM364.6 247.1h1.3v1.3h-1.3zM366.2 216.8h1.0v1.0h-1.0zM328.9 252.4h1.1v1.1h-1.1zM361.1 255.9h0.8v0.8h-0.8zM350.7 233.2h0.8v0.8h-0.8zM351.4 252.3h0.7v0.7h-0.7zM328.1 250.4h0.8v0.8h-0.8zM325.0 240.4h0.8v0.8h-0.8zM329.3 245.8h0.8v0.8h-0.8zM322.6 255.2h1.1v1.1h-1.1zM337.3 247.5h1.1v1.1h-1.1zM360.3 258.1h0.8v0.8h-0.8zM335.4 235.9h0.9v0.9h-0.9zM355.1 229.1h1.2v1.2h-1.2zM319.2 251.6h1.2v1.2h-1.2zM366.7 249.7h1.3v1.3h-1.3zM343.8 258.9h0.8v0.8h-0.8zM363.3 256.8h1.1v1.1h-1.1zM359.3 244.0h0.8v0.8h-0.8zM365.9 240.0h1.3v1.3h-1.3zM324.6 227.5h1.0v1.0h-1.0zM320.6 234.9h1.2v1.2h-1.2zM321.4 216.7h0.8v0.8h-0.8zM343.7 256.3h0.9v0.9h-0.9zM329.1 243.0h0.8v0.8h-0.8zM323.1 236.4h0.8v0.8h-0.8zM332.6 247.5h1.1v1.1h-1.1zM363.4 235.8h0.8v0.8h-0.8zM349.2 225.9h1.1v1.1h-1.1zM325.4 214.5h1.1v1.1h-1.1zM356.0 217.6h0.9v0.9h-0.9zM332.6 217.0h0.9v0.9h-0.9zM345.5 217.4h1.3v1.3h-1.3zM362.7 251.8h1.0v1.0h-1.0zM327.4 249.8h0.9v0.9h-0.9zM333.7 251.5h0.9v0.9h-0.9zM337.3 222.0h0.9v0.9h-0.9zM360.3 213.0h1.2v1.2h-1.2zM363.1 238.0h1.2v1.2h-1.2zM348.0 214.2h0.9v0.9h-0.9zM333.3 213.8h1.3v1.3h-1.3zM364.3 219.3h1.1v1.1h-1.1zM332.3 236.7h1.3v1.3h-1.3zM357.6 226.7h1.1v1.1h-1.1z" fill="#9a8fb8" opacity="0.7"/>
<rect x="369" y="212" width="49" height="48" fill="#ede4e3" filter="url(#f44)"/><path d="M383.7 256.0h1.1v1.1h-1.1zM392.4 235.7h0.9v0.9h-0.9zM383.5 253.7h1.3v1.3h-1.3zM396.2 256.3h1.1v1.1h-1.1zM404.8 237.5h1.2v1.2h-1.2zM379.6 242.8h0.7v0.7h-0.7zM400.0 228.4h0.8v0.8h-0.8zM408.5 251.6h0.9v0.9h-0.9zM390.4 237.1h1.1v1.1h-1.1zM413.2 240.4h1.3v1.3h-1.3zM412.5 214.2h0.7v0.7h-0.7zM400.8 221.3h0.8v0.8h-0.8zM401.8 219.7h1.2v1.2h-1.2zM416.7 242.7h1.2v1.2h-1.2zM407.2 234.1h1.3v1.3h-1.3zM413.9 244.6h1.2v1.2h-1.2zM387.0 245.3h0.8v0.8h-0.8zM377.0 233.5h0.9v0.9h-0.9zM391.9 216.7h0.8v0.8h-0.8zM379.2 255.9h1.1v1.1h-1.1zM399.4 242.4h0.8v0.8h-0.8zM399.2 237.9h0.8v0.8h-0.8zM377.9 234.4h1.1v1.1h-1.1zM398.5 223.4h1.2v1.2h-1.2zM411.3 214.5h0.9v0.9h-0.9zM393.6 232.2h1.0v1.0h-1.0zM374.1 251.8h0.7v0.7h-0.7zM383.0 233.2h1.0v1.0h-1.0zM372.9 251.2h0.7v0.7h-0.7zM378.4 226.9h1.2v1.2h-1.2zM384.3 236.6h0.7v0.7h-0.7zM393.2 251.7h1.2v1.2h-1.2zM396.1 214.0h1.3v1.3h-1.3zM401.4 218.2h0.8v0.8h-0.8zM371.6 214.6h1.2v1.2h-1.2zM388.4 237.9h1.3v1.3h-1.3zM374.7 227.8h1.1v1.1h-1.1zM404.5 248.8h0.9v0.9h-0.9zM377.7 233.6h1.1v1.1h-1.1zM377.3 228.3h1.2v1.2h-1.2zM416.7 213.2h1.1v1.1h-1.1zM391.1 236.8h1.1v1.1h-1.1zM373.6 240.0h1.2v1.2h-1.2zM405.3 245.7h0.9v0.9h-0.9zM376.3 248.0h0.9v0.9h-0.9zM396.0 247.0h1.1v1.1h-1.1zM380.7 244.2h1.3v1.3h-1.3zM381.7 254.3h1.2v1.2h-1.2z" fill="#9a8fb8" opacity="0.7"/><path d="M413.9 239.3a0.9 0.9 0 1 0 1.7 0a0.9 0.9 0 1 0 -1.7 0zM409.8 248.3a1.1 1.1 0 1 0 2.2 0a1.1 1.1 0 1 0 -2.2 0zM390.0 239.5a0.9 0.9 0 1 0 1.8 0a0.9 0.9 0 1 0 -1.8 0zM387.8 253.8a1.0 1.0 0 1 0 2.1 0a1.0 1.0 0 1 0 -2.1 0z" fill="#605030" opacity="0.85"/><path d="M394.2 218.9h0.6v0.6h-0.6zM383.1 214.3h0.6v0.6h-0.6zM398.9 230.7h0.8v0.8h-0.8zM395.3 244.2h0.9v0.9h-0.9zM385.0 213.0h0.5v0.5h-0.5zM410.1 218.4h0.6v0.6h-0.6zM387.2 243.7h0.8v0.8h-0.8zM408.9 257.4h0.9v0.9h-0.9zM388.1 258.5h1.0v1.0h-1.0zM382.4 227.5h0.9v0.9h-0.9zM409.8 216.7h0.8v0.8h-0.8zM401.2 239.9h0.9v0.9h-0.9zM387.4 231.2h0.7v0.7h-0.7zM390.3 245.6h0.9v0.9h-0.9zM373.2 212.9h0.9v0.9h-0.9zM378.3 250.3h1.0v1.0h-1.0zM379.9 212.6h0.7v0.7h-0.7zM398.0 214.6h0.7v0.7h-0.7zM382.9 253.8h0.5v0.5h-0.5zM381.3 231.0h0.9v0.9h-0.9z" fill="#dccaca" opacity="0.8"/>
<rect x="419" y="212" width="49" height="48" fill="#ece4e7" filter="url(#f45)"/><path d="M427.7 242.5h1.1v1.1h-1.1zM453.2 247.8h1.0v1.0h-1.0zM453.1 220.6h0.9v0.9h-0.9zM463.1 214.2h0.8v0.8h-0.8zM441.4 213.7h1.2v1.2h-1.2zM453.0 219.4h0.8v0.8h-0.8zM430.3 250.0h0.9v0.9h-0.9zM428.3 250.0h1.3v1.3h-1.3zM454.9 250.0h0.8v0.8h-0.8zM422.6 258.8h0.9v0.9h-0.9zM435.7 233.8h1.1v1.1h-1.1zM453.9 223.2h1.0v1.0h-1.0zM438.2 243.7h0.9v0.9h-0.9zM450.4 235.8h1.1v1.1h-1.1zM458.7 246.6h1.0v1.0h-1.0zM422.4 235.1h1.0v1.0h-1.0zM444.2 230.8h1.0v1.0h-1.0zM439.5 244.0h1.0v1.0h-1.0zM427.5 243.6h0.9v0.9h-0.9zM440.3 252.4h1.0v1.0h-1.0zM420.1 230.9h1.3v1.3h-1.3zM467.0 252.9h0.9v0.9h-0.9zM445.9 226.4h1.0v1.0h-1.0zM440.1 213.9h1.0v1.0h-1.0zM424.0 253.9h0.8v0.8h-0.8zM454.8 251.8h1.0v1.0h-1.0zM440.2 251.0h1.0v1.0h-1.0zM419.6 231.8h1.2v1.2h-1.2zM419.5 212.2h1.3v1.3h-1.3zM462.1 228.1h1.1v1.1h-1.1zM423.5 250.6h0.8v0.8h-0.8zM422.2 229.7h1.0v1.0h-1.0zM423.8 224.5h1.1v1.1h-1.1zM429.6 225.3h0.8v0.8h-0.8zM454.0 216.8h1.2v1.2h-1.2zM425.1 245.5h1.2v1.2h-1.2zM451.2 227.4h0.8v0.8h-0.8zM435.6 244.1h0.7v0.7h-0.7zM436.7 223.0h0.9v0.9h-0.9zM460.7 232.8h1.1v1.1h-1.1zM443.3 236.7h0.8v0.8h-0.8zM451.3 242.8h1.1v1.1h-1.1zM440.4 258.8h1.0v1.0h-1.0zM443.3 219.7h1.2v1.2h-1.2zM428.7 216.1h0.9v0.9h-0.9zM429.6 222.4h1.2v1.2h-1.2zM425.4 216.3h0.9v0.9h-0.9zM450.0 214.1h1.1v1.1h-1.1zM430.2 245.3h1.0v1.0h-1.0zM443.3 254.8h0.9v0.9h-0.9zM456.3 214.3h0.8v0.8h-0.8zM419.7 231.1h0.9v0.9h-0.9zM447.7 226.0h1.1v1.1h-1.1zM428.9 228.3h0.9v0.9h-0.9zM439.3 218.3h1.1v1.1h-1.1zM465.8 232.3h1.0v1.0h-1.0z" fill="#9a8fb8" opacity="0.7"/><path d="M432.2 243.5a0.9 0.9 0 1 0 1.9 0a0.9 0.9 0 1 0 -1.9 0zM419.0 218.0a0.9 0.9 0 1 0 1.7 0a0.9 0.9 0 1 0 -1.7 0zM440.9 241.5a0.9 0.9 0 1 0 1.8 0a0.9 0.9 0 1 0 -1.8 0zM462.6 245.6a0.8 0.8 0 1 0 1.7 0a0.8 0.8 0 1 0 -1.7 0z" fill="#6a5434" opacity="0.85"/>
<rect x="469" y="212" width="49" height="48" fill="#ede4e6" filter="url(#f46)"/><path d="M471.3 227.0h1.2v1.2h-1.2zM496.5 222.5h1.0v1.0h-1.0zM499.6 258.2h1.1v1.1h-1.1zM483.3 216.9h0.8v0.8h-0.8zM479.3 213.4h0.9v0.9h-0.9zM482.2 246.9h1.2v1.2h-1.2zM507.1 213.2h1.2v1.2h-1.2zM509.8 241.7h1.1v1.1h-1.1zM489.4 250.6h1.1v1.1h-1.1zM485.9 235.3h1.0v1.0h-1.0zM478.0 243.6h1.0v1.0h-1.0zM500.2 212.5h1.2v1.2h-1.2zM505.8 218.2h0.9v0.9h-0.9zM501.8 237.1h1.0v1.0h-1.0zM469.8 245.2h0.9v0.9h-0.9zM498.0 236.8h0.8v0.8h-0.8zM474.4 257.6h1.1v1.1h-1.1zM510.8 220.6h1.1v1.1h-1.1zM487.1 244.8h1.1v1.1h-1.1zM488.6 256.4h1.1v1.1h-1.1zM491.4 245.6h1.0v1.0h-1.0zM512.2 227.7h0.8v0.8h-0.8zM475.9 217.8h1.2v1.2h-1.2zM480.5 232.7h1.1v1.1h-1.1zM503.9 246.8h0.8v0.8h-0.8zM475.4 214.2h1.1v1.1h-1.1zM472.9 245.6h1.0v1.0h-1.0zM513.7 250.4h1.0v1.0h-1.0zM508.6 235.8h1.1v1.1h-1.1zM472.0 245.2h0.9v0.9h-0.9zM499.3 236.0h1.1v1.1h-1.1zM513.1 229.7h1.0v1.0h-1.0zM514.9 248.0h0.8v0.8h-0.8zM516.1 232.4h1.2v1.2h-1.2zM492.8 235.1h0.8v0.8h-0.8zM506.8 223.8h0.9v0.9h-0.9zM479.1 225.3h1.3v1.3h-1.3zM480.2 245.9h1.2v1.2h-1.2zM488.7 234.1h0.9v0.9h-0.9zM508.6 256.4h0.8v0.8h-0.8zM476.6 213.2h1.3v1.3h-1.3zM504.6 237.7h1.0v1.0h-1.0zM516.1 243.9h1.3v1.3h-1.3zM488.3 215.1h0.9v0.9h-0.9zM505.1 226.9h0.9v0.9h-0.9zM495.0 254.3h0.8v0.8h-0.8zM474.3 232.3h1.1v1.1h-1.1zM508.1 231.7h0.8v0.8h-0.8z" fill="#9a8fb8" opacity="0.7"/><path d="M510.0 225.9a0.9 0.9 0 1 0 1.8 0a0.9 0.9 0 1 0 -1.8 0zM514.9 226.3a0.9 0.9 0 1 0 1.8 0a0.9 0.9 0 1 0 -1.8 0zM499.0 227.6a0.9 0.9 0 1 0 1.9 0a0.9 0.9 0 1 0 -1.9 0zM488.1 250.8a1.0 1.0 0 1 0 1.9 0a1.0 1.0 0 1 0 -1.9 0zM502.7 238.8a0.9 0.9 0 1 0 1.9 0a0.9 0.9 0 1 0 -1.9 0z" fill="#7a5c44" opacity="0.85"/>
<rect x="169" y="261" width="49" height="49" fill="#f0e9f1" filter="url(#f50)"/><path d="M178.2 276.1h1.2v1.2h-1.2zM203.0 283.0h1.0v1.0h-1.0zM215.0 270.6h1.0v1.0h-1.0zM195.8 288.4h0.7v0.7h-0.7zM204.1 282.5h1.0v1.0h-1.0zM184.2 270.0h1.0v1.0h-1.0zM194.5 278.5h1.0v1.0h-1.0zM199.2 285.9h0.8v0.8h-0.8zM186.5 278.3h0.7v0.7h-0.7zM214.4 272.1h1.0v1.0h-1.0zM214.7 300.8h1.0v1.0h-1.0zM194.0 295.8h1.1v1.1h-1.1zM211.3 297.5h1.1v1.1h-1.1zM200.6 303.1h0.8v0.8h-0.8zM194.5 297.4h0.9v0.9h-0.9zM180.7 289.9h0.7v0.7h-0.7zM208.6 269.8h0.9v0.9h-0.9zM188.7 269.4h1.0v1.0h-1.0zM185.7 265.2h1.2v1.2h-1.2zM205.2 294.1h0.9v0.9h-0.9zM189.6 272.1h0.8v0.8h-0.8zM206.0 272.5h0.9v0.9h-0.9zM195.7 268.7h0.7v0.7h-0.7zM192.1 272.1h1.0v1.0h-1.0zM210.6 266.0h0.8v0.8h-0.8zM195.5 292.6h1.2v1.2h-1.2zM206.7 276.5h1.1v1.1h-1.1zM180.1 286.2h0.8v0.8h-0.8zM194.5 269.7h1.0v1.0h-1.0zM182.8 262.4h1.0v1.0h-1.0zM189.6 271.2h1.1v1.1h-1.1zM188.3 280.1h1.3v1.3h-1.3zM175.8 265.9h1.0v1.0h-1.0zM205.8 307.4h0.9v0.9h-0.9zM188.2 271.6h1.0v1.0h-1.0zM207.8 294.4h0.7v0.7h-0.7zM189.1 306.0h0.9v0.9h-0.9zM179.9 280.3h0.8v0.8h-0.8zM194.4 271.8h1.1v1.1h-1.1zM194.9 282.7h0.7v0.7h-0.7zM199.8 269.2h0.7v0.7h-0.7zM177.2 287.1h1.1v1.1h-1.1zM171.8 289.5h1.3v1.3h-1.3zM191.0 262.4h0.9v0.9h-0.9zM210.1 280.9h0.7v0.7h-0.7zM189.2 292.1h0.8v0.8h-0.8zM209.3 277.7h0.7v0.7h-0.7zM209.7 283.5h0.8v0.8h-0.8z" fill="#9a8fb8" opacity="0.7"/>
<rect x="219" y="261" width="49" height="49" fill="#e9e4ee" filter="url(#f51)"/><path d="M263.7 294.9h0.7v0.7h-0.7zM239.2 281.9h1.2v1.2h-1.2zM231.7 303.0h0.8v0.8h-0.8zM262.4 301.1h0.9v0.9h-0.9zM225.7 281.2h1.3v1.3h-1.3zM233.9 272.7h1.2v1.2h-1.2zM244.8 287.6h0.7v0.7h-0.7zM231.5 291.5h0.8v0.8h-0.8zM256.9 303.0h0.8v0.8h-0.8zM225.3 288.4h1.0v1.0h-1.0zM224.1 295.1h0.9v0.9h-0.9zM232.0 272.9h1.0v1.0h-1.0zM262.9 277.8h1.1v1.1h-1.1zM229.6 283.3h1.1v1.1h-1.1zM233.6 290.0h1.0v1.0h-1.0zM221.1 266.7h1.0v1.0h-1.0zM226.1 287.2h0.9v0.9h-0.9zM249.0 303.4h1.1v1.1h-1.1zM256.0 266.5h1.1v1.1h-1.1zM263.4 289.3h1.2v1.2h-1.2zM245.3 281.8h1.2v1.2h-1.2zM242.2 295.4h0.8v0.8h-0.8zM261.7 285.8h1.2v1.2h-1.2zM236.8 261.9h1.3v1.3h-1.3zM245.0 298.1h1.0v1.0h-1.0zM220.2 295.8h0.8v0.8h-0.8zM260.0 288.3h0.8v0.8h-0.8zM244.1 298.2h0.8v0.8h-0.8zM265.0 263.7h0.8v0.8h-0.8zM247.7 293.6h0.8v0.8h-0.8zM263.3 270.7h1.1v1.1h-1.1zM244.9 278.0h0.7v0.7h-0.7zM238.0 303.4h0.9v0.9h-0.9zM252.3 288.3h0.9v0.9h-0.9zM262.9 273.3h0.9v0.9h-0.9zM228.3 294.7h0.9v0.9h-0.9zM236.5 266.6h1.1v1.1h-1.1zM235.2 287.4h1.1v1.1h-1.1zM219.1 263.2h1.1v1.1h-1.1zM260.5 265.2h1.2v1.2h-1.2zM239.5 301.1h0.8v0.8h-0.8zM265.0 265.4h0.9v0.9h-0.9zM221.7 289.7h1.2v1.2h-1.2zM253.4 304.6h1.3v1.3h-1.3zM264.9 304.5h0.9v0.9h-0.9zM256.1 305.2h0.9v0.9h-0.9zM237.9 298.1h0.8v0.8h-0.8zM263.0 281.8h1.0v1.0h-1.0zM227.0 274.2h1.0v1.0h-1.0zM231.5 303.8h1.2v1.2h-1.2zM246.3 275.4h1.2v1.2h-1.2zM224.7 301.0h0.7v0.7h-0.7zM264.9 274.4h1.3v1.3h-1.3zM240.0 278.6h1.3v1.3h-1.3zM258.1 293.4h1.2v1.2h-1.2zM224.2 269.8h0.9v0.9h-0.9zM228.2 288.5h0.9v0.9h-0.9zM229.4 303.2h0.9v0.9h-0.9zM219.2 261.5h0.9v0.9h-0.9zM220.4 287.7h1.0v1.0h-1.0zM241.7 290.9h0.7v0.7h-0.7zM229.4 301.2h1.0v1.0h-1.0zM257.8 305.5h1.3v1.3h-1.3zM236.5 286.9h1.3v1.3h-1.3z" fill="#b090b0" opacity="0.7"/>
<rect x="269" y="261" width="49" height="49" fill="#edeef6" filter="url(#f52)"/><path d="M273.0 293.7h1.2v1.2h-1.2zM313.5 270.2h0.9v0.9h-0.9zM284.9 307.4h1.2v1.2h-1.2zM302.5 298.0h1.2v1.2h-1.2zM313.9 273.9h0.8v0.8h-0.8zM287.1 268.0h1.0v1.0h-1.0zM288.8 299.3h1.3v1.3h-1.3zM286.3 281.5h0.9v0.9h-0.9zM272.4 281.3h0.8v0.8h-0.8zM293.8 264.4h0.9v0.9h-0.9zM284.9 274.4h0.7v0.7h-0.7zM294.7 298.3h0.7v0.7h-0.7zM316.1 288.1h1.0v1.0h-1.0zM292.2 292.9h0.7v0.7h-0.7zM298.0 265.6h1.1v1.1h-1.1zM275.4 264.3h1.1v1.1h-1.1zM295.3 265.2h0.7v0.7h-0.7zM280.5 285.0h1.3v1.3h-1.3zM270.1 306.7h0.9v0.9h-0.9zM298.9 303.5h0.9v0.9h-0.9zM275.6 279.5h1.2v1.2h-1.2zM286.4 292.7h1.2v1.2h-1.2zM305.2 293.0h1.0v1.0h-1.0zM309.9 275.6h0.9v0.9h-0.9zM302.5 273.0h0.9v0.9h-0.9zM305.1 271.8h1.0v1.0h-1.0zM294.4 291.0h0.9v0.9h-0.9zM276.7 273.0h0.8v0.8h-0.8zM307.7 280.9h0.9v0.9h-0.9zM276.9 295.7h1.0v1.0h-1.0zM297.2 299.6h1.2v1.2h-1.2zM298.2 274.7h1.1v1.1h-1.1zM297.3 277.5h0.7v0.7h-0.7zM292.2 271.4h1.2v1.2h-1.2zM281.1 291.7h0.8v0.8h-0.8zM272.4 284.0h1.0v1.0h-1.0zM316.9 302.0h0.9v0.9h-0.9zM280.2 303.2h1.2v1.2h-1.2zM300.3 300.5h0.9v0.9h-0.9zM314.4 275.3h0.8v0.8h-0.8zM313.4 269.3h1.1v1.1h-1.1zM307.1 288.1h0.8v0.8h-0.8zM317.0 299.0h0.8v0.8h-0.8zM305.6 263.7h1.2v1.2h-1.2zM270.8 285.2h0.8v0.8h-0.8zM272.4 306.6h0.7v0.7h-0.7zM307.8 288.2h0.8v0.8h-0.8zM296.4 294.6h0.9v0.9h-0.9z" fill="#8a90b8" opacity="0.7"/>
<rect x="319" y="261" width="49" height="49" fill="#eae2e9" filter="url(#f53)"/><path d="M350.2 297.9h0.8v0.8h-0.8zM323.1 274.3h0.9v0.9h-0.9zM355.9 280.2h1.1v1.1h-1.1zM337.6 262.1h1.2v1.2h-1.2zM361.9 295.0h0.8v0.8h-0.8zM332.8 280.0h0.8v0.8h-0.8zM320.2 305.3h1.0v1.0h-1.0zM331.7 262.5h1.0v1.0h-1.0zM363.7 295.5h1.0v1.0h-1.0zM360.7 292.8h1.2v1.2h-1.2zM334.0 289.1h0.7v0.7h-0.7zM329.4 264.3h0.9v0.9h-0.9zM350.9 275.3h1.2v1.2h-1.2zM360.9 267.9h1.0v1.0h-1.0zM330.2 304.4h1.1v1.1h-1.1zM364.3 279.3h1.2v1.2h-1.2zM334.4 277.9h1.0v1.0h-1.0zM365.3 308.5h1.3v1.3h-1.3zM342.4 292.5h1.2v1.2h-1.2zM339.6 304.9h1.2v1.2h-1.2zM332.6 278.2h1.2v1.2h-1.2zM326.9 273.3h1.1v1.1h-1.1zM324.1 304.8h0.8v0.8h-0.8zM358.1 285.0h1.3v1.3h-1.3zM351.9 282.1h1.1v1.1h-1.1zM325.1 272.6h1.0v1.0h-1.0zM336.2 292.7h0.9v0.9h-0.9zM330.4 303.1h0.8v0.8h-0.8zM363.6 298.3h1.2v1.2h-1.2zM342.5 301.2h0.8v0.8h-0.8zM329.9 284.1h1.2v1.2h-1.2zM319.5 272.7h1.1v1.1h-1.1zM350.9 282.4h1.1v1.1h-1.1zM344.3 277.6h1.0v1.0h-1.0zM354.8 298.3h0.8v0.8h-0.8zM356.0 300.8h1.0v1.0h-1.0zM357.7 307.3h1.1v1.1h-1.1zM364.5 282.8h0.7v0.7h-0.7zM354.3 265.7h1.2v1.2h-1.2zM323.3 296.1h1.1v1.1h-1.1zM337.1 274.1h0.9v0.9h-0.9zM349.6 275.3h1.2v1.2h-1.2zM327.9 299.4h1.1v1.1h-1.1zM355.7 290.5h1.1v1.1h-1.1zM352.2 283.1h1.3v1.3h-1.3zM346.2 274.7h1.1v1.1h-1.1zM357.4 300.4h0.9v0.9h-0.9zM351.7 285.1h1.3v1.3h-1.3zM352.9 292.2h0.9v0.9h-0.9zM354.7 279.3h1.3v1.3h-1.3zM321.2 298.6h0.9v0.9h-0.9zM337.9 263.5h1.0v1.0h-1.0zM362.1 274.3h1.0v1.0h-1.0zM355.3 292.6h1.1v1.1h-1.1zM331.0 293.3h1.1v1.1h-1.1zM365.4 285.7h1.1v1.1h-1.1zM362.6 291.0h0.9v0.9h-0.9zM350.3 268.3h0.9v0.9h-0.9zM361.6 283.3h0.8v0.8h-0.8zM329.3 283.5h1.2v1.2h-1.2zM357.6 289.8h0.8v0.8h-0.8zM337.5 271.2h0.9v0.9h-0.9zM352.3 276.0h0.8v0.8h-0.8zM337.6 282.8h0.8v0.8h-0.8z" fill="#c090a8" opacity="0.7"/>
<rect x="369" y="261" width="49" height="49" fill="#ecdfe0" filter="url(#f54)"/><path d="M388.4 307.7h0.9v0.9h-0.9zM391.0 280.1h1.1v1.1h-1.1zM376.3 283.8h0.8v0.8h-0.8zM374.1 283.8h1.1v1.1h-1.1zM398.0 277.6h0.8v0.8h-0.8zM406.5 280.4h1.1v1.1h-1.1zM372.8 271.2h0.9v0.9h-0.9zM407.7 267.6h1.1v1.1h-1.1zM412.6 278.4h1.3v1.3h-1.3zM401.3 276.8h1.0v1.0h-1.0zM403.7 284.3h0.9v0.9h-0.9zM396.0 266.6h1.0v1.0h-1.0zM383.1 269.0h1.0v1.0h-1.0zM402.7 286.2h1.0v1.0h-1.0zM401.2 281.2h1.0v1.0h-1.0zM379.2 261.4h1.3v1.3h-1.3zM402.3 279.3h1.0v1.0h-1.0zM385.5 272.7h0.9v0.9h-0.9zM410.3 274.3h1.2v1.2h-1.2zM391.0 267.3h1.0v1.0h-1.0zM394.5 308.4h1.1v1.1h-1.1zM412.1 273.5h1.2v1.2h-1.2zM408.1 266.2h0.8v0.8h-0.8zM377.4 294.8h1.1v1.1h-1.1zM373.2 302.9h0.7v0.7h-0.7zM390.6 307.7h1.0v1.0h-1.0zM379.8 294.8h1.2v1.2h-1.2zM391.3 276.0h0.9v0.9h-0.9zM383.6 274.1h0.8v0.8h-0.8zM411.1 279.3h0.8v0.8h-0.8zM407.9 293.5h1.0v1.0h-1.0zM414.9 305.9h0.8v0.8h-0.8zM384.8 300.7h1.2v1.2h-1.2zM370.5 279.1h1.1v1.1h-1.1zM395.1 306.4h1.1v1.1h-1.1zM409.0 307.9h1.2v1.2h-1.2zM412.7 261.1h0.9v0.9h-0.9zM373.2 284.9h1.2v1.2h-1.2zM372.5 291.6h1.0v1.0h-1.0zM379.7 272.7h1.2v1.2h-1.2zM394.3 261.9h1.2v1.2h-1.2zM414.4 274.3h0.9v0.9h-0.9zM390.7 303.7h0.9v0.9h-0.9zM387.4 292.8h1.2v1.2h-1.2zM372.1 279.0h0.7v0.7h-0.7zM375.7 263.1h1.1v1.1h-1.1zM377.9 263.6h1.2v1.2h-1.2zM372.8 274.8h0.8v0.8h-0.8zM400.5 274.7h1.0v1.0h-1.0zM385.0 288.8h1.0v1.0h-1.0zM399.1 261.0h0.8v0.8h-0.8zM379.0 287.5h1.3v1.3h-1.3zM390.4 273.7h0.8v0.8h-0.8zM406.3 301.5h1.1v1.1h-1.1zM390.7 287.2h1.3v1.3h-1.3zM382.9 285.4h0.9v0.9h-0.9zM371.7 296.7h1.3v1.3h-1.3zM397.8 273.8h0.9v0.9h-0.9zM392.8 275.8h1.1v1.1h-1.1zM369.2 265.7h1.0v1.0h-1.0zM372.9 280.0h1.2v1.2h-1.2zM370.7 305.6h1.1v1.1h-1.1zM415.4 281.9h0.8v0.8h-0.8zM398.0 265.3h1.1v1.1h-1.1z" fill="#9a8fb8" opacity="0.7"/><path d="M403.9 298.7a0.9 0.9 0 1 0 1.9 0a0.9 0.9 0 1 0 -1.9 0zM400.4 267.1a1.0 1.0 0 1 0 2.0 0a1.0 1.0 0 1 0 -2.0 0z" fill="#403040" opacity="0.85"/><path d="M393.6 263.0h0.7v0.7h-0.7zM373.9 288.2h0.9v0.9h-0.9zM376.9 307.1h0.6v0.6h-0.6zM404.3 290.2h0.8v0.8h-0.8zM411.1 264.1h0.8v0.8h-0.8zM379.6 289.8h0.7v0.7h-0.7zM413.5 272.3h0.7v0.7h-0.7zM413.4 295.9h0.6v0.6h-0.6zM387.0 296.4h0.7v0.7h-0.7zM404.0 272.0h0.6v0.6h-0.6zM372.6 305.0h0.9v0.9h-0.9zM370.2 268.7h0.9v0.9h-0.9zM408.4 275.0h1.0v1.0h-1.0zM396.9 272.9h0.9v0.9h-0.9zM389.0 267.8h0.8v0.8h-0.8zM403.5 272.7h0.9v0.9h-0.9zM402.0 278.9h0.7v0.7h-0.7zM394.5 307.0h0.6v0.6h-0.6zM381.2 284.4h0.5v0.5h-0.5zM416.7 261.4h1.0v1.0h-1.0z" fill="#f6eef0" opacity="0.8"/>
<rect x="419" y="261" width="49" height="49" fill="#e9e8f1" filter="url(#f55)"/><path d="M460.9 289.2h0.7v0.7h-0.7zM446.6 269.8h1.0v1.0h-1.0zM436.9 303.5h0.7v0.7h-0.7zM464.8 264.8h1.1v1.1h-1.1zM461.4 307.9h1.2v1.2h-1.2zM452.0 306.9h1.2v1.2h-1.2zM445.0 307.6h0.9v0.9h-0.9zM442.2 275.6h1.2v1.2h-1.2zM428.6 283.4h1.0v1.0h-1.0zM424.7 296.5h1.2v1.2h-1.2zM449.2 300.9h1.0v1.0h-1.0zM457.5 272.4h1.0v1.0h-1.0zM422.0 298.6h1.1v1.1h-1.1zM438.0 271.6h1.0v1.0h-1.0zM430.9 282.0h0.7v0.7h-0.7zM461.3 294.4h1.3v1.3h-1.3zM455.4 309.1h0.9v0.9h-0.9zM436.4 282.0h1.1v1.1h-1.1zM441.9 276.8h1.1v1.1h-1.1zM441.1 285.3h0.8v0.8h-0.8zM427.0 283.3h1.1v1.1h-1.1zM435.1 288.7h0.9v0.9h-0.9zM419.2 279.1h0.8v0.8h-0.8zM452.2 290.0h0.9v0.9h-0.9zM423.0 305.2h1.0v1.0h-1.0zM438.8 278.1h0.9v0.9h-0.9zM464.4 270.2h1.1v1.1h-1.1zM426.9 305.0h0.8v0.8h-0.8zM422.2 266.1h0.8v0.8h-0.8zM454.9 265.2h0.9v0.9h-0.9zM461.6 276.4h1.1v1.1h-1.1zM444.0 291.9h1.1v1.1h-1.1zM423.3 263.8h1.2v1.2h-1.2zM432.3 306.4h1.3v1.3h-1.3zM426.4 300.7h0.9v0.9h-0.9zM424.4 284.9h0.8v0.8h-0.8zM428.5 293.1h1.1v1.1h-1.1zM443.2 307.9h1.3v1.3h-1.3zM463.5 261.0h1.1v1.1h-1.1zM444.9 285.3h1.0v1.0h-1.0zM455.8 307.9h1.2v1.2h-1.2zM426.9 290.9h0.8v0.8h-0.8zM419.9 276.1h0.7v0.7h-0.7zM464.2 262.7h1.3v1.3h-1.3zM424.3 304.6h1.2v1.2h-1.2zM445.6 306.0h0.8v0.8h-0.8zM465.5 272.2h0.7v0.7h-0.7zM431.8 265.0h0.9v0.9h-0.9z" fill="#9a88b0" opacity="0.7"/><path d="M439.2 282.5a0.9 0.9 0 1 0 1.9 0a0.9 0.9 0 1 0 -1.9 0zM423.7 278.0a1.0 1.0 0 1 0 2.0 0a1.0 1.0 0 1 0 -2.0 0zM438.7 280.8a0.9 0.9 0 1 0 1.8 0a0.9 0.9 0 1 0 -1.8 0zM444.7 266.5a0.9 0.9 0 1 0 1.8 0a0.9 0.9 0 1 0 -1.8 0zM460.8 288.7a0.9 0.9 0 1 0 1.7 0a0.9 0.9 0 1 0 -1.7 0zM431.2 262.0a1.0 1.0 0 1 0 1.9 0a1.0 1.0 0 1 0 -1.9 0zM428.6 285.7a1.0 1.0 0 1 0 2.0 0a1.0 1.0 0 1 0 -2.0 0zM454.1 301.9a0.8 0.8 0 1 0 1.5 0a0.8 0.8 0 1 0 -1.5 0zM460.8 290.0a0.7 0.7 0 1 0 1.4 0a0.7 0.7 0 1 0 -1.4 0zM427.8 301.9a1.0 1.0 0 1 0 1.9 0a1.0 1.0 0 1 0 -1.9 0zM454.8 284.2a0.8 0.8 0 1 0 1.5 0a0.8 0.8 0 1 0 -1.5 0zM434.5 305.4a0.9 0.9 0 1 0 1.8 0a0.9 0.9 0 1 0 -1.8 0z" fill="#a86878" opacity="0.7" filter="url(#bs)"/>
<rect x="469" y="261" width="49" height="49" fill="#ede3e8" filter="url(#f56)"/><path d="M500.4 305.0h1.2v1.2h-1.2zM500.9 303.8h0.9v0.9h-0.9zM502.4 301.1h1.2v1.2h-1.2zM495.5 270.2h1.1v1.1h-1.1zM515.9 306.4h1.0v1.0h-1.0zM483.7 272.6h0.7v0.7h-0.7zM477.7 297.6h1.2v1.2h-1.2zM485.4 307.9h0.8v0.8h-0.8zM497.1 274.3h0.8v0.8h-0.8zM472.2 293.4h1.2v1.2h-1.2zM515.1 276.8h0.9v0.9h-0.9zM470.4 306.0h1.1v1.1h-1.1zM512.8 296.6h1.1v1.1h-1.1zM504.9 279.4h0.7v0.7h-0.7zM511.9 293.0h0.8v0.8h-0.8zM472.5 292.2h0.9v0.9h-0.9zM480.5 263.3h0.7v0.7h-0.7zM505.0 273.9h0.8v0.8h-0.8zM482.3 299.1h1.3v1.3h-1.3zM499.8 289.9h1.1v1.1h-1.1zM509.0 305.5h0.8v0.8h-0.8zM478.0 265.1h1.0v1.0h-1.0zM515.8 276.3h0.9v0.9h-0.9zM494.3 262.7h0.9v0.9h-0.9zM506.3 275.7h1.2v1.2h-1.2zM512.4 300.1h0.7v0.7h-0.7zM479.1 306.6h1.2v1.2h-1.2zM470.5 308.0h1.1v1.1h-1.1zM477.8 303.6h1.1v1.1h-1.1zM499.5 262.3h1.1v1.1h-1.1zM507.2 261.7h0.8v0.8h-0.8zM472.4 289.1h0.8v0.8h-0.8zM506.8 282.8h0.8v0.8h-0.8zM512.7 307.5h1.2v1.2h-1.2zM486.6 299.3h0.8v0.8h-0.8zM514.1 277.2h0.9v0.9h-0.9zM481.3 295.7h1.1v1.1h-1.1zM489.3 295.8h0.9v0.9h-0.9zM475.7 269.3h1.2v1.2h-1.2zM506.0 293.5h0.8v0.8h-0.8zM507.7 272.2h1.1v1.1h-1.1zM469.2 277.9h1.0v1.0h-1.0zM481.5 299.1h1.1v1.1h-1.1zM490.3 293.9h0.8v0.8h-0.8zM501.0 280.3h0.8v0.8h-0.8zM474.1 292.5h0.7v0.7h-0.7zM501.5 302.3h1.2v1.2h-1.2zM506.3 301.1h1.1v1.1h-1.1zM494.5 268.7h1.1v1.1h-1.1zM473.1 266.4h0.8v0.8h-0.8zM483.0 288.1h0.9v0.9h-0.9zM481.9 303.8h1.2v1.2h-1.2zM478.2 289.2h1.2v1.2h-1.2zM472.1 271.6h0.8v0.8h-0.8zM469.4 262.2h0.8v0.8h-0.8zM510.4 302.3h1.2v1.2h-1.2zM470.1 302.4h0.7v0.7h-0.7zM485.6 294.7h0.9v0.9h-0.9zM484.8 268.2h1.0v1.0h-1.0zM503.3 304.7h0.8v0.8h-0.8zM479.8 286.3h0.7v0.7h-0.7zM492.6 285.2h0.9v0.9h-0.9zM474.6 281.2h0.9v0.9h-0.9zM475.6 286.7h1.2v1.2h-1.2z" fill="#9a8fb8" opacity="0.7"/><path d="M494.8 277.4a1.1 1.1 0 1 0 2.3 0a1.1 1.1 0 1 0 -2.3 0zM504.7 308.1a1.2 1.2 0 1 0 2.4 0a1.2 1.2 0 1 0 -2.4 0zM491.0 282.4a1.0 1.0 0 1 0 2.0 0a1.0 1.0 0 1 0 -2.0 0zM497.2 287.0a1.2 1.2 0 1 0 2.3 0a1.2 1.2 0 1 0 -2.3 0z" fill="#b07080" opacity="0.8"/>
<rect x="169" y="311" width="49" height="48" fill="#eee4e9" filter="url(#f60)"/><path d="M193.2 332.6h0.8v0.8h-0.8zM214.1 344.8h1.0v1.0h-1.0zM187.7 325.2h1.1v1.1h-1.1zM214.8 319.2h0.9v0.9h-0.9zM174.9 335.5h1.1v1.1h-1.1zM215.9 347.9h0.8v0.8h-0.8zM208.7 338.2h0.7v0.7h-0.7zM208.4 325.2h1.0v1.0h-1.0zM214.2 320.4h0.7v0.7h-0.7zM179.9 345.5h1.1v1.1h-1.1zM215.1 319.0h0.8v0.8h-0.8zM169.0 350.1h0.8v0.8h-0.8zM169.7 326.5h0.8v0.8h-0.8zM202.9 357.0h1.2v1.2h-1.2zM176.3 352.3h1.0v1.0h-1.0zM176.8 350.9h0.9v0.9h-0.9zM181.1 322.6h1.1v1.1h-1.1zM184.7 340.3h0.7v0.7h-0.7zM173.6 311.7h0.9v0.9h-0.9zM175.5 319.5h1.2v1.2h-1.2zM183.2 320.7h0.9v0.9h-0.9zM203.2 323.8h1.3v1.3h-1.3zM181.2 339.5h0.9v0.9h-0.9zM210.6 333.1h0.9v0.9h-0.9zM212.9 354.7h0.8v0.8h-0.8zM211.2 336.6h1.3v1.3h-1.3zM170.4 350.3h1.3v1.3h-1.3zM195.9 316.1h1.1v1.1h-1.1zM217.0 354.3h0.8v0.8h-0.8zM177.0 353.1h1.0v1.0h-1.0zM190.2 311.1h1.0v1.0h-1.0zM169.2 311.4h1.1v1.1h-1.1zM170.5 346.7h1.0v1.0h-1.0zM173.5 352.7h0.9v0.9h-0.9zM199.5 353.7h0.7v0.7h-0.7zM203.2 317.3h1.0v1.0h-1.0zM196.6 354.9h1.1v1.1h-1.1zM188.2 322.5h0.8v0.8h-0.8zM170.7 351.4h1.1v1.1h-1.1zM184.5 357.1h1.0v1.0h-1.0zM180.9 346.9h0.8v0.8h-0.8zM175.8 322.7h1.2v1.2h-1.2zM188.9 337.0h0.9v0.9h-0.9zM214.3 349.5h1.2v1.2h-1.2zM174.7 331.8h0.9v0.9h-0.9zM190.0 354.8h1.1v1.1h-1.1zM191.9 338.9h1.3v1.3h-1.3zM201.5 328.0h1.3v1.3h-1.3zM182.5 332.2h1.2v1.2h-1.2zM181.1 347.7h1.1v1.1h-1.1zM176.8 341.6h1.1v1.1h-1.1zM193.8 334.1h0.7v0.7h-0.7zM209.5 348.2h1.2v1.2h-1.2zM182.0 332.2h1.2v1.2h-1.2zM173.1 317.6h1.2v1.2h-1.2zM196.2 315.5h1.0v1.0h-1.0z" fill="#9a8fb8" opacity="0.7"/>
<rect x="219" y="311" width="49" height="48" fill="#ece4ea" filter="url(#f61)"/><path d="M225.6 353.7h0.7v0.7h-0.7zM266.0 336.5h1.0v1.0h-1.0zM252.0 329.1h1.3v1.3h-1.3zM226.1 348.5h0.7v0.7h-0.7zM233.2 318.7h1.1v1.1h-1.1zM263.6 322.7h1.1v1.1h-1.1zM244.5 320.7h1.3v1.3h-1.3zM253.3 354.8h0.8v0.8h-0.8zM230.5 317.7h0.8v0.8h-0.8zM229.9 330.7h0.8v0.8h-0.8zM250.9 322.3h0.8v0.8h-0.8zM239.2 319.0h0.9v0.9h-0.9zM223.4 311.2h0.7v0.7h-0.7zM221.4 333.5h1.1v1.1h-1.1zM248.3 325.3h1.2v1.2h-1.2zM239.5 326.1h0.9v0.9h-0.9zM226.5 317.8h0.7v0.7h-0.7zM234.9 315.8h0.8v0.8h-0.8zM228.6 335.0h1.1v1.1h-1.1zM242.8 345.7h1.1v1.1h-1.1zM240.4 320.9h1.2v1.2h-1.2zM252.4 328.4h0.7v0.7h-0.7zM223.0 319.5h0.9v0.9h-0.9zM241.5 350.6h1.2v1.2h-1.2zM230.9 321.6h1.2v1.2h-1.2zM230.3 339.0h1.2v1.2h-1.2zM241.2 330.9h1.3v1.3h-1.3zM260.2 354.3h1.3v1.3h-1.3zM229.7 313.3h1.1v1.1h-1.1zM263.6 336.7h0.7v0.7h-0.7zM264.7 322.1h1.2v1.2h-1.2zM232.1 319.4h1.3v1.3h-1.3zM266.9 355.3h0.9v0.9h-0.9zM242.2 349.8h0.9v0.9h-0.9zM261.9 328.0h1.2v1.2h-1.2zM243.7 355.0h0.8v0.8h-0.8zM260.8 320.2h1.1v1.1h-1.1zM263.0 337.8h1.0v1.0h-1.0zM257.6 331.7h1.2v1.2h-1.2zM252.1 331.6h1.1v1.1h-1.1zM257.9 352.4h1.0v1.0h-1.0zM236.5 342.6h1.3v1.3h-1.3zM259.9 322.3h1.0v1.0h-1.0zM231.3 348.8h1.0v1.0h-1.0zM219.3 316.1h1.1v1.1h-1.1zM247.5 347.6h0.8v0.8h-0.8zM222.8 338.6h0.9v0.9h-0.9zM239.6 323.7h1.1v1.1h-1.1zM230.2 349.3h0.9v0.9h-0.9zM253.3 336.8h0.9v0.9h-0.9zM232.5 342.6h0.8v0.8h-0.8zM262.8 318.2h1.2v1.2h-1.2zM223.8 319.9h0.9v0.9h-0.9zM253.5 354.1h0.9v0.9h-0.9zM226.0 328.7h1.1v1.1h-1.1zM232.5 338.1h0.8v0.8h-0.8zM227.3 324.0h1.0v1.0h-1.0zM249.1 339.1h1.2v1.2h-1.2zM233.4 346.9h0.9v0.9h-0.9zM250.6 356.2h0.7v0.7h-0.7zM221.3 312.6h1.1v1.1h-1.1zM227.9 330.8h1.2v1.2h-1.2zM251.3 324.5h1.1v1.1h-1.1zM262.8 333.0h1.1v1.1h-1.1z" fill="#9a8fb8" opacity="0.7"/>
<rect x="269" y="311" width="49" height="48" fill="#ebe4ea" filter="url(#f62)"/><path d="M294.9 336.0h1.0v1.0h-1.0zM277.4 340.3h1.2v1.2h-1.2zM280.6 316.5h1.2v1.2h-1.2zM294.9 321.1h1.3v1.3h-1.3zM270.1 346.0h0.9v0.9h-0.9zM273.8 339.7h0.8v0.8h-0.8zM313.4 335.7h0.8v0.8h-0.8zM305.8 326.9h0.9v0.9h-0.9zM312.7 352.9h1.3v1.3h-1.3zM297.5 318.8h1.0v1.0h-1.0zM273.3 312.4h0.9v0.9h-0.9zM297.7 337.0h1.2v1.2h-1.2zM278.3 355.4h1.3v1.3h-1.3zM308.3 355.2h0.8v0.8h-0.8zM280.9 336.7h1.0v1.0h-1.0zM283.4 356.7h1.2v1.2h-1.2zM278.5 350.9h0.8v0.8h-0.8zM292.1 337.0h0.8v0.8h-0.8zM291.8 344.4h1.1v1.1h-1.1zM285.2 318.8h1.0v1.0h-1.0zM283.2 338.4h0.9v0.9h-0.9zM311.1 332.6h0.9v0.9h-0.9zM301.9 332.2h0.8v0.8h-0.8zM309.4 347.7h1.3v1.3h-1.3zM305.5 326.5h1.0v1.0h-1.0zM304.2 315.5h1.3v1.3h-1.3zM270.7 327.4h1.1v1.1h-1.1zM294.0 316.1h1.1v1.1h-1.1zM284.2 311.7h1.2v1.2h-1.2zM296.6 320.5h1.1v1.1h-1.1zM273.8 349.6h0.9v0.9h-0.9zM285.2 320.2h1.3v1.3h-1.3zM315.9 353.4h1.2v1.2h-1.2zM293.1 351.5h0.8v0.8h-0.8zM309.3 334.7h1.1v1.1h-1.1zM308.0 316.3h0.8v0.8h-0.8zM284.4 333.5h0.8v0.8h-0.8zM307.9 317.9h0.8v0.8h-0.8zM310.3 349.3h0.9v0.9h-0.9zM287.6 345.8h0.8v0.8h-0.8zM302.0 315.0h0.9v0.9h-0.9zM304.9 344.5h0.7v0.7h-0.7zM311.0 342.8h1.0v1.0h-1.0zM277.9 330.2h0.9v0.9h-0.9zM271.0 338.0h1.2v1.2h-1.2zM288.3 350.5h1.3v1.3h-1.3zM298.1 354.5h0.9v0.9h-0.9zM296.0 336.2h1.0v1.0h-1.0zM309.9 320.9h1.1v1.1h-1.1zM305.5 341.9h0.8v0.8h-0.8zM308.8 315.3h0.7v0.7h-0.7zM275.1 316.9h1.2v1.2h-1.2zM282.1 314.7h0.8v0.8h-0.8zM286.6 352.7h1.2v1.2h-1.2zM308.4 322.2h0.9v0.9h-0.9zM298.6 332.8h1.3v1.3h-1.3zM308.1 349.1h0.9v0.9h-0.9zM279.2 342.7h1.2v1.2h-1.2zM295.7 352.2h1.2v1.2h-1.2zM299.6 315.3h0.7v0.7h-0.7zM290.6 339.2h1.1v1.1h-1.1zM311.4 347.7h1.2v1.2h-1.2zM293.0 316.8h0.9v0.9h-0.9zM303.0 329.2h1.2v1.2h-1.2z" fill="#9a8fb8" opacity="0.7"/>
<rect x="319" y="311" width="49" height="48" fill="#eadbd7" filter="url(#f63)"/><path d="M333.9 355.7h1.1v1.1h-1.1zM327.0 342.6h0.7v0.7h-0.7zM359.4 322.5h1.3v1.3h-1.3zM340.8 337.7h1.3v1.3h-1.3zM348.6 352.3h1.1v1.1h-1.1zM334.1 352.7h1.2v1.2h-1.2zM351.9 318.4h0.9v0.9h-0.9zM333.4 357.7h1.1v1.1h-1.1zM337.6 356.1h1.1v1.1h-1.1zM355.0 341.6h0.8v0.8h-0.8zM341.2 316.5h0.7v0.7h-0.7zM323.8 340.7h1.3v1.3h-1.3zM325.0 354.9h1.0v1.0h-1.0zM348.6 323.4h1.0v1.0h-1.0zM334.7 312.6h0.8v0.8h-0.8zM342.9 329.4h0.8v0.8h-0.8zM325.8 320.7h1.2v1.2h-1.2zM352.0 325.8h1.0v1.0h-1.0zM325.0 328.2h0.8v0.8h-0.8zM357.3 322.3h0.9v0.9h-0.9zM354.8 320.8h0.9v0.9h-0.9zM365.9 354.2h0.7v0.7h-0.7zM332.6 332.7h0.9v0.9h-0.9zM356.9 352.8h0.8v0.8h-0.8zM338.1 350.4h1.1v1.1h-1.1zM327.8 342.2h1.3v1.3h-1.3zM366.5 348.6h0.8v0.8h-0.8zM354.6 324.8h0.9v0.9h-0.9zM343.8 314.6h0.7v0.7h-0.7zM360.0 338.1h1.0v1.0h-1.0zM329.2 337.3h0.9v0.9h-0.9zM362.4 319.1h1.0v1.0h-1.0zM340.5 328.7h1.0v1.0h-1.0zM337.5 336.6h0.8v0.8h-0.8zM334.4 335.9h0.8v0.8h-0.8zM342.0 327.2h1.3v1.3h-1.3zM344.0 327.3h0.7v0.7h-0.7zM341.9 340.1h0.8v0.8h-0.8zM354.4 340.8h0.9v0.9h-0.9zM321.4 335.8h0.7v0.7h-0.7zM345.7 321.8h1.1v1.1h-1.1zM353.5 329.7h0.9v0.9h-0.9zM330.0 340.5h1.0v1.0h-1.0zM319.1 346.5h1.0v1.0h-1.0zM366.2 355.1h1.2v1.2h-1.2zM341.3 323.5h1.1v1.1h-1.1zM339.1 326.1h1.1v1.1h-1.1zM348.2 344.6h0.8v0.8h-0.8z" fill="#9a8fb8" opacity="0.7"/><path d="M326.3 320.7h0.9v0.9h-0.9zM325.2 352.8h0.8v0.8h-0.8zM349.3 323.3h1.0v1.0h-1.0zM355.9 327.3h0.8v0.8h-0.8zM348.0 353.9h0.8v0.8h-0.8zM351.2 336.7h0.9v0.9h-0.9zM348.0 343.4h0.9v0.9h-0.9zM324.2 337.4h0.7v0.7h-0.7zM365.9 321.5h0.6v0.6h-0.6zM335.0 320.0h0.9v0.9h-0.9zM334.5 357.9h0.8v0.8h-0.8zM323.9 325.6h0.8v0.8h-0.8zM342.9 336.0h0.6v0.6h-0.6zM351.5 332.1h0.7v0.7h-0.7zM351.7 323.2h0.9v0.9h-0.9zM320.4 322.1h0.9v0.9h-0.9zM365.1 336.4h0.5v0.5h-0.5zM366.6 315.3h0.9v0.9h-0.9zM320.0 344.0h1.0v1.0h-1.0zM337.5 352.9h0.9v0.9h-0.9zM342.9 324.2h0.9v0.9h-0.9zM322.7 336.7h0.6v0.6h-0.6zM328.1 336.1h0.8v0.8h-0.8zM333.6 342.8h0.5v0.5h-0.5zM344.3 317.3h0.6v0.6h-0.6zM329.2 354.8h0.9v0.9h-0.9zM365.3 324.3h1.0v1.0h-1.0zM322.4 356.8h0.8v0.8h-0.8zM320.8 317.5h0.8v0.8h-0.8zM335.8 355.5h0.6v0.6h-0.6z" fill="#dcc4b8" opacity="0.8"/>
<rect x="369" y="311" width="49" height="48" fill="#e7d8d6" filter="url(#f64)"/><path d="M369.4 318.7h1.0v1.0h-1.0zM408.6 335.3h1.1v1.1h-1.1zM408.5 349.0h0.7v0.7h-0.7zM416.4 330.6h1.1v1.1h-1.1zM404.8 321.8h0.9v0.9h-0.9zM398.9 346.1h1.2v1.2h-1.2zM402.6 323.5h1.1v1.1h-1.1zM403.3 311.7h1.0v1.0h-1.0zM372.5 316.2h1.2v1.2h-1.2zM375.6 344.5h1.0v1.0h-1.0zM394.8 346.9h1.0v1.0h-1.0zM416.5 335.5h1.2v1.2h-1.2zM405.8 357.1h0.7v0.7h-0.7zM397.7 315.4h1.0v1.0h-1.0zM412.5 330.9h1.2v1.2h-1.2zM406.0 311.9h1.0v1.0h-1.0zM406.4 320.0h1.2v1.2h-1.2zM397.2 342.1h0.8v0.8h-0.8zM383.4 339.2h0.9v0.9h-0.9zM393.2 321.5h0.9v0.9h-0.9zM404.3 326.5h1.2v1.2h-1.2zM376.4 354.1h1.2v1.2h-1.2zM409.2 331.1h0.9v0.9h-0.9zM390.5 348.9h1.2v1.2h-1.2zM372.7 351.4h1.0v1.0h-1.0zM406.6 316.7h1.0v1.0h-1.0zM377.6 346.2h1.1v1.1h-1.1zM413.6 355.9h1.1v1.1h-1.1zM375.2 313.4h1.2v1.2h-1.2zM412.5 324.1h1.1v1.1h-1.1zM379.4 352.4h1.3v1.3h-1.3zM386.8 328.7h0.8v0.8h-0.8zM393.8 342.9h1.1v1.1h-1.1zM399.1 316.3h1.1v1.1h-1.1zM416.2 321.4h0.8v0.8h-0.8zM370.7 335.2h1.2v1.2h-1.2zM381.4 311.4h1.0v1.0h-1.0zM381.5 334.9h1.0v1.0h-1.0zM405.0 330.3h1.2v1.2h-1.2zM380.2 353.3h0.9v0.9h-0.9zM376.4 334.0h1.0v1.0h-1.0zM386.5 345.6h1.2v1.2h-1.2zM377.1 346.9h1.0v1.0h-1.0zM393.6 311.6h0.8v0.8h-0.8zM386.7 344.7h0.9v0.9h-0.9zM381.9 346.4h0.8v0.8h-0.8zM406.4 345.4h1.0v1.0h-1.0zM410.3 322.2h1.0v1.0h-1.0zM375.3 339.5h1.3v1.3h-1.3zM402.7 318.3h1.1v1.1h-1.1zM401.2 343.2h0.9v0.9h-0.9zM371.2 350.2h0.7v0.7h-0.7zM380.4 347.6h1.1v1.1h-1.1zM384.6 342.2h1.2v1.2h-1.2zM371.7 349.0h1.0v1.0h-1.0zM399.5 318.7h0.8v0.8h-0.8zM395.9 344.2h1.3v1.3h-1.3zM416.9 344.0h1.0v1.0h-1.0zM374.7 333.1h1.0v1.0h-1.0zM404.3 332.7h0.8v0.8h-0.8zM411.0 332.1h1.0v1.0h-1.0zM392.3 330.9h1.1v1.1h-1.1zM397.2 325.6h1.1v1.1h-1.1zM401.3 311.7h1.2v1.2h-1.2z" fill="#9a8fb8" opacity="0.7"/><path d="M379.2 315.4a2.0 2.0 0 1 0 4.0 0a2.0 2.0 0 1 0 -4.0 0zM392.0 351.3a2.8 2.8 0 1 0 5.6 0a2.8 2.8 0 1 0 -5.6 0zM409.8 325.0a2.5 2.5 0 1 0 4.9 0a2.5 2.5 0 1 0 -4.9 0zM374.2 331.3a2.0 2.0 0 1 0 4.0 0a2.0 2.0 0 1 0 -4.0 0zM412.6 317.4a1.9 1.9 0 1 0 3.7 0a1.9 1.9 0 1 0 -3.7 0z" fill="#b08050" opacity="0.55" filter="url(#bl)"/><path d="M379.7 342.7a0.9 0.9 0 1 0 1.8 0a0.9 0.9 0 1 0 -1.8 0zM400.1 326.3a0.9 0.9 0 1 0 1.9 0a0.9 0.9 0 1 0 -1.9 0zM414.8 337.0a0.9 0.9 0 1 0 1.9 0a0.9 0.9 0 1 0 -1.9 0zM413.8 315.3a0.8 0.8 0 1 0 1.6 0a0.8 0.8 0 1 0 -1.6 0zM379.2 354.0a0.9 0.9 0 1 0 1.8 0a0.9 0.9 0 1 0 -1.8 0zM385.6 356.5a0.7 0.7 0 1 0 1.5 0a0.7 0.7 0 1 0 -1.5 0zM393.9 352.7a0.8 0.8 0 1 0 1.6 0a0.8 0.8 0 1 0 -1.6 0zM371.7 355.3a0.9 0.9 0 1 0 1.7 0a0.9 0.9 0 1 0 -1.7 0z" fill="#8a6030" opacity="0.7" filter="url(#bs)"/>
<rect x="419" y="311" width="49" height="48" fill="#e4d0c5" filter="url(#f65)"/><path d="M459.9 357.5h1.0v1.0h-1.0zM460.1 325.3h1.1v1.1h-1.1zM429.7 334.6h0.7v0.7h-0.7zM454.1 353.9h1.2v1.2h-1.2zM433.3 313.6h1.2v1.2h-1.2zM434.8 351.9h1.0v1.0h-1.0zM444.7 347.2h1.2v1.2h-1.2zM443.9 331.7h1.1v1.1h-1.1zM457.1 337.7h1.3v1.3h-1.3zM426.1 346.9h1.3v1.3h-1.3zM434.4 317.0h1.0v1.0h-1.0zM460.7 319.3h1.0v1.0h-1.0zM466.1 320.1h1.2v1.2h-1.2zM442.3 326.8h1.0v1.0h-1.0zM431.9 355.5h0.8v0.8h-0.8zM464.5 334.3h1.2v1.2h-1.2zM422.0 331.1h1.0v1.0h-1.0zM466.6 314.0h1.0v1.0h-1.0zM421.2 356.6h1.1v1.1h-1.1zM452.4 340.9h0.8v0.8h-0.8zM441.2 331.0h0.8v0.8h-0.8zM438.1 314.0h0.8v0.8h-0.8zM465.5 336.4h1.1v1.1h-1.1zM443.7 317.8h0.9v0.9h-0.9zM452.1 315.9h1.1v1.1h-1.1zM424.9 344.0h0.9v0.9h-0.9zM461.0 314.1h0.7v0.7h-0.7zM428.2 335.8h1.2v1.2h-1.2zM463.9 352.0h1.1v1.1h-1.1zM453.5 331.3h0.8v0.8h-0.8zM441.3 355.3h0.8v0.8h-0.8zM452.7 336.6h0.7v0.7h-0.7zM441.7 322.7h1.2v1.2h-1.2zM424.2 343.2h1.2v1.2h-1.2zM421.6 318.9h0.9v0.9h-0.9zM426.5 354.0h1.2v1.2h-1.2zM463.7 313.5h0.8v0.8h-0.8zM444.6 339.0h1.1v1.1h-1.1zM429.8 357.4h1.3v1.3h-1.3zM457.8 322.8h1.0v1.0h-1.0zM453.4 333.0h1.3v1.3h-1.3zM461.3 337.4h0.8v0.8h-0.8zM461.2 346.0h1.3v1.3h-1.3zM427.0 349.9h1.1v1.1h-1.1zM423.7 314.2h1.1v1.1h-1.1zM429.6 347.1h0.8v0.8h-0.8zM452.2 328.3h1.2v1.2h-1.2zM426.2 321.6h1.3v1.3h-1.3zM431.5 345.6h1.0v1.0h-1.0zM454.5 326.1h1.2v1.2h-1.2zM434.1 336.8h1.0v1.0h-1.0zM426.3 350.7h1.0v1.0h-1.0zM456.2 315.3h1.2v1.2h-1.2zM455.1 349.1h0.8v0.8h-0.8zM463.7 331.0h1.1v1.1h-1.1zM441.8 325.2h0.8v0.8h-0.8zM456.6 326.2h0.9v0.9h-0.9zM447.4 312.0h1.1v1.1h-1.1zM460.6 341.4h1.0v1.0h-1.0zM449.5 357.5h1.2v1.2h-1.2zM439.5 320.3h0.7v0.7h-0.7zM433.1 342.1h1.2v1.2h-1.2zM419.8 339.8h1.1v1.1h-1.1zM431.2 341.4h0.9v0.9h-0.9zM429.2 344.4h1.1v1.1h-1.1zM421.7 352.9h0.7v0.7h-0.7zM464.2 357.5h1.3v1.3h-1.3zM446.2 335.8h1.1v1.1h-1.1zM464.3 356.4h1.0v1.0h-1.0zM428.7 336.3h1.0v1.0h-1.0zM457.9 354.4h1.0v1.0h-1.0zM422.9 336.1h1.1v1.1h-1.1z" fill="#9a8fb8" opacity="0.7"/><path d="M440.5 346.8a2.5 2.5 0 1 0 4.9 0a2.5 2.5 0 1 0 -4.9 0zM436.1 317.7a3.1 3.1 0 1 0 6.3 0a3.1 3.1 0 1 0 -6.3 0zM452.7 331.3a3.5 3.5 0 1 0 6.9 0a3.5 3.5 0 1 0 -6.9 0zM447.0 328.6a2.4 2.4 0 1 0 4.7 0a2.4 2.4 0 1 0 -4.7 0zM432.9 322.8a2.8 2.8 0 1 0 5.6 0a2.8 2.8 0 1 0 -5.6 0zM445.6 333.6a2.5 2.5 0 1 0 5.0 0a2.5 2.5 0 1 0 -5.0 0zM449.1 332.6a2.8 2.8 0 1 0 5.7 0a2.8 2.8 0 1 0 -5.7 0zM428.4 335.4a2.5 2.5 0 1 0 5.0 0a2.5 2.5 0 1 0 -5.0 0zM443.3 342.6a3.1 3.1 0 1 0 6.3 0a3.1 3.1 0 1 0 -6.3 0zM450.1 336.1a2.7 2.7 0 1 0 5.5 0a2.7 2.7 0 1 0 -5.5 0z" fill="#b88050" opacity="0.55" filter="url(#bl)"/><path d="M424.2 340.4a0.8 0.8 0 1 0 1.6 0a0.8 0.8 0 1 0 -1.6 0zM463.1 349.0a1.0 1.0 0 1 0 2.1 0a1.0 1.0 0 1 0 -2.1 0zM446.0 322.4a1.0 1.0 0 1 0 2.1 0a1.0 1.0 0 1 0 -2.1 0zM459.5 323.8a0.8 0.8 0 1 0 1.6 0a0.8 0.8 0 1 0 -1.6 0zM444.4 311.9a0.9 0.9 0 1 0 1.8 0a0.9 0.9 0 1 0 -1.8 0zM427.9 348.5a0.7 0.7 0 1 0 1.5 0a0.7 0.7 0 1 0 -1.5 0zM422.1 318.6a1.0 1.0 0 1 0 2.0 0a1.0 1.0 0 1 0 -2.0 0zM425.8 348.1a1.1 1.1 0 1 0 2.2 0a1.1 1.1 0 1 0 -2.2 0zM459.7 345.4a0.9 0.9 0 1 0 1.9 0a0.9 0.9 0 1 0 -1.9 0zM455.3 344.7a0.7 0.7 0 1 0 1.5 0a0.7 0.7 0 1 0 -1.5 0zM463.7 324.8a0.7 0.7 0 1 0 1.4 0a0.7 0.7 0 1 0 -1.4 0zM443.2 337.0a0.9 0.9 0 1 0 1.8 0a0.9 0.9 0 1 0 -1.8 0zM421.2 350.9a0.9 0.9 0 1 0 1.9 0a0.9 0.9 0 1 0 -1.9 0zM422.8 334.5a0.9 0.9 0 1 0 1.8 0a0.9 0.9 0 1 0 -1.8 0zM439.0 344.8a0.8 0.8 0 1 0 1.6 0a0.8 0.8 0 1 0 -1.6 0zM425.7 324.4a1.0 1.0 0 1 0 2.0 0a1.0 1.0 0 1 0 -2.0 0zM447.7 319.6a1.1 1.1 0 1 0 2.2 0a1.1 1.1 0 1 0 -2.2 0zM429.9 314.5a0.9 0.9 0 1 0 1.9 0a0.9 0.9 0 1 0 -1.9 0zM423.4 317.6a1.0 1.0 0 1 0 1.9 0a1.0 1.0 0 1 0 -1.9 0zM464.1 314.2a1.0 1.0 0 1 0 1.9 0a1.0 1.0 0 1 0 -1.9 0zM424.8 313.7a1.0 1.0 0 1 0 2.0 0a1.0 1.0 0 1 0 -2.0 0zM419.3 345.5a0.7 0.7 0 1 0 1.4 0a0.7 0.7 0 1 0 -1.4 0zM419.0 318.0a1.1 1.1 0 1 0 2.1 0a1.1 1.1 0 1 0 -2.1 0zM437.9 326.2a0.7 0.7 0 1 0 1.4 0a0.7 0.7 0 1 0 -1.4 0zM457.4 315.9a0.8 0.8 0 1 0 1.6 0a0.8 0.8 0 1 0 -1.6 0zM424.9 341.5a1.0 1.0 0 1 0 1.9 0a1.0 1.0 0 1 0 -1.9 0zM427.7 357.6a0.8 0.8 0 1 0 1.5 0a0.8 0.8 0 1 0 -1.5 0zM439.8 342.0a0.8 0.8 0 1 0 1.6 0a0.8 0.8 0 1 0 -1.6 0zM443.9 316.4a1.1 1.1 0 1 0 2.2 0a1.1 1.1 0 1 0 -2.2 0zM450.6 338.3a1.0 1.0 0 1 0 1.9 0a1.0 1.0 0 1 0 -1.9 0z" fill="#a06838" opacity="0.65" filter="url(#bs)"/><path d="M457.3 314.0a0.9 0.9 0 1 0 1.8 0a0.9 0.9 0 1 0 -1.8 0zM444.0 353.9a0.9 0.9 0 1 0 1.9 0a0.9 0.9 0 1 0 -1.9 0zM429.4 328.9a1.0 1.0 0 1 0 2.0 0a1.0 1.0 0 1 0 -2.0 0z" fill="#402818" opacity="0.85"/>
<rect x="469" y="311" width="49" height="48" fill="#e5cfc8" filter="url(#f66)"/><path d="M477.0 343.8h1.0v1.0h-1.0zM491.8 357.2h1.0v1.0h-1.0zM501.7 313.8h1.1v1.1h-1.1zM472.4 324.3h0.8v0.8h-0.8zM503.8 316.0h1.2v1.2h-1.2zM506.1 335.2h0.7v0.7h-0.7zM493.2 320.3h0.8v0.8h-0.8zM512.9 353.9h1.0v1.0h-1.0zM497.1 331.1h0.8v0.8h-0.8zM488.5 350.3h0.8v0.8h-0.8zM513.7 352.8h1.3v1.3h-1.3zM502.9 352.2h0.7v0.7h-0.7zM493.2 328.4h1.0v1.0h-1.0zM479.3 354.3h1.2v1.2h-1.2zM492.9 341.1h0.8v0.8h-0.8zM513.5 319.7h1.0v1.0h-1.0zM514.4 356.9h1.1v1.1h-1.1zM484.2 316.0h1.1v1.1h-1.1zM478.9 350.3h1.0v1.0h-1.0zM471.1 342.1h1.2v1.2h-1.2zM489.0 341.2h1.1v1.1h-1.1zM479.4 340.2h0.9v0.9h-0.9zM485.1 353.5h1.1v1.1h-1.1zM476.9 345.7h0.7v0.7h-0.7zM487.4 331.4h0.9v0.9h-0.9zM511.8 322.7h1.0v1.0h-1.0zM503.4 323.5h1.0v1.0h-1.0zM508.1 318.8h0.8v0.8h-0.8zM510.9 354.1h1.1v1.1h-1.1zM488.2 327.9h1.0v1.0h-1.0zM475.3 322.0h1.2v1.2h-1.2zM509.8 332.1h1.0v1.0h-1.0zM501.6 354.3h0.9v0.9h-0.9zM472.3 350.4h0.8v0.8h-0.8zM489.6 328.1h1.0v1.0h-1.0zM470.0 350.8h0.7v0.7h-0.7zM513.9 313.3h1.0v1.0h-1.0zM481.9 336.2h1.0v1.0h-1.0zM516.2 335.1h1.1v1.1h-1.1zM506.9 322.2h1.0v1.0h-1.0zM481.8 334.0h1.1v1.1h-1.1zM491.5 321.0h1.2v1.2h-1.2zM478.4 315.3h0.9v0.9h-0.9zM492.8 341.9h0.9v0.9h-0.9zM514.5 318.5h0.9v0.9h-0.9zM483.8 353.3h0.9v0.9h-0.9zM470.9 339.1h1.3v1.3h-1.3zM512.2 323.6h1.3v1.3h-1.3zM503.5 352.5h1.1v1.1h-1.1zM493.8 353.5h1.1v1.1h-1.1zM470.2 322.9h1.2v1.2h-1.2zM509.1 356.4h1.1v1.1h-1.1zM486.6 319.9h0.7v0.7h-0.7zM478.6 332.2h1.2v1.2h-1.2zM476.5 315.8h1.2v1.2h-1.2zM477.0 334.9h1.0v1.0h-1.0zM513.8 338.4h0.8v0.8h-0.8zM497.7 316.5h1.2v1.2h-1.2zM470.7 311.1h1.0v1.0h-1.0zM480.0 357.6h0.8v0.8h-0.8zM477.8 347.5h1.0v1.0h-1.0zM484.5 312.3h0.8v0.8h-0.8zM483.4 357.2h1.2v1.2h-1.2zM512.0 319.9h1.2v1.2h-1.2zM507.2 343.3h0.9v0.9h-0.9zM488.3 321.5h0.9v0.9h-0.9zM481.3 344.6h1.1v1.1h-1.1zM473.1 345.5h1.2v1.2h-1.2zM512.7 330.8h1.1v1.1h-1.1zM503.4 337.0h1.1v1.1h-1.1zM475.6 357.1h0.9v0.9h-0.9zM515.0 346.4h1.1v1.1h-1.1zM505.6 346.7h0.7v0.7h-0.7zM499.9 333.6h1.2v1.2h-1.2zM514.9 352.5h0.9v0.9h-0.9zM512.5 311.6h0.7v0.7h-0.7zM478.2 337.2h0.7v0.7h-0.7zM487.0 341.4h0.9v0.9h-0.9zM488.4 351.8h1.1v1.1h-1.1zM478.3 348.0h1.0v1.0h-1.0z" fill="#9a8fb8" opacity="0.7"/><path d="M507.3 335.4a2.9 2.9 0 1 0 5.7 0a2.9 2.9 0 1 0 -5.7 0zM469.0 329.6a2.5 2.5 0 1 0 5.1 0a2.5 2.5 0 1 0 -5.1 0zM510.2 329.2a2.7 2.7 0 1 0 5.4 0a2.7 2.7 0 1 0 -5.4 0zM504.4 329.7a3.1 3.1 0 1 0 6.1 0a3.1 3.1 0 1 0 -6.1 0zM504.9 333.9a2.9 2.9 0 1 0 5.8 0a2.9 2.9 0 1 0 -5.8 0zM485.3 334.9a3.4 3.4 0 1 0 6.8 0a3.4 3.4 0 1 0 -6.8 0zM498.4 350.7a2.6 2.6 0 1 0 5.1 0a2.6 2.6 0 1 0 -5.1 0zM481.6 314.2a3.2 3.2 0 1 0 6.4 0a3.2 3.2 0 1 0 -6.4 0zM489.6 350.0a3.3 3.3 0 1 0 6.5 0a3.3 3.3 0 1 0 -6.5 0zM502.7 318.2a2.6 2.6 0 1 0 5.1 0a2.6 2.6 0 1 0 -5.1 0zM494.1 345.7a3.4 3.4 0 1 0 6.9 0a3.4 3.4 0 1 0 -6.9 0zM476.1 327.6a3.0 3.0 0 1 0 6.0 0a3.0 3.0 0 1 0 -6.0 0z" fill="#b88050" opacity="0.55" filter="url(#bl)"/><path d="M515.2 329.5a0.8 0.8 0 1 0 1.6 0a0.8 0.8 0 1 0 -1.6 0zM483.3 325.9a1.0 1.0 0 1 0 2.1 0a1.0 1.0 0 1 0 -2.1 0zM499.1 340.1a1.0 1.0 0 1 0 2.1 0a1.0 1.0 0 1 0 -2.1 0zM510.4 333.1a1.1 1.1 0 1 0 2.2 0a1.1 1.1 0 1 0 -2.2 0zM477.3 330.9a0.8 0.8 0 1 0 1.7 0a0.8 0.8 0 1 0 -1.7 0zM471.5 348.6a1.1 1.1 0 1 0 2.2 0a1.1 1.1 0 1 0 -2.2 0zM486.9 354.9a1.1 1.1 0 1 0 2.1 0a1.1 1.1 0 1 0 -2.1 0zM490.1 319.1a0.7 0.7 0 1 0 1.4 0a0.7 0.7 0 1 0 -1.4 0zM504.4 354.9a1.1 1.1 0 1 0 2.1 0a1.1 1.1 0 1 0 -2.1 0zM498.4 311.9a0.9 0.9 0 1 0 1.7 0a0.9 0.9 0 1 0 -1.7 0zM496.4 344.2a1.0 1.0 0 1 0 1.9 0a1.0 1.0 0 1 0 -1.9 0zM491.5 317.7a0.8 0.8 0 1 0 1.7 0a0.8 0.8 0 1 0 -1.7 0zM477.1 341.5a0.7 0.7 0 1 0 1.5 0a0.7 0.7 0 1 0 -1.5 0zM509.9 324.7a0.9 0.9 0 1 0 1.8 0a0.9 0.9 0 1 0 -1.8 0zM514.8 341.2a0.8 0.8 0 1 0 1.7 0a0.8 0.8 0 1 0 -1.7 0zM490.1 344.2a1.0 1.0 0 1 0 2.0 0a1.0 1.0 0 1 0 -2.0 0zM479.5 329.9a0.7 0.7 0 1 0 1.4 0a0.7 0.7 0 1 0 -1.4 0zM497.6 351.1a1.0 1.0 0 1 0 2.0 0a1.0 1.0 0 1 0 -2.0 0zM471.2 318.7a0.9 0.9 0 1 0 1.8 0a0.9 0.9 0 1 0 -1.8 0zM475.7 326.0a1.0 1.0 0 1 0 2.0 0a1.0 1.0 0 1 0 -2.0 0zM514.0 345.9a0.7 0.7 0 1 0 1.4 0a0.7 0.7 0 1 0 -1.4 0zM515.0 312.5a0.9 0.9 0 1 0 1.9 0a0.9 0.9 0 1 0 -1.9 0zM479.5 313.7a0.9 0.9 0 1 0 1.7 0a0.9 0.9 0 1 0 -1.7 0zM499.6 335.1a0.9 0.9 0 1 0 1.7 0a0.9 0.9 0 1 0 -1.7 0zM501.2 355.8a1.1 1.1 0 1 0 2.1 0a1.1 1.1 0 1 0 -2.1 0zM498.7 312.5a0.7 0.7 0 1 0 1.5 0a0.7 0.7 0 1 0 -1.5 0zM493.8 321.1a0.8 0.8 0 1 0 1.7 0a0.8 0.8 0 1 0 -1.7 0zM474.0 348.6a0.7 0.7 0 1 0 1.4 0a0.7 0.7 0 1 0 -1.4 0zM490.7 349.2a0.9 0.9 0 1 0 1.8 0a0.9 0.9 0 1 0 -1.8 0zM487.9 326.2a0.8 0.8 0 1 0 1.5 0a0.8 0.8 0 1 0 -1.5 0zM472.4 339.7a1.0 1.0 0 1 0 2.0 0a1.0 1.0 0 1 0 -2.0 0zM504.1 346.8a1.1 1.1 0 1 0 2.1 0a1.1 1.1 0 1 0 -2.1 0zM496.5 339.3a1.1 1.1 0 1 0 2.2 0a1.1 1.1 0 1 0 -2.2 0zM473.7 348.1a0.8 0.8 0 1 0 1.6 0a0.8 0.8 0 1 0 -1.6 0z" fill="#a06838" opacity="0.65" filter="url(#bs)"/><path d="M500.4 343.7a1.0 1.0 0 1 0 1.9 0a1.0 1.0 0 1 0 -1.9 0zM507.4 335.6a1.0 1.0 0 1 0 1.9 0a1.0 1.0 0 1 0 -1.9 0z" fill="#402818" opacity="0.85"/>
<rect x="169" y="361" width="49" height="49" fill="#e6e8e8" filter="url(#f70)"/><path d="M178.5 392.0h0.8v0.8h-0.8zM211.4 361.9h1.0v1.0h-1.0zM208.9 397.3h1.0v1.0h-1.0zM193.8 380.1h0.9v0.9h-0.9zM172.9 372.0h0.7v0.7h-0.7zM178.2 374.6h1.2v1.2h-1.2zM202.4 392.1h1.0v1.0h-1.0zM185.4 361.6h0.9v0.9h-0.9zM187.0 375.0h1.2v1.2h-1.2zM192.8 368.2h0.8v0.8h-0.8zM174.1 370.2h0.9v0.9h-0.9zM184.7 366.1h1.0v1.0h-1.0zM171.8 380.7h1.2v1.2h-1.2zM171.8 375.2h0.9v0.9h-0.9zM202.1 373.4h1.0v1.0h-1.0zM212.3 391.5h0.9v0.9h-0.9zM179.2 398.7h1.0v1.0h-1.0zM180.4 401.6h1.3v1.3h-1.3zM192.0 362.2h0.9v0.9h-0.9zM180.6 370.8h0.8v0.8h-0.8zM214.5 376.2h1.2v1.2h-1.2zM183.4 388.8h1.2v1.2h-1.2zM212.8 385.8h0.8v0.8h-0.8zM207.1 386.1h1.1v1.1h-1.1zM203.2 383.8h1.0v1.0h-1.0zM183.3 368.3h1.0v1.0h-1.0zM215.8 389.4h0.8v0.8h-0.8zM178.1 389.2h0.7v0.7h-0.7zM216.5 404.4h1.0v1.0h-1.0zM207.9 408.4h0.7v0.7h-0.7zM214.6 379.2h1.1v1.1h-1.1zM201.8 399.2h1.1v1.1h-1.1zM208.3 377.1h1.1v1.1h-1.1zM197.5 407.0h1.2v1.2h-1.2zM198.8 402.4h0.9v0.9h-0.9zM202.4 368.0h1.2v1.2h-1.2zM184.3 392.4h0.8v0.8h-0.8zM200.8 366.8h0.7v0.7h-0.7zM182.4 387.4h0.8v0.8h-0.8zM214.3 371.9h1.1v1.1h-1.1zM210.4 389.5h0.8v0.8h-0.8zM203.2 367.2h1.3v1.3h-1.3zM179.5 382.6h0.9v0.9h-0.9zM210.5 404.1h0.9v0.9h-0.9zM217.2 407.4h0.8v0.8h-0.8zM211.0 406.5h0.9v0.9h-0.9zM186.4 391.1h1.1v1.1h-1.1zM185.2 383.7h1.2v1.2h-1.2z" fill="#9a9ab0" opacity="0.7"/>
<rect x="219" y="361" width="49" height="49" fill="#e5e5e7" filter="url(#f71)"/><path d="M241.5 365.4h0.7v0.7h-0.7zM245.7 390.6h1.1v1.1h-1.1zM231.5 403.6h0.9v0.9h-0.9zM262.8 390.5h1.2v1.2h-1.2zM237.5 396.0h1.1v1.1h-1.1zM220.3 379.8h1.1v1.1h-1.1zM263.1 378.3h1.3v1.3h-1.3zM242.2 386.8h0.8v0.8h-0.8zM246.7 384.4h0.7v0.7h-0.7zM257.8 378.7h0.8v0.8h-0.8zM233.0 374.4h0.8v0.8h-0.8zM256.9 363.4h1.2v1.2h-1.2zM219.3 381.4h1.1v1.1h-1.1zM235.0 394.4h1.2v1.2h-1.2zM241.4 406.3h0.9v0.9h-0.9zM239.8 380.0h1.1v1.1h-1.1zM242.9 389.4h1.3v1.3h-1.3zM219.5 364.1h1.2v1.2h-1.2zM236.7 405.1h0.8v0.8h-0.8zM251.5 364.1h0.8v0.8h-0.8zM233.8 392.6h1.0v1.0h-1.0zM248.8 398.9h1.1v1.1h-1.1zM257.9 367.7h0.9v0.9h-0.9zM236.9 405.6h1.0v1.0h-1.0zM234.6 386.9h0.8v0.8h-0.8zM247.1 363.7h0.8v0.8h-0.8zM244.4 368.6h0.8v0.8h-0.8zM221.2 364.6h0.9v0.9h-0.9zM265.0 393.1h0.9v0.9h-0.9zM251.5 405.0h0.8v0.8h-0.8zM235.8 399.8h1.1v1.1h-1.1zM234.3 363.3h1.2v1.2h-1.2zM238.0 394.1h0.8v0.8h-0.8zM228.4 377.3h1.2v1.2h-1.2zM247.7 386.9h0.9v0.9h-0.9zM257.0 393.1h0.7v0.7h-0.7zM235.3 389.5h1.0v1.0h-1.0zM256.4 386.4h1.0v1.0h-1.0zM245.2 394.9h1.2v1.2h-1.2zM237.8 370.0h0.9v0.9h-0.9zM246.6 375.2h0.9v0.9h-0.9zM234.4 406.1h0.8v0.8h-0.8zM231.2 406.8h1.1v1.1h-1.1zM222.2 367.2h0.9v0.9h-0.9zM236.4 369.5h1.0v1.0h-1.0zM245.2 372.3h0.8v0.8h-0.8zM249.6 398.1h1.3v1.3h-1.3zM222.3 400.2h1.0v1.0h-1.0z" fill="#9a9ab0" opacity="0.7"/>
<rect x="269" y="361" width="49" height="49" fill="#e5e5e6" filter="url(#f72)"/><path d="M303.7 408.3h1.3v1.3h-1.3zM308.4 379.3h1.2v1.2h-1.2zM274.4 377.7h1.1v1.1h-1.1zM315.8 369.3h1.3v1.3h-1.3zM288.4 390.8h1.0v1.0h-1.0zM281.5 403.2h1.1v1.1h-1.1zM306.3 395.7h1.0v1.0h-1.0zM293.6 389.1h1.3v1.3h-1.3zM280.0 363.2h1.2v1.2h-1.2zM302.2 396.8h1.2v1.2h-1.2zM278.6 403.0h1.2v1.2h-1.2zM314.3 387.6h1.1v1.1h-1.1zM271.7 368.9h1.2v1.2h-1.2zM301.0 379.5h1.0v1.0h-1.0zM311.8 364.5h0.7v0.7h-0.7zM280.1 394.7h1.2v1.2h-1.2zM280.3 376.7h1.1v1.1h-1.1zM294.7 374.4h0.8v0.8h-0.8zM282.5 366.8h1.0v1.0h-1.0zM281.5 406.4h1.1v1.1h-1.1zM281.6 395.5h0.9v0.9h-0.9zM286.7 396.0h1.2v1.2h-1.2zM316.8 375.4h0.9v0.9h-0.9zM269.2 387.2h0.7v0.7h-0.7zM282.7 380.8h1.1v1.1h-1.1zM286.5 370.1h0.9v0.9h-0.9zM301.0 362.3h1.0v1.0h-1.0zM281.4 383.7h1.2v1.2h-1.2zM301.4 380.6h0.8v0.8h-0.8zM288.6 385.4h1.0v1.0h-1.0zM316.4 381.5h0.8v0.8h-0.8zM309.7 375.2h0.9v0.9h-0.9zM289.3 366.6h1.2v1.2h-1.2zM282.4 370.7h1.0v1.0h-1.0zM313.7 383.5h1.3v1.3h-1.3zM301.0 375.5h1.2v1.2h-1.2zM297.0 370.2h0.8v0.8h-0.8zM297.5 371.5h1.2v1.2h-1.2zM315.3 384.0h1.2v1.2h-1.2zM290.5 361.8h1.3v1.3h-1.3zM285.9 405.1h1.0v1.0h-1.0zM315.1 368.8h1.0v1.0h-1.0zM269.7 363.5h0.9v0.9h-0.9zM270.6 371.6h1.1v1.1h-1.1zM313.2 372.3h1.0v1.0h-1.0zM302.9 394.6h0.7v0.7h-0.7zM313.7 402.7h0.8v0.8h-0.8zM308.3 387.1h1.3v1.3h-1.3z" fill="#9a9ab0" opacity="0.7"/>
<rect x="319" y="361" width="49" height="49" fill="#e1e4e5" filter="url(#f73)"/><path d="M335.8 387.8h1.3v1.3h-1.3zM353.5 375.8h1.3v1.3h-1.3zM343.7 370.5h1.0v1.0h-1.0zM324.8 367.7h1.2v1.2h-1.2zM320.7 371.9h0.9v0.9h-0.9zM342.8 401.9h0.8v0.8h-0.8zM361.7 390.6h1.3v1.3h-1.3zM331.2 405.5h1.2v1.2h-1.2zM352.8 370.1h0.7v0.7h-0.7zM363.3 367.9h1.2v1.2h-1.2zM324.8 366.5h1.2v1.2h-1.2zM362.2 400.3h0.9v0.9h-0.9zM352.9 379.9h0.9v0.9h-0.9zM359.4 404.3h1.0v1.0h-1.0zM352.7 379.3h0.8v0.8h-0.8zM325.7 383.1h1.2v1.2h-1.2zM362.9 406.1h1.1v1.1h-1.1zM353.0 395.1h1.0v1.0h-1.0zM324.8 403.1h1.1v1.1h-1.1zM350.7 371.9h0.8v0.8h-0.8zM339.4 403.7h0.7v0.7h-0.7zM332.5 382.1h1.2v1.2h-1.2zM344.9 378.9h0.8v0.8h-0.8zM338.0 387.3h1.2v1.2h-1.2zM328.9 387.9h1.2v1.2h-1.2zM341.8 382.5h1.2v1.2h-1.2zM322.9 395.8h1.0v1.0h-1.0zM366.5 403.6h1.0v1.0h-1.0zM335.7 368.0h0.8v0.8h-0.8zM333.7 388.7h1.3v1.3h-1.3zM320.8 402.3h0.8v0.8h-0.8zM347.7 370.7h1.2v1.2h-1.2zM364.6 388.9h1.2v1.2h-1.2zM321.9 380.6h1.2v1.2h-1.2zM359.8 381.0h1.3v1.3h-1.3zM340.8 379.1h0.9v0.9h-0.9zM350.1 366.7h1.1v1.1h-1.1zM354.1 386.6h1.2v1.2h-1.2zM364.9 362.2h1.2v1.2h-1.2zM349.2 386.3h0.9v0.9h-0.9zM346.8 362.7h1.2v1.2h-1.2zM322.4 394.6h1.2v1.2h-1.2zM364.7 372.0h0.8v0.8h-0.8zM322.5 363.4h1.3v1.3h-1.3zM338.3 399.4h1.0v1.0h-1.0zM351.8 383.4h1.2v1.2h-1.2zM340.4 361.6h1.1v1.1h-1.1zM346.5 377.7h0.9v0.9h-0.9zM324.7 364.2h0.9v0.9h-0.9zM359.8 378.2h0.8v0.8h-0.8zM347.4 371.2h1.2v1.2h-1.2zM352.6 374.8h0.9v0.9h-0.9zM322.8 380.4h1.0v1.0h-1.0zM361.5 403.1h1.0v1.0h-1.0zM350.8 393.7h0.8v0.8h-0.8zM336.6 369.5h0.7v0.7h-0.7z" fill="#9a9ab0" opacity="0.7"/>
<rect x="369" y="361" width="49" height="49" fill="#e8e5e1" filter="url(#f74)"/><path d="M392.5 400.5h0.9v0.9h-0.9zM406.6 365.2h0.8v0.8h-0.8zM391.3 395.4h0.9v0.9h-0.9zM409.8 394.2h1.0v1.0h-1.0zM394.0 379.7h0.9v0.9h-0.9zM383.5 369.6h1.2v1.2h-1.2zM381.1 400.0h0.8v0.8h-0.8zM380.7 381.1h1.1v1.1h-1.1zM414.9 371.6h1.2v1.2h-1.2zM371.8 408.7h1.3v1.3h-1.3zM414.9 362.5h0.9v0.9h-0.9zM413.3 400.3h1.1v1.1h-1.1zM376.5 372.4h1.0v1.0h-1.0zM410.4 371.6h1.3v1.3h-1.3zM398.5 375.6h0.9v0.9h-0.9zM410.9 366.4h0.8v0.8h-0.8zM388.4 383.5h1.1v1.1h-1.1zM404.6 398.0h1.2v1.2h-1.2zM408.1 399.3h0.7v0.7h-0.7zM379.9 396.3h0.7v0.7h-0.7zM394.8 403.5h1.2v1.2h-1.2zM381.5 400.6h0.8v0.8h-0.8zM379.7 388.2h1.2v1.2h-1.2zM404.5 380.1h1.0v1.0h-1.0zM405.7 394.5h0.9v0.9h-0.9zM403.3 373.6h0.9v0.9h-0.9zM378.0 377.5h1.0v1.0h-1.0zM373.2 376.0h1.0v1.0h-1.0zM384.7 385.4h0.9v0.9h-0.9zM409.6 375.1h1.2v1.2h-1.2zM373.2 403.7h0.8v0.8h-0.8zM404.3 404.4h1.2v1.2h-1.2zM377.2 365.4h0.9v0.9h-0.9zM405.9 365.1h0.9v0.9h-0.9zM372.9 371.3h1.0v1.0h-1.0zM400.2 406.2h1.0v1.0h-1.0zM380.2 364.0h0.9v0.9h-0.9zM370.7 361.1h0.8v0.8h-0.8zM394.9 383.0h0.8v0.8h-0.8zM392.2 365.2h1.2v1.2h-1.2z" fill="#a0a0b8" opacity="0.7"/><path d="M399.1 405.8a1.9 1.9 0 1 0 3.9 0a1.9 1.9 0 1 0 -3.9 0zM376.9 376.4a2.5 2.5 0 1 0 5.1 0a2.5 2.5 0 1 0 -5.1 0zM386.3 373.7a2.2 2.2 0 1 0 4.5 0a2.2 2.2 0 1 0 -4.5 0zM369.0 401.2a2.0 2.0 0 1 0 3.9 0a2.0 2.0 0 1 0 -3.9 0z" fill="#d0906a" opacity="0.55" filter="url(#bl)"/><path d="M414.6 379.1a1.0 1.0 0 1 0 2.0 0a1.0 1.0 0 1 0 -2.0 0zM378.0 366.4a0.9 0.9 0 1 0 1.8 0a0.9 0.9 0 1 0 -1.8 0zM384.4 399.5a0.7 0.7 0 1 0 1.4 0a0.7 0.7 0 1 0 -1.4 0zM379.3 384.1a0.9 0.9 0 1 0 1.7 0a0.9 0.9 0 1 0 -1.7 0zM377.5 382.4a0.9 0.9 0 1 0 1.7 0a0.9 0.9 0 1 0 -1.7 0zM389.4 408.2a1.0 1.0 0 1 0 2.0 0a1.0 1.0 0 1 0 -2.0 0zM374.2 404.9a0.9 0.9 0 1 0 1.8 0a0.9 0.9 0 1 0 -1.8 0zM389.3 370.0a0.9 0.9 0 1 0 1.8 0a0.9 0.9 0 1 0 -1.8 0zM377.2 383.1a0.9 0.9 0 1 0 1.8 0a0.9 0.9 0 1 0 -1.8 0zM388.2 407.5a0.7 0.7 0 1 0 1.5 0a0.7 0.7 0 1 0 -1.5 0z" fill="#c08060" opacity="0.6" filter="url(#bs)"/>
<rect x="419" y="361" width="49" height="49" fill="#e5d8d3" filter="url(#f75)"/><path d="M423.9 404.4h0.6v0.6h-0.6zM423.7 380.4h0.7v0.7h-0.7zM430.5 377.2h1.0v1.0h-1.0zM419.8 374.3h0.6v0.6h-0.6zM442.0 375.0h0.7v0.7h-0.7zM431.2 400.4h1.0v1.0h-1.0zM440.6 376.0h0.7v0.7h-0.7zM430.0 400.7h1.1v1.1h-1.1zM465.4 364.6h1.1v1.1h-1.1zM427.1 373.1h1.0v1.0h-1.0zM451.6 385.0h0.6v0.6h-0.6zM428.4 398.3h1.1v1.1h-1.1zM419.3 390.0h0.8v0.8h-0.8zM436.4 374.2h0.5v0.5h-0.5zM425.2 401.5h0.6v0.6h-0.6zM429.4 367.2h1.0v1.0h-1.0zM421.4 384.1h0.9v0.9h-0.9zM436.1 377.7h1.0v1.0h-1.0zM455.7 407.6h0.8v0.8h-0.8zM447.6 408.6h1.1v1.1h-1.1zM461.0 395.2h0.7v0.7h-0.7zM448.4 377.2h0.8v0.8h-0.8zM453.9 393.3h0.9v0.9h-0.9zM452.2 379.7h0.8v0.8h-0.8zM423.4 364.4h1.0v1.0h-1.0zM438.6 361.3h1.1v1.1h-1.1zM466.8 373.0h0.6v0.6h-0.6zM444.9 375.3h1.1v1.1h-1.1zM441.1 377.6h0.7v0.7h-0.7zM459.5 396.9h1.1v1.1h-1.1zM436.8 377.4h0.6v0.6h-0.6zM450.9 375.7h0.7v0.7h-0.7zM423.4 386.3h0.5v0.5h-0.5zM463.2 406.7h1.1v1.1h-1.1zM420.7 398.3h1.0v1.0h-1.0zM445.3 364.4h0.7v0.7h-0.7zM426.1 397.7h0.6v0.6h-0.6zM431.2 389.3h1.1v1.1h-1.1zM437.2 381.8h1.0v1.0h-1.0zM433.4 378.6h0.8v0.8h-0.8z" fill="#d2b8a8" opacity="0.8"/><path d="M421.9 389.0a2.6 2.6 0 1 0 5.3 0a2.6 2.6 0 1 0 -5.3 0zM451.1 397.6a2.5 2.5 0 1 0 5.0 0a2.5 2.5 0 1 0 -5.0 0zM420.2 386.9a2.8 2.8 0 1 0 5.6 0a2.8 2.8 0 1 0 -5.6 0zM435.8 382.3a2.1 2.1 0 1 0 4.1 0a2.1 2.1 0 1 0 -4.1 0zM432.0 399.6a2.4 2.4 0 1 0 4.9 0a2.4 2.4 0 1 0 -4.9 0zM449.9 395.8a2.6 2.6 0 1 0 5.3 0a2.6 2.6 0 1 0 -5.3 0zM420.6 394.0a2.5 2.5 0 1 0 5.1 0a2.5 2.5 0 1 0 -5.1 0zM457.1 363.6a2.6 2.6 0 1 0 5.2 0a2.6 2.6 0 1 0 -5.2 0zM447.3 377.6a2.1 2.1 0 1 0 4.2 0a2.1 2.1 0 1 0 -4.2 0z" fill="#c07850" opacity="0.55" filter="url(#bl)"/><path d="M430.9 380.6a0.9 0.9 0 1 0 1.8 0a0.9 0.9 0 1 0 -1.8 0zM423.0 399.0a0.8 0.8 0 1 0 1.7 0a0.8 0.8 0 1 0 -1.7 0zM439.5 375.3a0.9 0.9 0 1 0 1.8 0a0.9 0.9 0 1 0 -1.8 0zM462.9 366.3a1.1 1.1 0 1 0 2.1 0a1.1 1.1 0 1 0 -2.1 0zM424.6 379.9a0.9 0.9 0 1 0 1.8 0a0.9 0.9 0 1 0 -1.8 0zM465.8 379.5a0.9 0.9 0 1 0 1.7 0a0.9 0.9 0 1 0 -1.7 0zM437.5 405.8a0.9 0.9 0 1 0 1.7 0a0.9 0.9 0 1 0 -1.7 0zM419.0 390.2a0.9 0.9 0 1 0 1.8 0a0.9 0.9 0 1 0 -1.8 0zM419.0 400.7a0.9 0.9 0 1 0 1.9 0a0.9 0.9 0 1 0 -1.9 0zM440.9 397.1a1.0 1.0 0 1 0 2.1 0a1.0 1.0 0 1 0 -2.1 0zM448.8 385.5a1.0 1.0 0 1 0 2.1 0a1.0 1.0 0 1 0 -2.1 0zM463.5 362.9a1.1 1.1 0 1 0 2.1 0a1.1 1.1 0 1 0 -2.1 0zM424.0 387.3a0.9 0.9 0 1 0 1.7 0a0.9 0.9 0 1 0 -1.7 0zM419.5 362.1a1.0 1.0 0 1 0 2.1 0a1.0 1.0 0 1 0 -2.1 0zM456.7 387.7a0.8 0.8 0 1 0 1.6 0a0.8 0.8 0 1 0 -1.6 0zM455.5 381.5a0.9 0.9 0 1 0 1.8 0a0.9 0.9 0 1 0 -1.8 0zM433.0 386.3a0.9 0.9 0 1 0 1.8 0a0.9 0.9 0 1 0 -1.8 0zM463.0 399.8a0.7 0.7 0 1 0 1.4 0a0.7 0.7 0 1 0 -1.4 0zM449.6 386.3a1.1 1.1 0 1 0 2.2 0a1.1 1.1 0 1 0 -2.2 0zM432.1 386.5a0.9 0.9 0 1 0 1.7 0a0.9 0.9 0 1 0 -1.7 0z" fill="#b06848" opacity="0.65" filter="url(#bs)"/>
<rect x="469" y="361" width="49" height="49" fill="#e8d6c9" filter="url(#f76)"/><path d="M494.6 395.7h0.6v0.6h-0.6zM471.3 398.6h0.8v0.8h-0.8zM484.6 405.4h0.9v0.9h-0.9zM506.0 365.4h0.8v0.8h-0.8zM505.5 394.0h0.7v0.7h-0.7zM502.3 362.3h0.9v0.9h-0.9zM471.0 372.6h1.0v1.0h-1.0zM493.1 365.6h0.7v0.7h-0.7zM475.7 377.2h0.8v0.8h-0.8zM474.5 399.8h0.7v0.7h-0.7zM478.7 404.3h0.5v0.5h-0.5zM514.6 375.8h0.7v0.7h-0.7zM494.4 380.5h0.8v0.8h-0.8zM488.3 399.2h1.1v1.1h-1.1zM485.8 401.8h0.8v0.8h-0.8zM469.7 389.7h1.1v1.1h-1.1zM493.4 380.4h1.0v1.0h-1.0zM476.5 383.8h0.9v0.9h-0.9zM510.8 399.0h0.6v0.6h-0.6zM506.9 387.2h0.7v0.7h-0.7zM480.5 398.1h0.9v0.9h-0.9zM517.0 373.6h0.9v0.9h-0.9zM506.6 373.5h0.7v0.7h-0.7zM509.8 369.0h1.0v1.0h-1.0zM483.0 374.1h0.9v0.9h-0.9zM506.6 391.8h0.7v0.7h-0.7zM501.9 400.2h0.7v0.7h-0.7zM510.8 386.2h0.6v0.6h-0.6zM510.4 371.3h0.9v0.9h-0.9zM503.2 361.8h0.8v0.8h-0.8zM495.1 382.7h0.7v0.7h-0.7zM509.3 366.5h0.8v0.8h-0.8zM482.6 365.0h0.9v0.9h-0.9zM475.2 383.1h0.8v0.8h-0.8zM490.5 367.6h0.6v0.6h-0.6zM479.0 382.3h1.1v1.1h-1.1zM501.4 367.2h0.9v0.9h-0.9zM486.8 365.0h1.0v1.0h-1.0zM499.0 378.4h0.8v0.8h-0.8zM484.0 400.2h0.9v0.9h-0.9zM508.2 364.0h1.1v1.1h-1.1zM494.7 379.5h0.8v0.8h-0.8zM497.5 366.8h0.6v0.6h-0.6zM489.2 409.2h0.6v0.6h-0.6zM515.6 393.5h0.7v0.7h-0.7zM513.0 389.0h0.9v0.9h-0.9zM491.7 399.2h0.9v0.9h-0.9zM469.1 405.8h1.0v1.0h-1.0zM500.0 364.5h0.5v0.5h-0.5zM489.8 367.6h1.0v1.0h-1.0zM480.9 404.2h1.0v1.0h-1.0zM496.0 382.5h0.7v0.7h-0.7zM486.0 385.7h1.0v1.0h-1.0zM485.3 366.3h0.6v0.6h-0.6zM482.4 394.3h0.7v0.7h-0.7zM476.4 408.1h0.6v0.6h-0.6zM473.1 402.6h0.9v0.9h-0.9zM498.3 407.2h1.0v1.0h-1.0zM475.7 361.6h0.8v0.8h-0.8zM491.5 387.8h0.6v0.6h-0.6z" fill="#d2b4a0" opacity="0.8"/><path d="M469.2 364.1a2.9 2.9 0 1 0 5.8 0a2.9 2.9 0 1 0 -5.8 0zM483.3 403.4a2.1 2.1 0 1 0 4.3 0a2.1 2.1 0 1 0 -4.3 0zM469.0 387.0a2.8 2.8 0 1 0 5.7 0a2.8 2.8 0 1 0 -5.7 0zM476.9 375.5a2.2 2.2 0 1 0 4.5 0a2.2 2.2 0 1 0 -4.5 0zM480.0 371.1a2.3 2.3 0 1 0 4.6 0a2.3 2.3 0 1 0 -4.6 0zM493.1 386.2a2.4 2.4 0 1 0 4.8 0a2.4 2.4 0 1 0 -4.8 0zM478.5 363.8a2.8 2.8 0 1 0 5.6 0a2.8 2.8 0 1 0 -5.6 0zM480.3 370.3a2.6 2.6 0 1 0 5.2 0a2.6 2.6 0 1 0 -5.2 0zM508.8 387.8a2.5 2.5 0 1 0 4.9 0a2.5 2.5 0 1 0 -4.9 0zM469.0 385.0a2.8 2.8 0 1 0 5.5 0a2.8 2.8 0 1 0 -5.5 0zM504.4 394.5a2.7 2.7 0 1 0 5.5 0a2.7 2.7 0 1 0 -5.5 0z" fill="#c07850" opacity="0.55" filter="url(#bl)"/><path d="M515.8 361.8a0.7 0.7 0 1 0 1.4 0a0.7 0.7 0 1 0 -1.4 0zM490.4 405.2a1.0 1.0 0 1 0 2.0 0a1.0 1.0 0 1 0 -2.0 0zM503.4 364.9a1.1 1.1 0 1 0 2.2 0a1.1 1.1 0 1 0 -2.2 0zM473.7 381.2a1.0 1.0 0 1 0 1.9 0a1.0 1.0 0 1 0 -1.9 0zM482.7 363.5a0.8 0.8 0 1 0 1.5 0a0.8 0.8 0 1 0 -1.5 0zM472.5 372.6a0.9 0.9 0 1 0 1.8 0a0.9 0.9 0 1 0 -1.8 0zM481.9 388.6a1.0 1.0 0 1 0 2.0 0a1.0 1.0 0 1 0 -2.0 0zM498.2 399.9a1.0 1.0 0 1 0 2.1 0a1.0 1.0 0 1 0 -2.1 0zM479.6 369.8a1.1 1.1 0 1 0 2.1 0a1.1 1.1 0 1 0 -2.1 0zM511.4 376.3a1.1 1.1 0 1 0 2.2 0a1.1 1.1 0 1 0 -2.2 0zM472.0 371.8a1.1 1.1 0 1 0 2.1 0a1.1 1.1 0 1 0 -2.1 0zM472.9 401.9a1.0 1.0 0 1 0 2.1 0a1.0 1.0 0 1 0 -2.1 0zM505.2 367.1a0.8 0.8 0 1 0 1.6 0a0.8 0.8 0 1 0 -1.6 0zM495.6 387.7a0.9 0.9 0 1 0 1.8 0a0.9 0.9 0 1 0 -1.8 0zM469.6 394.7a1.0 1.0 0 1 0 2.1 0a1.0 1.0 0 1 0 -2.1 0zM492.8 372.2a1.0 1.0 0 1 0 2.1 0a1.0 1.0 0 1 0 -2.1 0zM488.4 373.4a1.0 1.0 0 1 0 2.0 0a1.0 1.0 0 1 0 -2.0 0zM504.3 400.2a1.0 1.0 0 1 0 2.0 0a1.0 1.0 0 1 0 -2.0 0zM469.0 362.1a0.9 0.9 0 1 0 1.8 0a0.9 0.9 0 1 0 -1.8 0zM469.8 390.7a0.9 0.9 0 1 0 1.8 0a0.9 0.9 0 1 0 -1.8 0zM505.6 362.0a0.8 0.8 0 1 0 1.5 0a0.8 0.8 0 1 0 -1.5 0zM478.6 408.6a1.0 1.0 0 1 0 2.0 0a1.0 1.0 0 1 0 -2.0 0zM492.8 401.6a0.9 0.9 0 1 0 1.8 0a0.9 0.9 0 1 0 -1.8 0zM514.8 375.1a0.8 0.8 0 1 0 1.6 0a0.8 0.8 0 1 0 -1.6 0z" fill="#b06848" opacity="0.65" filter="url(#bs)"/>
<circle cx="288.1" cy="84.0" r="1.3" fill="#3a3018" opacity="0.9"/>
<circle cx="341.3" cy="82.4" r="0.9" fill="#302820" opacity="0.9"/>
<circle cx="343.3" cy="139.3" r="1.4" fill="#303828" opacity="0.9"/>
<circle cx="343.3" cy="169.2" r="0.9" fill="#6a5020" opacity="0.9"/>
<circle cx="345.0" cy="232.8" r="1.3" fill="#6a4a18" opacity="0.9"/>
<circle cx="328.1" cy="336.3" r="1.1" fill="#8a5a30" opacity="0.9"/>
<circle cx="346.2" cy="352.9" r="1.1" fill="#4a2a10" opacity="0.9"/>
<text x="0" y="0" transform="translate(180.4,37.3) rotate(-90)" text-anchor="middle" font-size="7" fill="#222" stroke="#222" stroke-width="0.12">TAU-PLA</text>
<text x="0" y="0" transform="translate(180.4,87.0) rotate(-90)" text-anchor="middle" font-size="7" fill="#222" stroke="#222" stroke-width="0.12">AT180</text>
<text x="0" y="0" transform="translate(180.4,136.8) rotate(-90)" text-anchor="middle" font-size="7" fill="#222" stroke="#222" stroke-width="0.12">pT217</text>
<text x="0" y="0" transform="translate(180.4,186.5) rotate(-90)" text-anchor="middle" font-size="7" fill="#222" stroke="#222" stroke-width="0.12">AT8</text>
<text x="0" y="0" transform="translate(180.4,236.3) rotate(-90)" text-anchor="middle" font-size="7" fill="#222" stroke="#222" stroke-width="0.12">PHF1</text>
<text x="0" y="0" transform="translate(180.4,286.1) rotate(-90)" text-anchor="middle" font-size="7" fill="#222" stroke="#222" stroke-width="0.12">pS422</text>
<text x="0" y="0" transform="translate(180.4,335.8) rotate(-90)" text-anchor="middle" font-size="7" fill="#222" stroke="#222" stroke-width="0.12">MC1</text>
<text x="0" y="0" transform="translate(180.4,385.6) rotate(-90)" text-anchor="middle" font-size="7" fill="#222" stroke="#222" stroke-width="0.12">ALZ50</text>
<text x="193.2" y="8.9" text-anchor="middle" font-size="7.2" fill="#1a1a1a" stroke="#1a1a1a" stroke-width="0.2">Braak 0</text>
<text x="244.0" y="8.9" text-anchor="middle" font-size="7.2" fill="#1a1a1a" stroke="#1a1a1a" stroke-width="0.2">Braak I</text>
<text x="294.9" y="8.9" text-anchor="middle" font-size="7.2" fill="#1a1a1a" stroke="#1a1a1a" stroke-width="0.2">Braak II</text>
<text x="344.0" y="8.9" text-anchor="middle" font-size="7.2" fill="#1a1a1a" stroke="#1a1a1a" stroke-width="0.2">Braak III</text>
<text x="393.9" y="8.9" text-anchor="middle" font-size="7.2" fill="#1a1a1a" stroke="#1a1a1a" stroke-width="0.2">Braak IV</text>
<text x="443.1" y="8.9" text-anchor="middle" font-size="7.2" fill="#1a1a1a" stroke="#1a1a1a" stroke-width="0.2">Braak V</text>
<text x="494.4" y="8.9" text-anchor="middle" font-size="7.2" fill="#1a1a1a" stroke="#1a1a1a" stroke-width="0.2">Braak VI</text>
<text x="149" y="11.9" font-size="8.8" font-weight="bold" fill="#111" stroke="#111" stroke-width="0.3">A</text>
<text x="0" y="0" transform="translate(163.3,202.8) rotate(-90)" text-anchor="middle" font-size="7.4" font-weight="bold" textLength="80.6" lengthAdjust="spacingAndGlyphs" fill="#111">TEMPORAL CORTEX - TC</text>
<rect x="521.6" y="61.7" width="1" height="247.6" fill="#555"/>
<rect x="521.6" y="311.3" width="1" height="99" fill="#555"/>
<text x="0" y="0" transform="translate(532.6,160.3) rotate(-90)" text-anchor="middle" font-size="8.4" textLength="81" lengthAdjust="spacingAndGlyphs" fill="#222" stroke="#222" stroke-width="0.1">Phospho-tau antibodies</text>
<text x="0" y="0" transform="translate(532.6,360.5) rotate(-90)" text-anchor="middle" font-size="8.4" textLength="86" lengthAdjust="spacingAndGlyphs" fill="#222" stroke="#222" stroke-width="0.1">Misfolding tau antibodies</text>
<rect x="507.2" y="406.2" width="9.7" height="1.6" fill="#333"/>
<rect x="24.26" y="546.78" width="2.0" height="46.62" fill="#9f164b"/>
<rect x="24.66" y="537.90" width="1.2" height="8.88" fill="#777"/>
<rect x="24.46" y="537.90" width="1.6" height="0.8" fill="#555"/>
<rect x="27.53" y="563.87" width="2.0" height="29.53" fill="#134b5f"/>
<rect x="27.93" y="558.55" width="1.2" height="5.33" fill="#777"/>
<rect x="27.73" y="558.55" width="1.6" height="0.8" fill="#555"/>
<rect x="30.80" y="571.20" width="2.0" height="22.20" fill="#9e9ef2"/>
<rect x="34.07" y="571.20" width="2.0" height="22.20" fill="#0b7f10"/>
<rect x="37.34" y="571.20" width="2.0" height="22.20" fill="#000000"/>
<rect x="40.61" y="571.20" width="2.0" height="22.20" fill="#d4f6e6"/>
<rect x="43.88" y="567.87" width="2.0" height="25.53" fill="#d8d8d8"/>
<rect x="44.27" y="564.98" width="1.2" height="2.89" fill="#777"/>
<rect x="44.08" y="564.98" width="1.6" height="0.8" fill="#555"/>
<rect x="47.15" y="571.20" width="2.0" height="22.20" fill="#5c5c5c"/>
<rect x="52.52" y="507.93" width="2.0" height="85.47" fill="#9f164b"/>
<rect x="52.92" y="497.94" width="1.2" height="9.99" fill="#777"/>
<rect x="52.73" y="497.94" width="1.6" height="0.8" fill="#555"/>
<rect x="55.80" y="523.47" width="2.0" height="69.93" fill="#134b5f"/>
<rect x="56.20" y="515.70" width="1.2" height="7.77" fill="#777"/>
<rect x="56.00" y="515.70" width="1.6" height="0.8" fill="#555"/>
<rect x="59.06" y="543.45" width="2.0" height="49.95" fill="#9e9ef2"/>
<rect x="59.46" y="532.35" width="1.2" height="11.10" fill="#777"/>
<rect x="59.27" y="532.35" width="1.6" height="0.8" fill="#555"/>
<rect x="62.34" y="545.67" width="2.0" height="47.73" fill="#0b7f10"/>
<rect x="62.73" y="537.90" width="1.2" height="7.77" fill="#777"/>
<rect x="62.54" y="537.90" width="1.6" height="0.8" fill="#555"/>
<rect x="65.61" y="566.76" width="2.0" height="26.64" fill="#000000"/>
<rect x="66.01" y="562.32" width="1.2" height="4.44" fill="#777"/>
<rect x="65.81" y="562.32" width="1.6" height="0.8" fill="#555"/>
<rect x="68.88" y="527.91" width="2.0" height="65.49" fill="#d4f6e6"/>
<rect x="69.28" y="526.80" width="1.2" height="1.11" fill="#777"/>
<rect x="69.08" y="526.80" width="1.6" height="0.8" fill="#555"/>
<rect x="72.14" y="571.20" width="2.0" height="22.20" fill="#d8d8d8"/>
<rect x="75.41" y="560.10" width="2.0" height="33.30" fill="#5c5c5c"/>
<rect x="75.81" y="553.44" width="1.2" height="6.66" fill="#777"/>
<rect x="75.61" y="553.44" width="1.6" height="0.8" fill="#555"/>
<rect x="80.80" y="475.74" width="2.0" height="117.66" fill="#9f164b"/>
<rect x="81.20" y="470.63" width="1.2" height="5.11" fill="#777"/>
<rect x="81.00" y="470.63" width="1.6" height="0.8" fill="#555"/>
<rect x="84.07" y="484.62" width="2.0" height="108.78" fill="#134b5f"/>
<rect x="84.47" y="481.07" width="1.2" height="3.55" fill="#777"/>
<rect x="84.27" y="481.07" width="1.6" height="0.8" fill="#555"/>
<rect x="87.34" y="494.61" width="2.0" height="98.79" fill="#9e9ef2"/>
<rect x="87.74" y="488.17" width="1.2" height="6.44" fill="#777"/>
<rect x="87.54" y="488.17" width="1.6" height="0.8" fill="#555"/>
<rect x="90.61" y="504.60" width="2.0" height="88.80" fill="#0b7f10"/>
<rect x="91.01" y="501.05" width="1.2" height="3.55" fill="#777"/>
<rect x="90.81" y="501.05" width="1.6" height="0.8" fill="#555"/>
<rect x="93.88" y="521.25" width="2.0" height="72.15" fill="#000000"/>
<rect x="94.28" y="518.59" width="1.2" height="2.66" fill="#777"/>
<rect x="94.08" y="518.59" width="1.6" height="0.8" fill="#555"/>
<rect x="97.15" y="526.80" width="2.0" height="66.60" fill="#d4f6e6"/>
<rect x="97.55" y="524.58" width="1.2" height="2.22" fill="#777"/>
<rect x="97.35" y="524.58" width="1.6" height="0.8" fill="#555"/>
<rect x="100.42" y="504.60" width="2.0" height="88.80" fill="#d8d8d8"/>
<rect x="100.82" y="499.94" width="1.2" height="4.66" fill="#777"/>
<rect x="100.62" y="499.94" width="1.6" height="0.8" fill="#555"/>
<rect x="103.69" y="504.60" width="2.0" height="88.80" fill="#5c5c5c"/>
<rect x="104.09" y="497.72" width="1.2" height="6.88" fill="#777"/>
<rect x="103.89" y="497.72" width="1.6" height="0.8" fill="#555"/>
<rect x="109.06" y="474.63" width="2.0" height="118.77" fill="#9f164b"/>
<rect x="109.47" y="470.63" width="1.2" height="4.00" fill="#777"/>
<rect x="109.27" y="470.63" width="1.6" height="0.8" fill="#555"/>
<rect x="112.34" y="478.63" width="2.0" height="114.77" fill="#134b5f"/>
<rect x="112.74" y="475.07" width="1.2" height="3.55" fill="#777"/>
<rect x="112.54" y="475.07" width="1.6" height="0.8" fill="#555"/>
<rect x="115.61" y="494.17" width="2.0" height="99.23" fill="#9e9ef2"/>
<rect x="116.01" y="486.84" width="1.2" height="7.33" fill="#777"/>
<rect x="115.81" y="486.84" width="1.6" height="0.8" fill="#555"/>
<rect x="118.88" y="493.06" width="2.0" height="100.34" fill="#0b7f10"/>
<rect x="119.28" y="484.18" width="1.2" height="8.88" fill="#777"/>
<rect x="119.08" y="484.18" width="1.6" height="0.8" fill="#555"/>
<rect x="122.15" y="513.92" width="2.0" height="79.48" fill="#000000"/>
<rect x="122.55" y="508.15" width="1.2" height="5.77" fill="#777"/>
<rect x="122.35" y="508.15" width="1.6" height="0.8" fill="#555"/>
<rect x="125.42" y="514.59" width="2.0" height="78.81" fill="#d4f6e6"/>
<rect x="125.82" y="510.15" width="1.2" height="4.44" fill="#777"/>
<rect x="125.62" y="510.15" width="1.6" height="0.8" fill="#555"/>
<rect x="128.69" y="495.05" width="2.0" height="98.35" fill="#d8d8d8"/>
<rect x="129.09" y="489.50" width="1.2" height="5.55" fill="#777"/>
<rect x="128.88" y="489.50" width="1.6" height="0.8" fill="#555"/>
<rect x="131.96" y="499.05" width="2.0" height="94.35" fill="#5c5c5c"/>
<rect x="132.36" y="491.95" width="1.2" height="7.10" fill="#777"/>
<rect x="132.16" y="491.95" width="1.6" height="0.8" fill="#555"/>
<rect x="137.34" y="470.63" width="2.0" height="122.77" fill="#9f164b"/>
<rect x="137.74" y="465.31" width="1.2" height="5.33" fill="#777"/>
<rect x="137.53" y="465.31" width="1.6" height="0.8" fill="#555"/>
<rect x="140.60" y="475.07" width="2.0" height="118.33" fill="#134b5f"/>
<rect x="143.88" y="477.29" width="2.0" height="116.11" fill="#9e9ef2"/>
<rect x="147.15" y="482.40" width="2.0" height="111.00" fill="#0b7f10"/>
<rect x="150.41" y="500.83" width="2.0" height="92.57" fill="#000000"/>
<rect x="150.81" y="496.83" width="1.2" height="4.00" fill="#777"/>
<rect x="150.61" y="496.83" width="1.6" height="0.8" fill="#555"/>
<rect x="153.69" y="507.04" width="2.0" height="86.36" fill="#d4f6e6"/>
<rect x="154.09" y="504.60" width="1.2" height="2.44" fill="#777"/>
<rect x="153.88" y="504.60" width="1.6" height="0.8" fill="#555"/>
<rect x="156.96" y="485.73" width="2.0" height="107.67" fill="#d8d8d8"/>
<rect x="157.36" y="481.29" width="1.2" height="4.44" fill="#777"/>
<rect x="157.16" y="481.29" width="1.6" height="0.8" fill="#555"/>
<rect x="160.22" y="494.17" width="2.0" height="99.23" fill="#5c5c5c"/>
<rect x="160.62" y="489.50" width="1.2" height="4.66" fill="#777"/>
<rect x="160.42" y="489.50" width="1.6" height="0.8" fill="#555"/>
<rect x="165.61" y="470.63" width="2.0" height="122.77" fill="#9f164b"/>
<rect x="166.01" y="466.42" width="1.2" height="4.22" fill="#777"/>
<rect x="165.81" y="466.42" width="1.6" height="0.8" fill="#555"/>
<rect x="168.88" y="482.40" width="2.0" height="111.00" fill="#134b5f"/>
<rect x="172.15" y="482.40" width="2.0" height="111.00" fill="#9e9ef2"/>
<rect x="172.55" y="475.07" width="1.2" height="7.33" fill="#777"/>
<rect x="172.34" y="475.07" width="1.6" height="0.8" fill="#555"/>
<rect x="175.42" y="489.73" width="2.0" height="103.67" fill="#0b7f10"/>
<rect x="178.69" y="507.71" width="2.0" height="85.69" fill="#000000"/>
<rect x="179.09" y="504.60" width="1.2" height="3.11" fill="#777"/>
<rect x="178.88" y="504.60" width="1.6" height="0.8" fill="#555"/>
<rect x="181.96" y="504.60" width="2.0" height="88.80" fill="#d4f6e6"/>
<rect x="185.23" y="494.17" width="2.0" height="99.23" fill="#d8d8d8"/>
<rect x="185.63" y="482.40" width="1.2" height="11.77" fill="#777"/>
<rect x="185.43" y="482.40" width="1.6" height="0.8" fill="#555"/>
<rect x="188.50" y="494.17" width="2.0" height="99.23" fill="#5c5c5c"/>
<rect x="188.90" y="482.40" width="1.2" height="11.77" fill="#777"/>
<rect x="188.69" y="482.40" width="1.6" height="0.8" fill="#555"/>
<rect x="193.88" y="470.19" width="2.0" height="123.21" fill="#9f164b"/>
<rect x="194.28" y="464.20" width="1.2" height="5.99" fill="#777"/>
<rect x="194.07" y="464.20" width="1.6" height="0.8" fill="#555"/>
<rect x="197.14" y="468.19" width="2.0" height="125.21" fill="#134b5f"/>
<rect x="200.41" y="471.97" width="2.0" height="121.43" fill="#9e9ef2"/>
<rect x="200.81" y="467.75" width="1.2" height="4.22" fill="#777"/>
<rect x="200.61" y="467.75" width="1.6" height="0.8" fill="#555"/>
<rect x="203.69" y="475.52" width="2.0" height="117.88" fill="#0b7f10"/>
<rect x="204.09" y="467.75" width="1.2" height="7.77" fill="#777"/>
<rect x="203.88" y="467.75" width="1.6" height="0.8" fill="#555"/>
<rect x="206.95" y="504.60" width="2.0" height="88.80" fill="#000000"/>
<rect x="210.22" y="504.60" width="2.0" height="88.80" fill="#d4f6e6"/>
<rect x="213.50" y="479.74" width="2.0" height="113.66" fill="#d8d8d8"/>
<rect x="213.90" y="475.30" width="1.2" height="4.44" fill="#777"/>
<rect x="213.69" y="475.30" width="1.6" height="0.8" fill="#555"/>
<rect x="216.76" y="479.07" width="2.0" height="114.33" fill="#5c5c5c"/>
<rect x="217.16" y="475.30" width="1.2" height="3.77" fill="#777"/>
<rect x="216.96" y="475.30" width="1.6" height="0.8" fill="#555"/>
<rect x="21.90" y="459.70" width="1.2" height="134.20" fill="#111"/>
<rect x="21.90" y="592.80" width="199.00" height="1.2" fill="#222"/>
<rect x="18.50" y="592.90" width="4" height="1" fill="#222"/>
<text x="16.90" y="596.00" text-anchor="end" font-size="7.3" fill="#222" stroke="#222" stroke-width="0.12">0</text>
<rect x="18.50" y="570.70" width="4" height="1" fill="#222"/>
<text x="16.90" y="573.80" text-anchor="end" font-size="7.3" fill="#222" stroke="#222" stroke-width="0.12">1</text>
<rect x="18.50" y="548.50" width="4" height="1" fill="#222"/>
<text x="16.90" y="551.60" text-anchor="end" font-size="7.3" fill="#222" stroke="#222" stroke-width="0.12">2</text>
<rect x="18.50" y="526.30" width="4" height="1" fill="#222"/>
<text x="16.90" y="529.40" text-anchor="end" font-size="7.3" fill="#222" stroke="#222" stroke-width="0.12">3</text>
<rect x="18.50" y="504.10" width="4" height="1" fill="#222"/>
<text x="16.90" y="507.20" text-anchor="end" font-size="7.3" fill="#222" stroke="#222" stroke-width="0.12">4</text>
<rect x="18.50" y="481.90" width="4" height="1" fill="#222"/>
<text x="16.90" y="485.00" text-anchor="end" font-size="7.3" fill="#222" stroke="#222" stroke-width="0.12">5</text>
<rect x="18.50" y="459.70" width="4" height="1" fill="#222"/>
<text x="16.90" y="462.80" text-anchor="end" font-size="7.3" fill="#222" stroke="#222" stroke-width="0.12">6</text>
<rect x="36.20" y="593.40" width="1" height="2.6" fill="#222"/>
<text x="36.70" y="608.80" text-anchor="middle" font-size="7.8" fill="#333" stroke="#333" stroke-width="0.1">O</text>
<rect x="64.47" y="593.40" width="1" height="2.6" fill="#222"/>
<text x="64.97" y="608.80" text-anchor="middle" font-size="7.8" fill="#333" stroke="#333" stroke-width="0.1">I</text>
<rect x="92.74" y="593.40" width="1" height="2.6" fill="#222"/>
<text x="93.24" y="608.80" text-anchor="middle" font-size="7.8" fill="#333" stroke="#333" stroke-width="0.1">II</text>
<rect x="121.01" y="593.40" width="1" height="2.6" fill="#222"/>
<text x="121.51" y="608.80" text-anchor="middle" font-size="7.8" fill="#333" stroke="#333" stroke-width="0.1">III</text>
<rect x="149.28" y="593.40" width="1" height="2.6" fill="#222"/>
<text x="149.78" y="608.80" text-anchor="middle" font-size="7.8" fill="#333" stroke="#333" stroke-width="0.1">IV</text>
<rect x="177.55" y="593.40" width="1" height="2.6" fill="#222"/>
<text x="178.05" y="608.80" text-anchor="middle" font-size="7.8" fill="#333" stroke="#333" stroke-width="0.1">V</text>
<rect x="205.82" y="593.40" width="1" height="2.6" fill="#222"/>
<text x="206.32" y="608.80" text-anchor="middle" font-size="7.8" fill="#333" stroke="#333" stroke-width="0.1">VI</text>
<text x="0" y="0" transform="translate(121.8,448.6) scale(0.76,1)" text-anchor="middle" font-size="10.3" font-weight="bold" fill="#111" stroke="#111" stroke-width="0.25">EC</text>
<text x="0" y="0" transform="translate(8.3,519.8) rotate(-90)" text-anchor="middle" font-size="9" textLength="22.5" lengthAdjust="spacingAndGlyphs" fill="#111" stroke="#111" stroke-width="0.15">Score</text>
<text x="121.5" y="617.0" text-anchor="middle" font-size="9.2" textLength="47.5" lengthAdjust="spacingAndGlyphs" fill="#111" stroke="#111" stroke-width="0.12">Braak stage</text>
<rect x="255.75" y="559.66" width="2.0" height="33.74" fill="#9f164b"/>
<rect x="256.15" y="556.10" width="1.2" height="3.55" fill="#777"/>
<rect x="255.95" y="556.10" width="1.6" height="0.8" fill="#555"/>
<rect x="259.02" y="571.20" width="2.0" height="22.20" fill="#134b5f"/>
<rect x="262.30" y="571.20" width="2.0" height="22.20" fill="#9e9ef2"/>
<rect x="265.56" y="571.20" width="2.0" height="22.20" fill="#0b7f10"/>
<rect x="268.83" y="571.20" width="2.0" height="22.20" fill="#000000"/>
<rect x="272.10" y="571.20" width="2.0" height="22.20" fill="#d4f6e6"/>
<rect x="275.38" y="571.20" width="2.0" height="22.20" fill="#d8d8d8"/>
<rect x="278.64" y="571.20" width="2.0" height="22.20" fill="#383838"/>
<rect x="284.15" y="519.47" width="2.0" height="73.93" fill="#9f164b"/>
<rect x="284.55" y="512.81" width="1.2" height="6.66" fill="#777"/>
<rect x="284.35" y="512.81" width="1.6" height="0.8" fill="#555"/>
<rect x="287.42" y="565.65" width="2.0" height="27.75" fill="#134b5f"/>
<rect x="287.82" y="562.32" width="1.2" height="3.33" fill="#777"/>
<rect x="287.62" y="562.32" width="1.6" height="0.8" fill="#555"/>
<rect x="290.69" y="571.20" width="2.0" height="22.20" fill="#9e9ef2"/>
<rect x="293.96" y="571.20" width="2.0" height="22.20" fill="#0b7f10"/>
<rect x="297.23" y="571.20" width="2.0" height="22.20" fill="#000000"/>
<rect x="300.50" y="571.20" width="2.0" height="22.20" fill="#d4f6e6"/>
<rect x="303.77" y="568.98" width="2.0" height="24.42" fill="#d8d8d8"/>
<rect x="304.17" y="567.87" width="1.2" height="1.11" fill="#777"/>
<rect x="303.97" y="567.87" width="1.6" height="0.8" fill="#555"/>
<rect x="307.04" y="568.98" width="2.0" height="24.42" fill="#383838"/>
<rect x="307.44" y="567.87" width="1.2" height="1.11" fill="#777"/>
<rect x="307.24" y="567.87" width="1.6" height="0.8" fill="#555"/>
<rect x="312.56" y="491.28" width="2.0" height="102.12" fill="#9f164b"/>
<rect x="312.95" y="487.28" width="1.2" height="4.00" fill="#777"/>
<rect x="312.75" y="487.28" width="1.6" height="0.8" fill="#555"/>
<rect x="315.82" y="558.77" width="2.0" height="34.63" fill="#134b5f"/>
<rect x="316.22" y="553.88" width="1.2" height="4.88" fill="#777"/>
<rect x="316.02" y="553.88" width="1.6" height="0.8" fill="#555"/>
<rect x="319.10" y="556.55" width="2.0" height="36.85" fill="#9e9ef2"/>
<rect x="319.50" y="550.11" width="1.2" height="6.44" fill="#777"/>
<rect x="319.30" y="550.11" width="1.6" height="0.8" fill="#555"/>
<rect x="322.37" y="569.65" width="2.0" height="23.75" fill="#0b7f10"/>
<rect x="322.76" y="568.98" width="1.2" height="0.67" fill="#777"/>
<rect x="322.56" y="568.98" width="1.6" height="0.8" fill="#555"/>
<rect x="325.63" y="571.20" width="2.0" height="22.20" fill="#000000"/>
<rect x="328.90" y="571.20" width="2.0" height="22.20" fill="#d4f6e6"/>
<rect x="332.18" y="571.20" width="2.0" height="22.20" fill="#d8d8d8"/>
<rect x="335.44" y="569.65" width="2.0" height="23.75" fill="#383838"/>
<rect x="335.84" y="567.87" width="1.2" height="1.78" fill="#777"/>
<rect x="335.64" y="567.87" width="1.6" height="0.8" fill="#555"/>
<rect x="340.95" y="484.62" width="2.0" height="108.78" fill="#9f164b"/>
<rect x="341.35" y="476.63" width="1.2" height="7.99" fill="#777"/>
<rect x="341.15" y="476.63" width="1.6" height="0.8" fill="#555"/>
<rect x="344.22" y="534.79" width="2.0" height="58.61" fill="#134b5f"/>
<rect x="344.62" y="529.46" width="1.2" height="5.33" fill="#777"/>
<rect x="344.42" y="529.46" width="1.6" height="0.8" fill="#555"/>
<rect x="347.50" y="548.33" width="2.0" height="45.07" fill="#9e9ef2"/>
<rect x="347.89" y="539.23" width="1.2" height="9.10" fill="#777"/>
<rect x="347.69" y="539.23" width="1.6" height="0.8" fill="#555"/>
<rect x="350.76" y="558.77" width="2.0" height="34.63" fill="#0b7f10"/>
<rect x="351.16" y="556.55" width="1.2" height="2.22" fill="#777"/>
<rect x="350.96" y="556.55" width="1.6" height="0.8" fill="#555"/>
<rect x="354.03" y="564.10" width="2.0" height="29.30" fill="#000000"/>
<rect x="354.43" y="561.43" width="1.2" height="2.66" fill="#777"/>
<rect x="354.23" y="561.43" width="1.6" height="0.8" fill="#555"/>
<rect x="357.30" y="559.21" width="2.0" height="34.19" fill="#d4f6e6"/>
<rect x="360.57" y="555.88" width="2.0" height="37.52" fill="#d8d8d8"/>
<rect x="360.97" y="553.44" width="1.2" height="2.44" fill="#777"/>
<rect x="360.77" y="553.44" width="1.6" height="0.8" fill="#555"/>
<rect x="363.84" y="562.10" width="2.0" height="31.30" fill="#383838"/>
<rect x="364.24" y="555.66" width="1.2" height="6.44" fill="#777"/>
<rect x="364.04" y="555.66" width="1.6" height="0.8" fill="#555"/>
<rect x="369.35" y="486.84" width="2.0" height="106.56" fill="#9f164b"/>
<rect x="369.75" y="483.07" width="1.2" height="3.77" fill="#777"/>
<rect x="369.55" y="483.07" width="1.6" height="0.8" fill="#555"/>
<rect x="372.62" y="501.05" width="2.0" height="92.35" fill="#134b5f"/>
<rect x="373.02" y="497.72" width="1.2" height="3.33" fill="#777"/>
<rect x="372.82" y="497.72" width="1.6" height="0.8" fill="#555"/>
<rect x="375.89" y="512.81" width="2.0" height="80.59" fill="#9e9ef2"/>
<rect x="379.16" y="534.79" width="2.0" height="58.61" fill="#0b7f10"/>
<rect x="379.56" y="527.02" width="1.2" height="7.77" fill="#777"/>
<rect x="379.36" y="527.02" width="1.6" height="0.8" fill="#555"/>
<rect x="382.43" y="564.32" width="2.0" height="29.08" fill="#000000"/>
<rect x="385.70" y="546.11" width="2.0" height="47.29" fill="#d4f6e6"/>
<rect x="388.97" y="513.48" width="2.0" height="79.92" fill="#d8d8d8"/>
<rect x="389.37" y="511.93" width="1.2" height="1.55" fill="#777"/>
<rect x="389.17" y="511.93" width="1.6" height="0.8" fill="#555"/>
<rect x="392.24" y="541.90" width="2.0" height="51.50" fill="#383838"/>
<rect x="392.64" y="534.57" width="1.2" height="7.33" fill="#777"/>
<rect x="392.44" y="534.57" width="1.6" height="0.8" fill="#555"/>
<rect x="397.75" y="475.52" width="2.0" height="117.88" fill="#9f164b"/>
<rect x="401.02" y="482.62" width="2.0" height="110.78" fill="#134b5f"/>
<rect x="401.42" y="475.52" width="1.2" height="7.10" fill="#777"/>
<rect x="401.22" y="475.52" width="1.6" height="0.8" fill="#555"/>
<rect x="404.30" y="486.40" width="2.0" height="107.00" fill="#9e9ef2"/>
<rect x="404.69" y="482.62" width="1.2" height="3.77" fill="#777"/>
<rect x="404.50" y="482.62" width="1.6" height="0.8" fill="#555"/>
<rect x="407.56" y="493.94" width="2.0" height="99.46" fill="#0b7f10"/>
<rect x="407.96" y="482.62" width="1.2" height="11.32" fill="#777"/>
<rect x="407.76" y="482.62" width="1.6" height="0.8" fill="#555"/>
<rect x="410.83" y="541.90" width="2.0" height="51.50" fill="#000000"/>
<rect x="411.23" y="538.12" width="1.2" height="3.77" fill="#777"/>
<rect x="411.03" y="538.12" width="1.6" height="0.8" fill="#555"/>
<rect x="414.10" y="527.24" width="2.0" height="66.16" fill="#d4f6e6"/>
<rect x="417.38" y="505.49" width="2.0" height="87.91" fill="#d8d8d8"/>
<rect x="417.77" y="482.62" width="1.2" height="22.87" fill="#777"/>
<rect x="417.57" y="482.62" width="1.6" height="0.8" fill="#555"/>
<rect x="420.64" y="508.60" width="2.0" height="84.80" fill="#383838"/>
<rect x="421.04" y="497.72" width="1.2" height="10.88" fill="#777"/>
<rect x="420.84" y="497.72" width="1.6" height="0.8" fill="#555"/>
<rect x="426.15" y="460.64" width="2.0" height="132.76" fill="#9f164b"/>
<rect x="429.42" y="479.29" width="2.0" height="114.11" fill="#134b5f"/>
<rect x="429.82" y="475.52" width="1.2" height="3.77" fill="#777"/>
<rect x="429.62" y="475.52" width="1.6" height="0.8" fill="#555"/>
<rect x="432.69" y="475.52" width="2.0" height="117.88" fill="#9e9ef2"/>
<rect x="435.96" y="486.40" width="2.0" height="107.00" fill="#0b7f10"/>
<rect x="436.36" y="482.62" width="1.2" height="3.77" fill="#777"/>
<rect x="436.16" y="482.62" width="1.6" height="0.8" fill="#555"/>
<rect x="439.23" y="508.60" width="2.0" height="84.80" fill="#000000"/>
<rect x="439.63" y="504.82" width="1.2" height="3.77" fill="#777"/>
<rect x="439.43" y="504.82" width="1.6" height="0.8" fill="#555"/>
<rect x="442.50" y="523.69" width="2.0" height="69.71" fill="#d4f6e6"/>
<rect x="445.77" y="486.84" width="2.0" height="106.56" fill="#d8d8d8"/>
<rect x="446.17" y="475.52" width="1.2" height="11.32" fill="#777"/>
<rect x="445.97" y="475.52" width="1.6" height="0.8" fill="#555"/>
<rect x="449.04" y="486.40" width="2.0" height="107.00" fill="#383838"/>
<rect x="449.44" y="482.62" width="1.2" height="3.77" fill="#777"/>
<rect x="449.24" y="482.62" width="1.6" height="0.8" fill="#555"/>
<rect x="253.40" y="459.70" width="1.2" height="134.20" fill="#5a5a5a"/>
<rect x="253.40" y="592.80" width="198.80" height="1.2" fill="#222"/>
<rect x="250.00" y="592.90" width="4" height="1" fill="#222"/>
<text x="248.40" y="596.00" text-anchor="end" font-size="7.3" fill="#222" stroke="#222" stroke-width="0.12">0</text>
<rect x="250.00" y="570.70" width="4" height="1" fill="#222"/>
<text x="248.40" y="573.80" text-anchor="end" font-size="7.3" fill="#222" stroke="#222" stroke-width="0.12">1</text>
<rect x="250.00" y="548.50" width="4" height="1" fill="#222"/>
<text x="248.40" y="551.60" text-anchor="end" font-size="7.3" fill="#222" stroke="#222" stroke-width="0.12">2</text>
<rect x="250.00" y="526.30" width="4" height="1" fill="#222"/>
<text x="248.40" y="529.40" text-anchor="end" font-size="7.3" fill="#222" stroke="#222" stroke-width="0.12">3</text>
<rect x="250.00" y="504.10" width="4" height="1" fill="#222"/>
<text x="248.40" y="507.20" text-anchor="end" font-size="7.3" fill="#222" stroke="#222" stroke-width="0.12">4</text>
<rect x="250.00" y="481.90" width="4" height="1" fill="#222"/>
<text x="248.40" y="485.00" text-anchor="end" font-size="7.3" fill="#222" stroke="#222" stroke-width="0.12">5</text>
<rect x="250.00" y="459.70" width="4" height="1" fill="#222"/>
<text x="248.40" y="462.80" text-anchor="end" font-size="7.3" fill="#222" stroke="#222" stroke-width="0.12">6</text>
<rect x="267.70" y="593.40" width="1" height="2.6" fill="#222"/>
<text x="268.20" y="608.80" text-anchor="middle" font-size="7.8" fill="#333" stroke="#333" stroke-width="0.1">O</text>
<rect x="296.10" y="593.40" width="1" height="2.6" fill="#222"/>
<text x="296.60" y="608.80" text-anchor="middle" font-size="7.8" fill="#333" stroke="#333" stroke-width="0.1">I</text>
<rect x="324.50" y="593.40" width="1" height="2.6" fill="#222"/>
<text x="325.00" y="608.80" text-anchor="middle" font-size="7.8" fill="#333" stroke="#333" stroke-width="0.1">II</text>
<rect x="352.90" y="593.40" width="1" height="2.6" fill="#222"/>
<text x="353.40" y="608.80" text-anchor="middle" font-size="7.8" fill="#333" stroke="#333" stroke-width="0.1">III</text>
<rect x="381.30" y="593.40" width="1" height="2.6" fill="#222"/>
<text x="381.80" y="608.80" text-anchor="middle" font-size="7.8" fill="#333" stroke="#333" stroke-width="0.1">IV</text>
<rect x="409.70" y="593.40" width="1" height="2.6" fill="#222"/>
<text x="410.20" y="608.80" text-anchor="middle" font-size="7.8" fill="#333" stroke="#333" stroke-width="0.1">V</text>
<rect x="438.10" y="593.40" width="1" height="2.6" fill="#222"/>
<text x="438.60" y="608.80" text-anchor="middle" font-size="7.8" fill="#333" stroke="#333" stroke-width="0.1">VI</text>
<text x="0" y="0" transform="translate(353.4,447.7) scale(0.75,1)" text-anchor="middle" font-size="10.3" font-weight="bold" fill="#111" stroke="#111" stroke-width="0.25">TC</text>
<text x="0" y="0" transform="translate(239.8,524.5) rotate(-90)" text-anchor="middle" font-size="9" textLength="22.5" lengthAdjust="spacingAndGlyphs" fill="#111" stroke="#111" stroke-width="0.15">Score</text>
<text x="353.4" y="620.8" text-anchor="middle" font-size="9.2" textLength="47.5" lengthAdjust="spacingAndGlyphs" fill="#111" stroke="#111" stroke-width="0.12">Braak stage</text>
<rect x="486.95" y="562.10" width="2.0" height="31.30" fill="#9f164b"/>
<rect x="487.35" y="560.10" width="1.2" height="2.00" fill="#777"/>
<rect x="487.15" y="560.10" width="1.6" height="0.8" fill="#555"/>
<rect x="490.22" y="571.20" width="2.0" height="22.20" fill="#134b5f"/>
<rect x="493.50" y="571.20" width="2.0" height="22.20" fill="#9e9ef2"/>
<rect x="496.76" y="571.20" width="2.0" height="22.20" fill="#0b7f10"/>
<rect x="500.03" y="571.20" width="2.0" height="22.20" fill="#000000"/>
<rect x="503.30" y="571.20" width="2.0" height="22.20" fill="#d4f6e6"/>
<rect x="506.57" y="571.20" width="2.0" height="22.20" fill="#d8d8d8"/>
<rect x="509.84" y="571.20" width="2.0" height="22.20" fill="#505050"/>
<rect x="515.38" y="556.10" width="2.0" height="37.30" fill="#9f164b"/>
<rect x="515.78" y="551.22" width="1.2" height="4.88" fill="#777"/>
<rect x="515.58" y="551.22" width="1.6" height="0.8" fill="#555"/>
<rect x="518.65" y="571.20" width="2.0" height="22.20" fill="#134b5f"/>
<rect x="521.92" y="571.20" width="2.0" height="22.20" fill="#9e9ef2"/>
<rect x="525.19" y="571.20" width="2.0" height="22.20" fill="#0b7f10"/>
<rect x="528.46" y="571.20" width="2.0" height="22.20" fill="#000000"/>
<rect x="531.73" y="571.20" width="2.0" height="22.20" fill="#d4f6e6"/>
<rect x="535.00" y="571.20" width="2.0" height="22.20" fill="#d8d8d8"/>
<rect x="538.27" y="571.20" width="2.0" height="22.20" fill="#505050"/>
<rect x="543.81" y="550.11" width="2.0" height="43.29" fill="#9f164b"/>
<rect x="544.21" y="545.23" width="1.2" height="4.88" fill="#777"/>
<rect x="544.01" y="545.23" width="1.6" height="0.8" fill="#555"/>
<rect x="547.09" y="568.76" width="2.0" height="24.64" fill="#134b5f"/>
<rect x="547.49" y="566.98" width="1.2" height="1.78" fill="#777"/>
<rect x="547.29" y="566.98" width="1.6" height="0.8" fill="#555"/>
<rect x="550.36" y="565.21" width="2.0" height="28.19" fill="#9e9ef2"/>
<rect x="550.75" y="560.54" width="1.2" height="4.66" fill="#777"/>
<rect x="550.56" y="560.54" width="1.6" height="0.8" fill="#555"/>
<rect x="553.62" y="571.20" width="2.0" height="22.20" fill="#0b7f10"/>
<rect x="556.89" y="571.20" width="2.0" height="22.20" fill="#000000"/>
<rect x="560.16" y="571.20" width="2.0" height="22.20" fill="#d4f6e6"/>
<rect x="563.43" y="571.20" width="2.0" height="22.20" fill="#d8d8d8"/>
<rect x="566.71" y="571.20" width="2.0" height="22.20" fill="#505050"/>
<rect x="572.24" y="532.79" width="2.0" height="60.61" fill="#9f164b"/>
<rect x="572.64" y="525.47" width="1.2" height="7.33" fill="#777"/>
<rect x="572.44" y="525.47" width="1.6" height="0.8" fill="#555"/>
<rect x="575.51" y="571.20" width="2.0" height="22.20" fill="#134b5f"/>
<rect x="578.78" y="566.98" width="2.0" height="26.42" fill="#9e9ef2"/>
<rect x="579.18" y="563.21" width="1.2" height="3.77" fill="#777"/>
<rect x="578.99" y="563.21" width="1.6" height="0.8" fill="#555"/>
<rect x="582.05" y="571.20" width="2.0" height="22.20" fill="#0b7f10"/>
<rect x="585.32" y="571.20" width="2.0" height="22.20" fill="#000000"/>
<rect x="588.59" y="571.20" width="2.0" height="22.20" fill="#d4f6e6"/>
<rect x="591.86" y="571.20" width="2.0" height="22.20" fill="#d8d8d8"/>
<rect x="595.13" y="571.20" width="2.0" height="22.20" fill="#505050"/>
<rect x="600.67" y="516.14" width="2.0" height="77.26" fill="#9f164b"/>
<rect x="601.07" y="504.16" width="1.2" height="11.99" fill="#777"/>
<rect x="600.88" y="504.16" width="1.6" height="0.8" fill="#555"/>
<rect x="603.95" y="571.20" width="2.0" height="22.20" fill="#134b5f"/>
<rect x="607.22" y="549.22" width="2.0" height="44.18" fill="#9e9ef2"/>
<rect x="610.49" y="571.20" width="2.0" height="22.20" fill="#0b7f10"/>
<rect x="613.75" y="561.65" width="2.0" height="31.75" fill="#000000"/>
<rect x="614.15" y="554.55" width="1.2" height="7.10" fill="#777"/>
<rect x="613.96" y="554.55" width="1.6" height="0.8" fill="#555"/>
<rect x="617.02" y="566.76" width="2.0" height="26.64" fill="#d4f6e6"/>
<rect x="617.42" y="563.21" width="1.2" height="3.55" fill="#777"/>
<rect x="617.23" y="563.21" width="1.6" height="0.8" fill="#555"/>
<rect x="620.29" y="571.20" width="2.0" height="22.20" fill="#d8d8d8"/>
<rect x="623.57" y="571.20" width="2.0" height="22.20" fill="#505050"/>
<rect x="629.10" y="504.82" width="2.0" height="88.58" fill="#9f164b"/>
<rect x="632.38" y="544.78" width="2.0" height="48.62" fill="#134b5f"/>
<rect x="632.77" y="541.01" width="1.2" height="3.77" fill="#777"/>
<rect x="632.58" y="541.01" width="1.6" height="0.8" fill="#555"/>
<rect x="635.64" y="542.12" width="2.0" height="51.28" fill="#9e9ef2"/>
<rect x="636.04" y="526.36" width="1.2" height="15.76" fill="#777"/>
<rect x="635.85" y="526.36" width="1.6" height="0.8" fill="#555"/>
<rect x="638.91" y="556.10" width="2.0" height="37.30" fill="#0b7f10"/>
<rect x="642.18" y="571.20" width="2.0" height="22.20" fill="#000000"/>
<rect x="645.45" y="560.10" width="2.0" height="33.30" fill="#d4f6e6"/>
<rect x="645.85" y="557.88" width="1.2" height="2.22" fill="#777"/>
<rect x="645.65" y="557.88" width="1.6" height="0.8" fill="#555"/>
<rect x="648.72" y="556.77" width="2.0" height="36.63" fill="#d8d8d8"/>
<rect x="649.12" y="548.56" width="1.2" height="8.21" fill="#777"/>
<rect x="648.92" y="548.56" width="1.6" height="0.8" fill="#555"/>
<rect x="652.00" y="567.65" width="2.0" height="25.75" fill="#505050"/>
<rect x="652.39" y="563.21" width="1.2" height="4.44" fill="#777"/>
<rect x="652.20" y="563.21" width="1.6" height="0.8" fill="#555"/>
<rect x="657.53" y="478.85" width="2.0" height="114.55" fill="#9f164b"/>
<rect x="657.93" y="474.85" width="1.2" height="4.00" fill="#777"/>
<rect x="657.74" y="474.85" width="1.6" height="0.8" fill="#555"/>
<rect x="660.81" y="497.27" width="2.0" height="96.13" fill="#134b5f"/>
<rect x="664.08" y="478.85" width="2.0" height="114.55" fill="#9e9ef2"/>
<rect x="664.48" y="474.85" width="1.2" height="4.00" fill="#777"/>
<rect x="664.28" y="474.85" width="1.6" height="0.8" fill="#555"/>
<rect x="667.35" y="486.17" width="2.0" height="107.23" fill="#0b7f10"/>
<rect x="667.75" y="482.18" width="1.2" height="4.00" fill="#777"/>
<rect x="667.55" y="482.18" width="1.6" height="0.8" fill="#555"/>
<rect x="670.62" y="508.15" width="2.0" height="85.25" fill="#000000"/>
<rect x="671.01" y="504.16" width="1.2" height="4.00" fill="#777"/>
<rect x="670.82" y="504.16" width="1.6" height="0.8" fill="#555"/>
<rect x="673.88" y="507.49" width="2.0" height="85.91" fill="#d4f6e6"/>
<rect x="674.28" y="505.71" width="1.2" height="1.78" fill="#777"/>
<rect x="674.09" y="505.71" width="1.6" height="0.8" fill="#555"/>
<rect x="677.15" y="508.15" width="2.0" height="85.25" fill="#d8d8d8"/>
<rect x="677.55" y="504.16" width="1.2" height="4.00" fill="#777"/>
<rect x="677.36" y="504.16" width="1.6" height="0.8" fill="#555"/>
<rect x="680.43" y="511.70" width="2.0" height="81.70" fill="#505050"/>
<rect x="484.60" y="459.70" width="1.2" height="134.20" fill="#222"/>
<rect x="484.60" y="592.80" width="196.30" height="1.2" fill="#222"/>
<rect x="481.20" y="592.90" width="4" height="1" fill="#222"/>
<text x="479.60" y="596.00" text-anchor="end" font-size="7.3" fill="#222" stroke="#222" stroke-width="0.12">0</text>
<rect x="481.20" y="570.70" width="4" height="1" fill="#222"/>
<text x="479.60" y="573.80" text-anchor="end" font-size="7.3" fill="#222" stroke="#222" stroke-width="0.12">1</text>
<rect x="481.20" y="548.50" width="4" height="1" fill="#222"/>
<text x="479.60" y="551.60" text-anchor="end" font-size="7.3" fill="#222" stroke="#222" stroke-width="0.12">2</text>
<rect x="481.20" y="526.30" width="4" height="1" fill="#222"/>
<text x="479.60" y="529.40" text-anchor="end" font-size="7.3" fill="#222" stroke="#222" stroke-width="0.12">3</text>
<rect x="481.20" y="504.10" width="4" height="1" fill="#222"/>
<text x="479.60" y="507.20" text-anchor="end" font-size="7.3" fill="#222" stroke="#222" stroke-width="0.12">4</text>
<rect x="481.20" y="481.90" width="4" height="1" fill="#222"/>
<text x="479.60" y="485.00" text-anchor="end" font-size="7.3" fill="#222" stroke="#222" stroke-width="0.12">5</text>
<rect x="481.20" y="459.70" width="4" height="1" fill="#222"/>
<text x="479.60" y="462.80" text-anchor="end" font-size="7.3" fill="#222" stroke="#222" stroke-width="0.12">6</text>
<rect x="498.90" y="593.40" width="1" height="2.6" fill="#222"/>
<text x="499.40" y="608.80" text-anchor="middle" font-size="7.8" fill="#333" stroke="#333" stroke-width="0.1">O</text>
<rect x="527.33" y="593.40" width="1" height="2.6" fill="#222"/>
<text x="527.83" y="608.80" text-anchor="middle" font-size="7.8" fill="#333" stroke="#333" stroke-width="0.1">I</text>
<rect x="555.76" y="593.40" width="1" height="2.6" fill="#222"/>
<text x="556.26" y="608.80" text-anchor="middle" font-size="7.8" fill="#333" stroke="#333" stroke-width="0.1">II</text>
<rect x="584.19" y="593.40" width="1" height="2.6" fill="#222"/>
<text x="584.69" y="608.80" text-anchor="middle" font-size="7.8" fill="#333" stroke="#333" stroke-width="0.1">III</text>
<rect x="612.62" y="593.40" width="1" height="2.6" fill="#222"/>
<text x="613.12" y="608.80" text-anchor="middle" font-size="7.8" fill="#333" stroke="#333" stroke-width="0.1">IV</text>
<rect x="641.05" y="593.40" width="1" height="2.6" fill="#222"/>
<text x="641.55" y="608.80" text-anchor="middle" font-size="7.8" fill="#333" stroke="#333" stroke-width="0.1">V</text>
<rect x="669.48" y="593.40" width="1" height="2.6" fill="#222"/>
<text x="669.98" y="608.80" text-anchor="middle" font-size="7.8" fill="#333" stroke="#333" stroke-width="0.1">VI</text>
<text x="0" y="0" transform="translate(584.3,447.5) scale(1.05,1)" text-anchor="middle" font-size="10.3" font-weight="bold" fill="#111" stroke="#111" stroke-width="0.25">OC</text>
<text x="0" y="0" transform="translate(467.6,524.5) rotate(-90)" text-anchor="middle" font-size="9" textLength="22.5" lengthAdjust="spacingAndGlyphs" fill="#111" stroke="#111" stroke-width="0.15">Score</text>
<text x="584.7" y="620.3" text-anchor="middle" font-size="9.2" textLength="47.5" lengthAdjust="spacingAndGlyphs" fill="#111" stroke="#111" stroke-width="0.12">Braak stage</text>
<text x="4.4" y="438.4" font-size="11" font-weight="bold" fill="#111" stroke="#111" stroke-width="0.3">B</text>
<rect x="7.4" y="626.50" width="10" height="4" fill="#9f164b" stroke="#333" stroke-width="0.6"/>
<text x="23.5" y="630.90" font-size="6.8" letter-spacing="0.55" fill="#222">TAU-PLA</text>
<rect x="7.4" y="636.10" width="10" height="4" fill="#134b5f" stroke="#333" stroke-width="0.6"/>
<text x="23.5" y="640.50" font-size="6.8" letter-spacing="0.55" fill="#222">AT180</text>
<rect x="7.4" y="644.90" width="10" height="4" fill="#9e9ef2" stroke="#333" stroke-width="0.6"/>
<text x="23.5" y="649.30" font-size="6.8" letter-spacing="0.55" fill="#222">T217</text>
<rect x="7.4" y="653.20" width="10" height="4" fill="#0b7f10" stroke="#333" stroke-width="0.6"/>
<text x="23.5" y="657.60" font-size="6.8" letter-spacing="0.55" fill="#222">AT8</text>
<rect x="7.4" y="662.60" width="10" height="4" fill="#000000" stroke="#333" stroke-width="0.6"/>
<text x="23.5" y="667.00" font-size="6.8" letter-spacing="0.55" fill="#222">PHF1</text>
<rect x="7.4" y="671.40" width="10" height="4" fill="#d4f6e6" stroke="#333" stroke-width="0.6"/>
<text x="23.5" y="675.80" font-size="6.8" letter-spacing="0.55" fill="#222">S422</text>
<rect x="7.4" y="679.90" width="10" height="4" fill="#d8d8d8" stroke="#333" stroke-width="0.6"/>
<text x="23.5" y="684.30" font-size="6.8" letter-spacing="0.55" fill="#222">MC1</text>
<rect x="7.4" y="688.40" width="10" height="4" fill="#5c5c5c" stroke="#333" stroke-width="0.6"/>
<text x="23.5" y="692.80" font-size="6.8" letter-spacing="0.55" fill="#222">ALZ50</text>
</svg>
</body></html>
